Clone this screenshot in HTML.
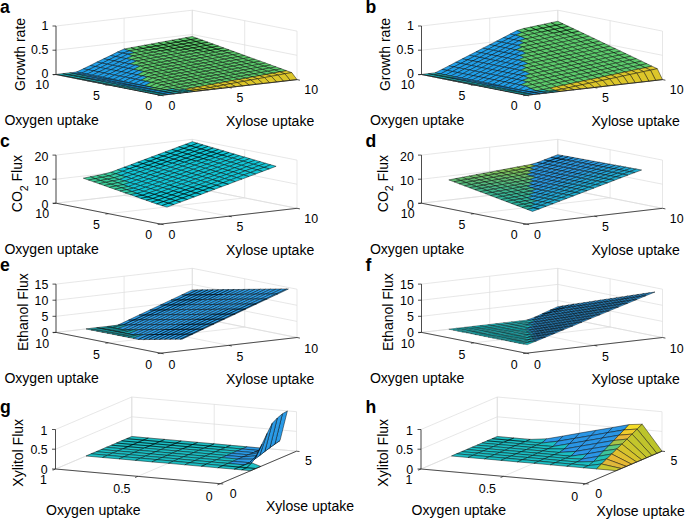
<!DOCTYPE html>
<html><head><meta charset="utf-8"><style>html,body{margin:0;padding:0;background:#fff;width:685px;height:520px;overflow:hidden}svg{display:block}text{font-family:"Liberation Sans",sans-serif}</style></head>
<body><svg width="685" height="520" viewBox="0 0 685 520" font-family='"Liberation Sans", sans-serif' fill="#000"><line x1="160.7" y1="95.3" x2="56" y2="74.5" stroke="#dcdcdc" stroke-width="0.7"/>
<line x1="56" y1="74.5" x2="56" y2="26" stroke="#dcdcdc" stroke-width="0.7"/>
<line x1="228.8" y1="87.5" x2="124.1" y2="66.6" stroke="#dcdcdc" stroke-width="0.7"/>
<line x1="124.1" y1="66.6" x2="124.1" y2="18.1" stroke="#dcdcdc" stroke-width="0.7"/>
<line x1="297" y1="79.6" x2="192.3" y2="58.7" stroke="#dcdcdc" stroke-width="0.7"/>
<line x1="192.3" y1="58.7" x2="192.3" y2="10.2" stroke="#dcdcdc" stroke-width="0.7"/>
<line x1="160.7" y1="95.3" x2="297" y2="79.6" stroke="#dcdcdc" stroke-width="0.7"/>
<line x1="297" y1="79.6" x2="297" y2="31.1" stroke="#dcdcdc" stroke-width="0.7"/>
<line x1="108.3" y1="84.9" x2="244.7" y2="69.2" stroke="#dcdcdc" stroke-width="0.7"/>
<line x1="244.7" y1="69.2" x2="244.7" y2="20.7" stroke="#dcdcdc" stroke-width="0.7"/>
<line x1="56" y1="74.5" x2="192.3" y2="58.7" stroke="#dcdcdc" stroke-width="0.7"/>
<line x1="192.3" y1="58.7" x2="192.3" y2="10.2" stroke="#dcdcdc" stroke-width="0.7"/>
<line x1="56" y1="74.5" x2="192.3" y2="58.7" stroke="#dcdcdc" stroke-width="0.7"/>
<line x1="192.3" y1="58.7" x2="297" y2="79.6" stroke="#dcdcdc" stroke-width="0.7"/>
<line x1="56" y1="50.2" x2="192.3" y2="34.5" stroke="#dcdcdc" stroke-width="0.7"/>
<line x1="192.3" y1="34.5" x2="297" y2="55.3" stroke="#dcdcdc" stroke-width="0.7"/>
<line x1="56" y1="26" x2="192.3" y2="10.2" stroke="#dcdcdc" stroke-width="0.7"/>
<line x1="192.3" y1="10.2" x2="297" y2="31.1" stroke="#dcdcdc" stroke-width="0.7"/>
<g stroke="#000" stroke-width="0.45" stroke-linejoin="round">
<path fill="#5ccc6c" d="M190.7 39.6 197.5 38.4 192.3 36.5 185.5 37.7ZM183.9 40.9 190.7 39.6 185.5 37.7 178.7 39ZM196 41.5 202.8 40.3 197.5 38.4 190.7 39.6ZM177.1 42.1 183.9 40.9 178.7 39 171.9 40.2ZM189.1 42.8 196 41.5 190.7 39.6 183.9 40.9ZM201.2 43.4 208 42.2 202.8 40.3 196 41.5ZM170.3 43.4 177.1 42.1 171.9 40.2 165 41.5ZM182.3 44 189.1 42.8 183.9 40.9 177.1 42.1ZM194.4 44.7 201.2 43.4 196 41.5 189.1 42.8ZM206.4 45.3 213.2 44.1 208 42.2 201.2 43.4ZM163.5 44.6 170.3 43.4 165 41.5 158.2 42.7ZM175.5 45.3 182.3 44 177.1 42.1 170.3 43.4ZM187.6 45.9 194.4 44.7 189.1 42.8 182.3 44ZM199.6 46.6 206.4 45.3 201.2 43.4 194.4 44.7ZM156.6 45.9 163.5 44.6 158.2 42.7 151.4 44ZM211.7 47.2 218.5 46 213.2 44.1 206.4 45.3ZM168.7 46.5 175.5 45.3 170.3 43.4 163.5 44.6ZM180.7 47.2 187.6 45.9 182.3 44 175.5 45.3ZM192.8 47.8 199.6 46.6 194.4 44.7 187.6 45.9ZM149.8 47.1 156.6 45.9 151.4 44 144.6 45.2ZM204.8 48.5 211.7 47.2 206.4 45.3 199.6 46.6ZM161.9 47.8 168.7 46.5 163.5 44.6 156.6 45.9ZM216.9 49.1 223.7 47.9 218.5 46 211.7 47.2ZM173.9 48.4 180.7 47.2 175.5 45.3 168.7 46.5ZM186 49.1 192.8 47.8 187.6 45.9 180.7 47.2ZM143 48.4 149.8 47.1 144.6 45.2 137.8 46.5ZM198 49.7 204.8 48.5 199.6 46.6 192.8 47.8ZM155.1 49 161.9 47.8 156.6 45.9 149.8 47.1ZM210.1 50.4 216.9 49.1 211.7 47.2 204.8 48.5ZM167.1 49.7 173.9 48.4 168.7 46.5 161.9 47.8ZM222.1 51 228.9 49.8 223.7 47.9 216.9 49.1ZM179.2 50.3 186 49.1 180.7 47.2 173.9 48.4ZM136.2 49.6 143 48.4 137.8 46.5 131 47.7ZM191.2 51 198 49.7 192.8 47.8 186 49.1ZM148.2 50.3 155.1 49 149.8 47.1 143 48.4ZM203.3 51.6 210.1 50.4 204.8 48.5 198 49.7ZM160.3 50.9 167.1 49.7 161.9 47.8 155.1 49ZM215.3 52.3 222.1 51 216.9 49.1 210.1 50.4ZM172.4 51.6 179.2 50.3 173.9 48.4 167.1 49.7ZM129.4 50.9 136.2 49.6 131 47.7 124.1 49ZM227.4 52.9 234.2 51.7 228.9 49.8 222.1 51ZM184.4 52.2 191.2 51 186 49.1 179.2 50.3ZM141.4 51.5 148.2 50.3 143 48.4 136.2 49.6ZM196.4 52.9 203.3 51.6 198 49.7 191.2 51ZM153.5 52.2 160.3 50.9 155.1 49 148.2 50.3ZM208.5 53.5 215.3 52.3 210.1 50.4 203.3 51.6ZM165.5 52.8 172.4 51.6 167.1 49.7 160.3 50.9Z"/>
<path fill="#20a0ea" d="M122.6 53.2 129.4 50.9 124.1 49 117.3 52.1Z"/>
<path fill="#5ccc6c" d="M220.6 54.2 227.4 52.9 222.1 51 215.3 52.3ZM177.6 53.5 184.4 52.2 179.2 50.3 172.4 51.6ZM134.6 52.8 141.4 51.5 136.2 49.6 129.4 50.9ZM232.6 54.8 239.4 53.6 234.2 51.7 227.4 52.9ZM189.6 54.1 196.4 52.9 191.2 51 184.4 52.2ZM146.7 53.4 153.5 52.2 148.2 50.3 141.4 51.5ZM201.7 54.8 208.5 53.5 203.3 51.6 196.4 52.9ZM158.7 54.1 165.5 52.8 160.3 50.9 153.5 52.2Z"/>
<path fill="#20a0ea" d="M115.8 56.5 122.6 53.2 117.3 52.1 110.5 55.5Z"/>
<path fill="#5ccc6c" d="M213.7 55.4 220.6 54.2 215.3 52.3 208.5 53.5ZM170.8 54.7 177.6 53.5 172.4 51.6 165.5 52.8Z"/>
<path fill="#20a0ea" d="M127.8 54.2 134.6 52.8 129.4 50.9 122.6 53.2Z"/>
<path fill="#5ccc6c" d="M225.8 56.1 232.6 54.8 227.4 52.9 220.6 54.2ZM182.8 55.4 189.6 54.1 184.4 52.2 177.6 53.5ZM139.9 54.7 146.7 53.4 141.4 51.5 134.6 52.8ZM237.8 56.7 244.7 55.5 239.4 53.6 232.6 54.8ZM194.9 56 201.7 54.8 196.4 52.9 189.6 54.1ZM151.9 55.3 158.7 54.1 153.5 52.2 146.7 53.4Z"/>
<path fill="#20a0ea" d="M108.9 59.8 115.8 56.5 110.5 55.5 103.7 58.8Z"/>
<path fill="#5ccc6c" d="M206.9 56.7 213.7 55.4 208.5 53.5 201.7 54.8ZM164 56 170.8 54.7 165.5 52.8 158.7 54.1Z"/>
<path fill="#20a0ea" d="M121 57.6 127.8 54.2 122.6 53.2 115.8 56.5Z"/>
<path fill="#5ccc6c" d="M219 57.3 225.8 56.1 220.6 54.2 213.7 55.4ZM176 56.6 182.8 55.4 177.6 53.5 170.8 54.7ZM133 55.9 139.9 54.7 134.6 52.8 127.8 54.2ZM231 58 237.8 56.7 232.6 54.8 225.8 56.1ZM188.1 57.3 194.9 56 189.6 54.1 182.8 55.4ZM145.1 56.6 151.9 55.3 146.7 53.4 139.9 54.7Z"/>
<path fill="#20a0ea" d="M102.1 63.2 108.9 59.8 103.7 58.8 96.9 62.1Z"/>
<path fill="#5ccc6c" d="M243.1 58.6 249.9 57.4 244.7 55.5 237.8 56.7ZM200.1 57.9 206.9 56.7 201.7 54.8 194.9 56ZM157.1 57.2 164 56 158.7 54.1 151.9 55.3Z"/>
<path fill="#20a0ea" d="M114.2 60.9 121 57.6 115.8 56.5 108.9 59.8Z"/>
<path fill="#5ccc6c" d="M212.2 58.6 219 57.3 213.7 55.4 206.9 56.7ZM169.2 57.9 176 56.6 170.8 54.7 164 56Z"/>
<path fill="#20a0ea" d="M126.2 58.6 133 55.9 127.8 54.2 121 57.6Z"/>
<path fill="#5ccc6c" d="M224.2 59.2 231 58 225.8 56.1 219 57.3ZM181.2 58.5 188.1 57.3 182.8 55.4 176 56.6ZM138.3 57.8 145.1 56.6 139.9 54.7 133 55.9Z"/>
<path fill="#20a0ea" d="M95.3 66.5 102.1 63.2 96.9 62.1 90.1 65.5Z"/>
<path fill="#5ccc6c" d="M236.3 59.9 243.1 58.6 237.8 56.7 231 58ZM193.3 59.2 200.1 57.9 194.9 56 188.1 57.3ZM150.3 58.5 157.1 57.2 151.9 55.3 145.1 56.6Z"/>
<path fill="#20a0ea" d="M107.4 64.2 114.2 60.9 108.9 59.8 102.1 63.2Z"/>
<path fill="#5ccc6c" d="M248.3 60.5 255.1 59.3 249.9 57.4 243.1 58.6ZM205.3 59.8 212.2 58.6 206.9 56.7 200.1 57.9ZM162.4 59.1 169.2 57.9 164 56 157.1 57.2Z"/>
<path fill="#20a0ea" d="M119.4 61.9 126.2 58.6 121 57.6 114.2 60.9Z"/>
<path fill="#5ccc6c" d="M217.4 60.5 224.2 59.2 219 57.3 212.2 58.6ZM174.4 59.8 181.2 58.5 176 56.6 169.2 57.9ZM131.5 59.6 138.3 57.8 133 55.9 126.2 58.6Z"/>
<path fill="#20a0ea" d="M88.5 69.8 95.3 66.5 90.1 65.5 83.3 68.8Z"/>
<path fill="#5ccc6c" d="M229.4 61.1 236.3 59.9 231 58 224.2 59.2ZM186.5 60.4 193.3 59.2 188.1 57.3 181.2 58.5ZM143.5 59.7 150.3 58.5 145.1 56.6 138.3 57.8Z"/>
<path fill="#20a0ea" d="M100.5 67.6 107.4 64.2 102.1 63.2 95.3 66.5Z"/>
<path fill="#5ccc6c" d="M241.5 61.8 248.3 60.5 243.1 58.6 236.3 59.9ZM198.5 61.1 205.3 59.8 200.1 57.9 193.3 59.2ZM155.6 60.4 162.4 59.1 157.1 57.2 150.3 58.5Z"/>
<path fill="#20a0ea" d="M112.6 65.3 119.4 61.9 114.2 60.9 107.4 64.2Z"/>
<path fill="#5ccc6c" d="M253.5 62.4 260.4 61.2 255.1 59.3 248.3 60.5ZM210.6 61.7 217.4 60.5 212.2 58.6 205.3 59.8ZM167.6 61 174.4 59.8 169.2 57.9 162.4 59.1Z"/>
<path fill="#20a0ea" d="M124.6 63 131.5 59.6 126.2 58.6 119.4 61.9ZM81.7 73.2 88.5 69.8 83.3 68.8 76.4 72.1Z"/>
<path fill="#5ccc6c" d="M222.6 62.4 229.4 61.1 224.2 59.2 217.4 60.5ZM179.7 61.7 186.5 60.4 181.2 58.5 174.4 59.8ZM136.7 61 143.5 59.7 138.3 57.8 131.5 59.6Z"/>
<path fill="#20a0ea" d="M93.7 70.9 100.5 67.6 95.3 66.5 88.5 69.8Z"/>
<path fill="#5ccc6c" d="M234.7 63 241.5 61.8 236.3 59.9 229.4 61.1ZM191.7 62.3 198.5 61.1 193.3 59.2 186.5 60.4ZM148.7 61.6 155.6 60.4 150.3 58.5 143.5 59.7Z"/>
<path fill="#20a0ea" d="M105.8 68.6 112.6 65.3 107.4 64.2 100.5 67.6Z"/>
<path fill="#5ccc6c" d="M246.7 63.7 253.5 62.4 248.3 60.5 241.5 61.8ZM203.8 63 210.6 61.7 205.3 59.8 198.5 61.1ZM160.8 62.3 167.6 61 162.4 59.1 155.6 60.4Z"/>
<path fill="#20a0ea" d="M117.8 66.3 124.6 63 119.4 61.9 112.6 65.3ZM74.9 74 81.7 73.2 76.4 72.1 69.6 72.9Z"/>
<path fill="#5ccc6c" d="M258.8 64.3 265.6 63.1 260.4 61.2 253.5 62.4ZM215.8 63.6 222.6 62.4 217.4 60.5 210.6 61.7ZM172.8 62.9 179.7 61.7 174.4 59.8 167.6 61Z"/>
<path fill="#20a0ea" d="M129.9 64 136.7 61 131.5 59.6 124.6 63ZM86.9 74.2 93.7 70.9 88.5 69.8 81.7 73.2Z"/>
<path fill="#5ccc6c" d="M227.9 64.3 234.7 63 229.4 61.1 222.6 62.4ZM184.9 63.6 191.7 62.3 186.5 60.4 179.7 61.7ZM141.9 62.9 148.7 61.6 143.5 59.7 136.7 61Z"/>
<path fill="#20a0ea" d="M99 71.9 105.8 68.6 100.5 67.6 93.7 70.9Z"/>
<path fill="#5ccc6c" d="M239.9 64.9 246.7 63.7 241.5 61.8 234.7 63ZM196.9 64.2 203.8 63 198.5 61.1 191.7 62.3ZM154 63.5 160.8 62.3 155.6 60.4 148.7 61.6Z"/>
<path fill="#20a0ea" d="M111 69.6 117.8 66.3 112.6 65.3 105.8 68.6Z"/>
<path fill="#1bbfc4" d="M68 74.8 74.9 74 69.6 72.9 62.8 73.7Z"/>
<path fill="#5ccc6c" d="M252 65.6 258.8 64.3 253.5 62.4 246.7 63.7ZM209 64.9 215.8 63.6 210.6 61.7 203.8 63ZM166 64.2 172.8 62.9 167.6 61 160.8 62.3Z"/>
<path fill="#20a0ea" d="M123.1 67.3 129.9 64 124.6 63 117.8 66.3ZM80.1 75 86.9 74.2 81.7 73.2 74.9 74Z"/>
<path fill="#5ccc6c" d="M264 66.2 270.8 65 265.6 63.1 258.8 64.3ZM221 65.5 227.9 64.3 222.6 62.4 215.8 63.6ZM178.1 64.8 184.9 63.6 179.7 61.7 172.8 62.9ZM135.1 65.1 141.9 62.9 136.7 61 129.9 64Z"/>
<path fill="#20a0ea" d="M92.1 75.3 99 71.9 93.7 70.9 86.9 74.2Z"/>
<path fill="#5ccc6c" d="M233.1 66.2 239.9 64.9 234.7 63 227.9 64.3ZM190.1 65.5 196.9 64.2 191.7 62.3 184.9 63.6ZM147.2 64.8 154 63.5 148.7 61.6 141.9 62.9Z"/>
<path fill="#20a0ea" d="M104.2 73 111 69.6 105.8 68.6 99 71.9Z"/>
<path fill="#1bbfc4" d="M61.2 75.5 68 74.8 62.8 73.7 56 74.5Z"/>
<path fill="#5ccc6c" d="M245.1 66.8 252 65.6 246.7 63.7 239.9 64.9ZM202.2 66.1 209 64.9 203.8 63 196.9 64.2ZM159.2 65.4 166 64.2 160.8 62.3 154 63.5Z"/>
<path fill="#20a0ea" d="M116.2 70.7 123.1 67.3 117.8 66.3 111 69.6Z"/>
<path fill="#1bbfc4" d="M73.3 75.8 80.1 75 74.9 74 68 74.8Z"/>
<path fill="#5ccc6c" d="M257.2 67.5 264 66.2 258.8 64.3 252 65.6ZM214.2 66.8 221 65.5 215.8 63.6 209 64.9ZM171.3 66.1 178.1 64.8 172.8 62.9 166 64.2Z"/>
<path fill="#20a0ea" d="M128.3 68.4 135.1 65.1 129.9 64 123.1 67.3ZM85.3 76.1 92.1 75.3 86.9 74.2 80.1 75Z"/>
<path fill="#5ccc6c" d="M269.2 68.1 276.1 66.9 270.8 65 264 66.2ZM226.3 67.4 233.1 66.2 227.9 64.3 221 65.5ZM183.3 66.7 190.1 65.5 184.9 63.6 178.1 64.8ZM140.3 66.1 147.2 64.8 141.9 62.9 135.1 65.1Z"/>
<path fill="#20a0ea" d="M97.4 76.3 104.2 73 99 71.9 92.1 75.3Z"/>
<path fill="#5ccc6c" d="M238.3 68.1 245.1 66.8 239.9 64.9 233.1 66.2ZM195.4 67.4 202.2 66.1 196.9 64.2 190.1 65.5ZM152.4 66.7 159.2 65.4 154 63.5 147.2 64.8Z"/>
<path fill="#20a0ea" d="M109.4 74 116.2 70.7 111 69.6 104.2 73Z"/>
<path fill="#1bbfc4" d="M66.5 76.6 73.3 75.8 68 74.8 61.2 75.5Z"/>
<path fill="#5ccc6c" d="M250.4 68.7 257.2 67.5 252 65.6 245.1 66.8ZM207.4 68 214.2 66.8 209 64.9 202.2 66.1ZM164.4 67.3 171.3 66.1 166 64.2 159.2 65.4Z"/>
<path fill="#20a0ea" d="M121.5 71.7 128.3 68.4 123.1 67.3 116.2 70.7Z"/>
<path fill="#1bbfc4" d="M78.5 76.8 85.3 76.1 80.1 75 73.3 75.8Z"/>
<path fill="#5ccc6c" d="M262.4 69.4 269.2 68.1 264 66.2 257.2 67.5ZM219.5 68.7 226.3 67.4 221 65.5 214.2 66.8ZM176.5 68 183.3 66.7 178.1 64.8 171.3 66.1Z"/>
<path fill="#20a0ea" d="M133.5 69.4 140.3 66.1 135.1 65.1 128.3 68.4ZM90.6 77.1 97.4 76.3 92.1 75.3 85.3 76.1Z"/>
<path fill="#5ccc6c" d="M274.5 70 281.3 68.8 276.1 66.9 269.2 68.1ZM231.5 69.3 238.3 68.1 233.1 66.2 226.3 67.4ZM188.5 68.6 195.4 67.4 190.1 65.5 183.3 66.7ZM145.6 67.9 152.4 66.7 147.2 64.8 140.3 66.1Z"/>
<path fill="#20a0ea" d="M102.6 77.3 109.4 74 104.2 73 97.4 76.3Z"/>
<path fill="#5ccc6c" d="M243.6 70 250.4 68.7 245.1 66.8 238.3 68.1ZM200.6 69.3 207.4 68 202.2 66.1 195.4 67.4ZM157.6 68.6 164.4 67.3 159.2 65.4 152.4 66.7Z"/>
<path fill="#20a0ea" d="M114.7 75.1 121.5 71.7 116.2 70.7 109.4 74Z"/>
<path fill="#1bbfc4" d="M71.7 77.6 78.5 76.8 73.3 75.8 66.5 76.6Z"/>
<path fill="#5ccc6c" d="M255.6 70.6 262.4 69.4 257.2 67.5 250.4 68.7ZM212.6 69.9 219.5 68.7 214.2 66.8 207.4 68ZM169.7 69.2 176.5 68 171.3 66.1 164.4 67.3Z"/>
<path fill="#20a0ea" d="M126.7 72.8 133.5 69.4 128.3 68.4 121.5 71.7Z"/>
<path fill="#1bbfc4" d="M83.8 77.9 90.6 77.1 85.3 76.1 78.5 76.8Z"/>
<path fill="#5ccc6c" d="M267.7 71.3 274.5 70 269.2 68.1 262.4 69.4ZM224.7 70.6 231.5 69.3 226.3 67.4 219.5 68.7ZM181.7 69.9 188.5 68.6 183.3 66.7 176.5 68ZM138.8 70.5 145.6 67.9 140.3 66.1 133.5 69.4Z"/>
<path fill="#20a0ea" d="M95.8 78.1 102.6 77.3 97.4 76.3 90.6 77.1Z"/>
<path fill="#5ccc6c" d="M279.7 71.9 286.5 70.7 281.3 68.8 274.5 70ZM236.8 71.2 243.6 70 238.3 68.1 231.5 69.3ZM193.8 70.5 200.6 69.3 195.4 67.4 188.5 68.6ZM150.8 69.8 157.6 68.6 152.4 66.7 145.6 67.9Z"/>
<path fill="#20a0ea" d="M107.9 78.4 114.7 75.1 109.4 74 102.6 77.3Z"/>
<path fill="#5ccc6c" d="M248.8 71.9 255.6 70.6 250.4 68.7 243.6 70ZM205.8 71.2 212.6 69.9 207.4 68 200.6 69.3ZM162.9 70.5 169.7 69.2 164.4 67.3 157.6 68.6Z"/>
<path fill="#20a0ea" d="M119.9 76.1 126.7 72.8 121.5 71.7 114.7 75.1Z"/>
<path fill="#1bbfc4" d="M76.9 78.7 83.8 77.9 78.5 76.8 71.7 77.6Z"/>
<path fill="#5ccc6c" d="M260.9 72.5 267.7 71.3 262.4 69.4 255.6 70.6ZM217.9 71.8 224.7 70.6 219.5 68.7 212.6 69.9ZM174.9 71.1 181.7 69.9 176.5 68 169.7 69.2Z"/>
<path fill="#20a0ea" d="M132 73.8 138.8 70.5 133.5 69.4 126.7 72.8ZM89 78.9 95.8 78.1 90.6 77.1 83.8 77.9Z"/>
<path fill="#5ccc6c" d="M272.9 73.2 279.7 71.9 274.5 70 267.7 71.3ZM229.9 72.5 236.8 71.2 231.5 69.3 224.7 70.6ZM187 71.8 193.8 70.5 188.5 68.6 181.7 69.9ZM144 71.5 150.8 69.8 145.6 67.9 138.8 70.5Z"/>
<path fill="#20a0ea" d="M101 79.2 107.9 78.4 102.6 77.3 95.8 78.1Z"/>
<path fill="#dcc62a" d="M284.9 73.8 291.8 72.6 286.5 70.7 279.7 71.9Z"/>
<path fill="#5ccc6c" d="M242 73.1 248.8 71.9 243.6 70 236.8 71.2ZM199 72.4 205.8 71.2 200.6 69.3 193.8 70.5ZM156.1 71.7 162.9 70.5 157.6 68.6 150.8 69.8Z"/>
<path fill="#20a0ea" d="M113.1 79.4 119.9 76.1 114.7 75.1 107.9 78.4Z"/>
<path fill="#5ccc6c" d="M254 73.8 260.9 72.5 255.6 70.6 248.8 71.9ZM211.1 73.1 217.9 71.8 212.6 69.9 205.8 71.2ZM168.1 72.4 174.9 71.1 169.7 69.2 162.9 70.5Z"/>
<path fill="#20a0ea" d="M125.1 77.1 132 73.8 126.7 72.8 119.9 76.1Z"/>
<path fill="#1bbfc4" d="M82.2 79.7 89 78.9 83.8 77.9 76.9 78.7Z"/>
<path fill="#5ccc6c" d="M266.1 74.4 272.9 73.2 267.7 71.3 260.9 72.5ZM223.1 73.7 229.9 72.5 224.7 70.6 217.9 71.8ZM180.2 73 187 71.8 181.7 69.9 174.9 71.1Z"/>
<path fill="#20a0ea" d="M137.2 74.9 144 71.5 138.8 70.5 132 73.8ZM94.2 80 101 79.2 95.8 78.1 89 78.9Z"/>
<path fill="#dcc62a" d="M278.1 75.1 284.9 73.8 279.7 71.9 272.9 73.2Z"/>
<path fill="#5ccc6c" d="M235.2 74.4 242 73.1 236.8 71.2 229.9 72.5ZM192.2 73.7 199 72.4 193.8 70.5 187 71.8ZM149.2 72.9 156.1 71.7 150.8 69.8 144 71.5Z"/>
<path fill="#20a0ea" d="M106.3 80.2 113.1 79.4 107.9 78.4 101 79.2Z"/>
<path fill="#dcc62a" d="M290.2 80.4 297 79.6 291.8 72.6 284.9 73.8Z"/>
<path fill="#5ccc6c" d="M247.2 75 254 73.8 248.8 71.9 242 73.1ZM204.3 74.3 211.1 73.1 205.8 71.2 199 72.4ZM161.3 73.6 168.1 72.4 162.9 70.5 156.1 71.7Z"/>
<path fill="#20a0ea" d="M118.3 80.5 125.1 77.1 119.9 76.1 113.1 79.4Z"/>
<path fill="#5ccc6c" d="M259.3 75.7 266.1 74.4 260.9 72.5 254 73.8ZM216.3 75 223.1 73.7 217.9 71.8 211.1 73.1ZM173.3 74.2 180.2 73 174.9 71.1 168.1 72.4Z"/>
<path fill="#20a0ea" d="M130.4 78.2 137.2 74.9 132 73.8 125.1 77.1Z"/>
<path fill="#1bbfc4" d="M87.4 80.8 94.2 80 89 78.9 82.2 79.7Z"/>
<path fill="#dcc62a" d="M271.3 76.3 278.1 75.1 272.9 73.2 266.1 74.4Z"/>
<path fill="#5ccc6c" d="M228.4 75.6 235.2 74.4 229.9 72.5 223.1 73.7ZM185.4 74.9 192.2 73.7 187 71.8 180.2 73ZM142.4 75.9 149.2 72.9 144 71.5 137.2 74.9Z"/>
<path fill="#20a0ea" d="M99.5 81 106.3 80.2 101 79.2 94.2 80Z"/>
<path fill="#dcc62a" d="M283.4 81.2 290.2 80.4 284.9 73.8 278.1 75.1Z"/>
<path fill="#5ccc6c" d="M240.4 76.3 247.2 75 242 73.1 235.2 74.4ZM197.4 75.6 204.3 74.3 199 72.4 192.2 73.7ZM154.5 74.8 161.3 73.6 156.1 71.7 149.2 72.9Z"/>
<path fill="#20a0ea" d="M111.5 81.3 118.3 80.5 113.1 79.4 106.3 80.2Z"/>
<path fill="#5ccc6c" d="M252.5 76.9 259.3 75.7 254 73.8 247.2 75ZM209.5 76.2 216.3 75 211.1 73.1 204.3 74.3ZM166.5 75.5 173.3 74.2 168.1 72.4 161.3 73.6Z"/>
<path fill="#20a0ea" d="M123.6 81.5 130.4 78.2 125.1 77.1 118.3 80.5Z"/>
<path fill="#dcc62a" d="M264.5 77.6 271.3 76.3 266.1 74.4 259.3 75.7Z"/>
<path fill="#5ccc6c" d="M221.5 76.9 228.4 75.6 223.1 73.7 216.3 75ZM178.6 76.1 185.4 74.9 180.2 73 173.3 74.2Z"/>
<path fill="#20a0ea" d="M135.6 79.2 142.4 75.9 137.2 74.9 130.4 78.2Z"/>
<path fill="#1bbfc4" d="M92.6 81.8 99.5 81 94.2 80 87.4 80.8Z"/>
<path fill="#dcc62a" d="M276.6 82 283.4 81.2 278.1 75.1 271.3 76.3Z"/>
<path fill="#5ccc6c" d="M233.6 77.5 240.4 76.3 235.2 74.4 228.4 75.6ZM190.6 76.8 197.4 75.6 192.2 73.7 185.4 74.9ZM147.7 76.9 154.5 74.8 149.2 72.9 142.4 75.9Z"/>
<path fill="#20a0ea" d="M104.7 82.1 111.5 81.3 106.3 80.2 99.5 81Z"/>
<path fill="#5ccc6c" d="M245.6 78.2 252.5 76.9 247.2 75 240.4 76.3ZM202.7 77.4 209.5 76.2 204.3 74.3 197.4 75.6ZM159.7 76.7 166.5 75.5 161.3 73.6 154.5 74.8Z"/>
<path fill="#20a0ea" d="M116.7 82.3 123.6 81.5 118.3 80.5 111.5 81.3Z"/>
<path fill="#dcc62a" d="M257.7 78.8 264.5 77.6 259.3 75.7 252.5 76.9Z"/>
<path fill="#5ccc6c" d="M214.7 78.1 221.5 76.9 216.3 75 209.5 76.2ZM171.8 77.4 178.6 76.1 173.3 74.2 166.5 75.5Z"/>
<path fill="#20a0ea" d="M128.8 82.6 135.6 79.2 130.4 78.2 123.6 81.5Z"/>
<path fill="#dcc62a" d="M269.7 82.8 276.6 82 271.3 76.3 264.5 77.6Z"/>
<path fill="#5ccc6c" d="M226.8 78.7 233.6 77.5 228.4 75.6 221.5 76.9ZM183.8 78 190.6 76.8 185.4 74.9 178.6 76.1Z"/>
<path fill="#20a0ea" d="M140.8 80.3 147.7 76.9 142.4 75.9 135.6 79.2Z"/>
<path fill="#1bbfc4" d="M97.9 82.8 104.7 82.1 99.5 81 92.6 81.8Z"/>
<path fill="#5ccc6c" d="M238.8 79.4 245.6 78.2 240.4 76.3 233.6 77.5ZM195.9 78.7 202.7 77.4 197.4 75.6 190.6 76.8ZM152.9 78 159.7 76.7 154.5 74.8 147.7 76.9Z"/>
<path fill="#20a0ea" d="M109.9 83.1 116.7 82.3 111.5 81.3 104.7 82.1Z"/>
<path fill="#dcc62a" d="M250.9 80 257.7 78.8 252.5 76.9 245.6 78.2Z"/>
<path fill="#5ccc6c" d="M207.9 79.3 214.7 78.1 209.5 76.2 202.7 77.4ZM164.9 78.6 171.8 77.4 166.5 75.5 159.7 76.7Z"/>
<path fill="#20a0ea" d="M122 83.3 128.8 82.6 123.6 81.5 116.7 82.3Z"/>
<path fill="#dcc62a" d="M262.9 83.5 269.7 82.8 264.5 77.6 257.7 78.8Z"/>
<path fill="#5ccc6c" d="M220 80 226.8 78.7 221.5 76.9 214.7 78.1ZM177 79.3 183.8 78 178.6 76.1 171.8 77.4Z"/>
<path fill="#20a0ea" d="M134 83.6 140.8 80.3 135.6 79.2 128.8 82.6Z"/>
<path fill="#5ccc6c" d="M232 80.6 238.8 79.4 233.6 77.5 226.8 78.7ZM189 79.9 195.9 78.7 190.6 76.8 183.8 78ZM146.1 81.3 152.9 78 147.7 76.9 140.8 80.3Z"/>
<path fill="#1bbfc4" d="M103.1 83.9 109.9 83.1 104.7 82.1 97.9 82.8Z"/>
<path fill="#dcc62a" d="M244.1 81.3 250.9 80 245.6 78.2 238.8 79.4Z"/>
<path fill="#5ccc6c" d="M201.1 80.6 207.9 79.3 202.7 77.4 195.9 78.7ZM158.1 79.9 164.9 78.6 159.7 76.7 152.9 78Z"/>
<path fill="#20a0ea" d="M115.2 84.1 122 83.3 116.7 82.3 109.9 83.1Z"/>
<path fill="#dcc62a" d="M256.1 84.3 262.9 83.5 257.7 78.8 250.9 80Z"/>
<path fill="#5ccc6c" d="M213.1 81.2 220 80 214.7 78.1 207.9 79.3ZM170.2 80.5 177 79.3 171.8 77.4 164.9 78.6Z"/>
<path fill="#20a0ea" d="M127.2 84.4 134 83.6 128.8 82.6 122 83.3Z"/>
<path fill="#5ccc6c" d="M225.2 81.9 232 80.6 226.8 78.7 220 80ZM182.2 81.2 189 79.9 183.8 78 177 79.3Z"/>
<path fill="#20a0ea" d="M139.3 84.6 146.1 81.3 140.8 80.3 134 83.6Z"/>
<path fill="#dcc62a" d="M237.2 82.5 244.1 81.3 238.8 79.4 232 80.6Z"/>
<path fill="#5ccc6c" d="M194.3 81.8 201.1 80.6 195.9 78.7 189 79.9ZM151.3 82.4 158.1 79.9 152.9 78 146.1 81.3Z"/>
<path fill="#1bbfc4" d="M108.3 84.9 115.2 84.1 109.9 83.1 103.1 83.9Z"/>
<path fill="#dcc62a" d="M249.3 85.1 256.1 84.3 250.9 80 244.1 81.3Z"/>
<path fill="#5ccc6c" d="M206.3 82.5 213.1 81.2 207.9 79.3 201.1 80.6ZM163.4 81.8 170.2 80.5 164.9 78.6 158.1 79.9Z"/>
<path fill="#20a0ea" d="M120.4 85.2 127.2 84.4 122 83.3 115.2 84.1Z"/>
<path fill="#5ccc6c" d="M218.4 83.1 225.2 81.9 220 80 213.1 81.2ZM175.4 82.4 182.2 81.2 177 79.3 170.2 80.5Z"/>
<path fill="#20a0ea" d="M132.4 85.4 139.3 84.6 134 83.6 127.2 84.4Z"/>
<path fill="#dcc62a" d="M230.4 83.8 237.2 82.5 232 80.6 225.2 81.9Z"/>
<path fill="#5ccc6c" d="M187.5 83.1 194.3 81.8 189 79.9 182.2 81.2Z"/>
<path fill="#20a0ea" d="M144.5 85.7 151.3 82.4 146.1 81.3 139.3 84.6Z"/>
<path fill="#dcc62a" d="M242.5 85.9 249.3 85.1 244.1 81.3 237.2 82.5Z"/>
<path fill="#5ccc6c" d="M199.5 83.7 206.3 82.5 201.1 80.6 194.3 81.8ZM156.5 83.4 163.4 81.8 158.1 79.9 151.3 82.4Z"/>
<path fill="#1bbfc4" d="M113.6 86 120.4 85.2 115.2 84.1 108.3 84.9Z"/>
<path fill="#5ccc6c" d="M211.6 84.4 218.4 83.1 213.1 81.2 206.3 82.5ZM168.6 83.7 175.4 82.4 170.2 80.5 163.4 81.8Z"/>
<path fill="#20a0ea" d="M125.6 86.2 132.4 85.4 127.2 84.4 120.4 85.2Z"/>
<path fill="#dcc62a" d="M223.6 85 230.4 83.8 225.2 81.9 218.4 83.1Z"/>
<path fill="#5ccc6c" d="M180.6 84.3 187.5 83.1 182.2 81.2 175.4 82.4Z"/>
<path fill="#20a0ea" d="M137.7 86.5 144.5 85.7 139.3 84.6 132.4 85.4Z"/>
<path fill="#dcc62a" d="M235.7 86.7 242.5 85.9 237.2 82.5 230.4 83.8Z"/>
<path fill="#5ccc6c" d="M192.7 85 199.5 83.7 194.3 81.8 187.5 83.1ZM149.7 86.7 156.5 83.4 151.3 82.4 144.5 85.7ZM204.8 85.6 211.6 84.4 206.3 82.5 199.5 83.7ZM161.8 84.9 168.6 83.7 163.4 81.8 156.5 83.4Z"/>
<path fill="#1bbfc4" d="M118.8 87 125.6 86.2 120.4 85.2 113.6 86Z"/>
<path fill="#dcc62a" d="M216.8 86.3 223.6 85 218.4 83.1 211.6 84.4Z"/>
<path fill="#5ccc6c" d="M173.8 85.6 180.6 84.3 175.4 82.4 168.6 83.7Z"/>
<path fill="#20a0ea" d="M130.9 87.3 137.7 86.5 132.4 85.4 125.6 86.2Z"/>
<path fill="#dcc62a" d="M228.8 87.5 235.7 86.7 230.4 83.8 223.6 85Z"/>
<path fill="#5ccc6c" d="M185.9 86.2 192.7 85 187.5 83.1 180.6 84.3Z"/>
<path fill="#20a0ea" d="M142.9 87.5 149.7 86.7 144.5 85.7 137.7 86.5Z"/>
<path fill="#5ccc6c" d="M197.9 86.9 204.8 85.6 199.5 83.7 192.7 85ZM155 87.8 161.8 84.9 156.5 83.4 149.7 86.7Z"/>
<path fill="#dcc62a" d="M210 87.5 216.8 86.3 211.6 84.4 204.8 85.6Z"/>
<path fill="#5ccc6c" d="M167 86.8 173.8 85.6 168.6 83.7 161.8 84.9Z"/>
<path fill="#1bbfc4" d="M124.1 88.1 130.9 87.3 125.6 86.2 118.8 87Z"/>
<path fill="#dcc62a" d="M222 88.3 228.8 87.5 223.6 85 216.8 86.3Z"/>
<path fill="#5ccc6c" d="M179.1 87.5 185.9 86.2 180.6 84.3 173.8 85.6Z"/>
<path fill="#20a0ea" d="M136.1 88.3 142.9 87.5 137.7 86.5 130.9 87.3Z"/>
<path fill="#5ccc6c" d="M191.1 88.1 197.9 86.9 192.7 85 185.9 86.2Z"/>
<path fill="#20a0ea" d="M148.2 88.6 155 87.8 149.7 86.7 142.9 87.5Z"/>
<path fill="#dcc62a" d="M203.2 88.8 210 87.5 204.8 85.6 197.9 86.9Z"/>
<path fill="#5ccc6c" d="M160.2 88.8 167 86.8 161.8 84.9 155 87.8Z"/>
<path fill="#dcc62a" d="M215.2 89 222 88.3 216.8 86.3 210 87.5Z"/>
<path fill="#5ccc6c" d="M172.3 88.7 179.1 87.5 173.8 85.6 167 86.8Z"/>
<path fill="#1bbfc4" d="M129.3 89.1 136.1 88.3 130.9 87.3 124.1 88.1Z"/>
<path fill="#5ccc6c" d="M184.3 89.3 191.1 88.1 185.9 86.2 179.1 87.5Z"/>
<path fill="#20a0ea" d="M141.3 89.3 148.2 88.6 142.9 87.5 136.1 88.3Z"/>
<path fill="#dcc62a" d="M196.4 89.6 203.2 88.8 197.9 86.9 191.1 88.1Z"/>
<path fill="#5ccc6c" d="M153.4 89.6 160.2 88.8 155 87.8 148.2 88.6Z"/>
<path fill="#dcc62a" d="M208.4 89.8 215.2 89 210 87.5 203.2 88.8Z"/>
<path fill="#5ccc6c" d="M165.4 89.9 172.3 88.7 167 86.8 160.2 88.8ZM177.5 90.1 184.3 89.3 179.1 87.5 172.3 88.7Z"/>
<path fill="#1bbfc4" d="M134.5 90.1 141.3 89.3 136.1 88.3 129.3 89.1Z"/>
<path fill="#dcc62a" d="M189.5 90.4 196.4 89.6 191.1 88.1 184.3 89.3Z"/>
<path fill="#20a0ea" d="M146.6 90.4 153.4 89.6 148.2 88.6 141.3 89.3Z"/>
<path fill="#dcc62a" d="M201.6 90.6 208.4 89.8 203.2 88.8 196.4 89.6Z"/>
<path fill="#5ccc6c" d="M158.6 90.6 165.4 89.9 160.2 88.8 153.4 89.6Z"/>
<path fill="#1bbfc4" d="M170.7 90.9 177.5 90.1 172.3 88.7 165.4 89.9ZM182.7 91.2 189.5 90.4 184.3 89.3 177.5 90.1ZM139.8 91.2 146.6 90.4 141.3 89.3 134.5 90.1Z"/>
<path fill="#dcc62a" d="M194.8 91.4 201.6 90.6 196.4 89.6 189.5 90.4Z"/>
<path fill="#20a0ea" d="M151.8 91.4 158.6 90.6 153.4 89.6 146.6 90.4Z"/>
<path fill="#1bbfc4" d="M163.9 91.7 170.7 90.9 165.4 89.9 158.6 90.6ZM175.9 91.9 182.7 91.2 177.5 90.1 170.7 90.9ZM188 92.2 194.8 91.4 189.5 90.4 182.7 91.2ZM145 92.2 151.8 91.4 146.6 90.4 139.8 91.2Z"/>
<path fill="#20a0ea" d="M157 92.5 163.9 91.7 158.6 90.6 151.8 91.4Z"/>
<path fill="#1bbfc4" d="M169.1 92.7 175.9 91.9 170.7 90.9 163.9 91.7ZM181.1 93 188 92.2 182.7 91.2 175.9 91.9ZM150.2 93.3 157 92.5 151.8 91.4 145 92.2Z"/>
<path fill="#20a0ea" d="M162.3 93.5 169.1 92.7 163.9 91.7 157 92.5Z"/>
<path fill="#1bbfc4" d="M174.3 93.8 181.1 93 175.9 91.9 169.1 92.7ZM155.5 94.3 162.3 93.5 157 92.5 150.2 93.3Z"/>
<path fill="#20a0ea" d="M167.5 94.6 174.3 93.8 169.1 92.7 162.3 93.5Z"/>
<path fill="#1bbfc4" d="M160.7 95.3 167.5 94.6 162.3 93.5 155.5 94.3Z"/>
</g>
<line x1="56" y1="74.5" x2="56" y2="26" stroke="#262626" stroke-width="0.8"/>
<line x1="56" y1="74.5" x2="52.5" y2="74.5" stroke="#262626" stroke-width="0.8"/>
<line x1="56" y1="50.2" x2="52.5" y2="50.2" stroke="#262626" stroke-width="0.8"/>
<line x1="56" y1="26" x2="52.5" y2="26" stroke="#262626" stroke-width="0.8"/>
<line x1="56" y1="74.5" x2="160.7" y2="95.3" stroke="#262626" stroke-width="0.8"/>
<line x1="160.7" y1="95.3" x2="297" y2="79.6" stroke="#262626" stroke-width="0.8"/>
<line x1="160.7" y1="95.3" x2="163.6" y2="95.9" stroke="#262626" stroke-width="0.8"/>
<line x1="228.8" y1="87.5" x2="231.8" y2="88.1" stroke="#262626" stroke-width="0.8"/>
<line x1="297" y1="79.6" x2="299.9" y2="80.2" stroke="#262626" stroke-width="0.8"/>
<line x1="160.7" y1="95.3" x2="157.7" y2="95.7" stroke="#262626" stroke-width="0.8"/>
<line x1="108.3" y1="84.9" x2="105.4" y2="85.3" stroke="#262626" stroke-width="0.8"/>
<line x1="56" y1="74.5" x2="53" y2="74.8" stroke="#262626" stroke-width="0.8"/>
<line x1="526.2" y1="95.3" x2="421.5" y2="74.5" stroke="#dcdcdc" stroke-width="0.7"/>
<line x1="421.5" y1="74.5" x2="421.5" y2="26" stroke="#dcdcdc" stroke-width="0.7"/>
<line x1="594.4" y1="87.5" x2="489.7" y2="66.6" stroke="#dcdcdc" stroke-width="0.7"/>
<line x1="489.7" y1="66.6" x2="489.7" y2="18.1" stroke="#dcdcdc" stroke-width="0.7"/>
<line x1="662.5" y1="79.6" x2="557.8" y2="58.7" stroke="#dcdcdc" stroke-width="0.7"/>
<line x1="557.8" y1="58.7" x2="557.8" y2="10.2" stroke="#dcdcdc" stroke-width="0.7"/>
<line x1="526.2" y1="95.3" x2="662.5" y2="79.6" stroke="#dcdcdc" stroke-width="0.7"/>
<line x1="662.5" y1="79.6" x2="662.5" y2="31.1" stroke="#dcdcdc" stroke-width="0.7"/>
<line x1="473.9" y1="84.9" x2="610.1" y2="69.2" stroke="#dcdcdc" stroke-width="0.7"/>
<line x1="610.1" y1="69.2" x2="610.1" y2="20.7" stroke="#dcdcdc" stroke-width="0.7"/>
<line x1="421.5" y1="74.5" x2="557.8" y2="58.7" stroke="#dcdcdc" stroke-width="0.7"/>
<line x1="557.8" y1="58.7" x2="557.8" y2="10.2" stroke="#dcdcdc" stroke-width="0.7"/>
<line x1="421.5" y1="74.5" x2="557.8" y2="58.7" stroke="#dcdcdc" stroke-width="0.7"/>
<line x1="557.8" y1="58.7" x2="662.5" y2="79.6" stroke="#dcdcdc" stroke-width="0.7"/>
<line x1="421.5" y1="50.2" x2="557.8" y2="34.5" stroke="#dcdcdc" stroke-width="0.7"/>
<line x1="557.8" y1="34.5" x2="662.5" y2="55.3" stroke="#dcdcdc" stroke-width="0.7"/>
<line x1="421.5" y1="26" x2="557.8" y2="10.2" stroke="#dcdcdc" stroke-width="0.7"/>
<line x1="557.8" y1="10.2" x2="662.5" y2="31.1" stroke="#dcdcdc" stroke-width="0.7"/>
<g stroke="#000" stroke-width="0.45" stroke-linejoin="round">
<path fill="#5ccc6c" d="M556.2 25.2 563 23.8 557.8 21.3 551 22.7ZM549.4 26.7 556.2 25.2 551 22.7 544.2 24.2ZM561.5 27.7 568.3 26.3 563 23.8 556.2 25.2ZM542.6 28.1 549.4 26.7 544.2 24.2 537.4 25.6ZM554.6 29.2 561.5 27.7 556.2 25.2 549.4 26.7ZM566.7 30.2 573.5 28.8 568.3 26.3 561.5 27.7ZM535.8 29.6 542.6 28.1 537.4 25.6 530.5 27.1ZM547.8 30.6 554.6 29.2 549.4 26.7 542.6 28.1ZM559.9 31.7 566.7 30.2 561.5 27.7 554.6 29.2ZM571.9 32.7 578.7 31.2 573.5 28.8 566.7 30.2ZM529 31 535.8 29.6 530.5 27.1 523.7 28.5ZM541 32.1 547.8 30.6 542.6 28.1 535.8 29.6ZM553.1 33.1 559.9 31.7 554.6 29.2 547.8 30.6ZM565.1 34.2 571.9 32.7 566.7 30.2 559.9 31.7ZM522.1 32.5 529 31 523.7 28.5 516.9 30.6ZM577.2 35.2 584 33.7 578.7 31.2 571.9 32.7ZM534.2 33.5 541 32.1 535.8 29.6 529 31ZM546.2 34.6 553.1 33.1 547.8 30.6 541 32.1ZM558.3 35.6 565.1 34.2 559.9 31.7 553.1 33.1Z"/>
<path fill="#20a0ea" d="M515.3 35.2 522.1 32.5 516.9 30.6 510.1 34.1Z"/>
<path fill="#5ccc6c" d="M570.3 36.7 577.2 35.2 571.9 32.7 565.1 34.2ZM527.4 35 534.2 33.5 529 31 522.1 32.5ZM582.4 37.7 589.2 36.2 584 33.7 577.2 35.2ZM539.4 36 546.2 34.6 541 32.1 534.2 33.5ZM551.5 37.1 558.3 35.6 553.1 33.1 546.2 34.6Z"/>
<path fill="#20a0ea" d="M508.5 38.7 515.3 35.2 510.1 34.1 503.3 37.6Z"/>
<path fill="#5ccc6c" d="M563.5 38.1 570.3 36.7 565.1 34.2 558.3 35.6ZM520.6 36.5 527.4 35 522.1 32.5 515.3 35.2ZM575.6 39.2 582.4 37.7 577.2 35.2 570.3 36.7ZM532.6 37.5 539.4 36 534.2 33.5 527.4 35ZM587.6 40.2 594.4 38.7 589.2 36.2 582.4 37.7ZM544.7 38.5 551.5 37.1 546.2 34.6 539.4 36Z"/>
<path fill="#20a0ea" d="M501.7 42.2 508.5 38.7 503.3 37.6 496.5 41.2Z"/>
<path fill="#5ccc6c" d="M556.7 39.6 563.5 38.1 558.3 35.6 551.5 37.1Z"/>
<path fill="#20a0ea" d="M513.8 39.7 520.6 36.5 515.3 35.2 508.5 38.7Z"/>
<path fill="#5ccc6c" d="M568.8 40.6 575.6 39.2 570.3 36.7 563.5 38.1ZM525.8 38.9 532.6 37.5 527.4 35 520.6 36.5ZM580.8 41.7 587.6 40.2 582.4 37.7 575.6 39.2ZM537.9 40 544.7 38.5 539.4 36 532.6 37.5Z"/>
<path fill="#20a0ea" d="M494.9 45.7 501.7 42.2 496.5 41.2 489.7 44.7Z"/>
<path fill="#5ccc6c" d="M592.9 42.7 599.7 41.2 594.4 38.7 587.6 40.2ZM549.9 41 556.7 39.6 551.5 37.1 544.7 38.5Z"/>
<path fill="#20a0ea" d="M506.9 43.3 513.8 39.7 508.5 38.7 501.7 42.2Z"/>
<path fill="#5ccc6c" d="M562 42.1 568.8 40.6 563.5 38.1 556.7 39.6Z"/>
<path fill="#20a0ea" d="M519 40.8 525.8 38.9 520.6 36.5 513.8 39.7Z"/>
<path fill="#5ccc6c" d="M574 43.1 580.8 41.7 575.6 39.2 568.8 40.6ZM531 41.4 537.9 40 532.6 37.5 525.8 38.9Z"/>
<path fill="#20a0ea" d="M488.1 49.3 494.9 45.7 489.7 44.7 482.8 48.2Z"/>
<path fill="#5ccc6c" d="M586 44.2 592.9 42.7 587.6 40.2 580.8 41.7ZM543.1 42.5 549.9 41 544.7 38.5 537.9 40Z"/>
<path fill="#20a0ea" d="M500.1 46.8 506.9 43.3 501.7 42.2 494.9 45.7Z"/>
<path fill="#5ccc6c" d="M598.1 45.2 604.9 43.7 599.7 41.2 592.9 42.7ZM555.1 43.5 562 42.1 556.7 39.6 549.9 41Z"/>
<path fill="#20a0ea" d="M512.2 44.3 519 40.8 513.8 39.7 506.9 43.3Z"/>
<path fill="#5ccc6c" d="M567.2 44.6 574 43.1 568.8 40.6 562 42.1ZM524.2 42.9 531 41.4 525.8 38.9 519 40.8Z"/>
<path fill="#20a0ea" d="M481.3 52.8 488.1 49.3 482.8 48.2 476 51.8Z"/>
<path fill="#5ccc6c" d="M579.2 45.6 586 44.2 580.8 41.7 574 43.1ZM536.3 43.9 543.1 42.5 537.9 40 531 41.4Z"/>
<path fill="#20a0ea" d="M493.3 50.3 500.1 46.8 494.9 45.7 488.1 49.3Z"/>
<path fill="#5ccc6c" d="M591.3 46.7 598.1 45.2 592.9 42.7 586 44.2ZM548.3 45 555.1 43.5 549.9 41 543.1 42.5Z"/>
<path fill="#20a0ea" d="M505.4 47.8 512.2 44.3 506.9 43.3 500.1 46.8Z"/>
<path fill="#5ccc6c" d="M603.3 47.7 610.1 46.2 604.9 43.7 598.1 45.2ZM560.4 46 567.2 44.6 562 42.1 555.1 43.5Z"/>
<path fill="#20a0ea" d="M517.4 45.3 524.2 42.9 519 40.8 512.2 44.3ZM474.4 56.3 481.3 52.8 476 51.8 469.2 55.3Z"/>
<path fill="#5ccc6c" d="M572.4 47.1 579.2 45.6 574 43.1 567.2 44.6ZM529.5 45.4 536.3 43.9 531 41.4 524.2 42.9Z"/>
<path fill="#20a0ea" d="M486.5 53.8 493.3 50.3 488.1 49.3 481.3 52.8Z"/>
<path fill="#5ccc6c" d="M584.5 48.1 591.3 46.7 586 44.2 579.2 45.6ZM541.5 46.4 548.3 45 543.1 42.5 536.3 43.9Z"/>
<path fill="#20a0ea" d="M498.5 51.4 505.4 47.8 500.1 46.8 493.3 50.3Z"/>
<path fill="#5ccc6c" d="M596.5 49.1 603.3 47.7 598.1 45.2 591.3 46.7ZM553.6 47.5 560.4 46 555.1 43.5 548.3 45Z"/>
<path fill="#20a0ea" d="M510.6 48.9 517.4 45.3 512.2 44.3 505.4 47.8ZM467.6 59.9 474.4 56.3 469.2 55.3 462.4 58.8Z"/>
<path fill="#5ccc6c" d="M608.6 50.2 615.4 48.7 610.1 46.2 603.3 47.7ZM565.6 48.5 572.4 47.1 567.2 44.6 560.4 46ZM522.6 46.9 529.5 45.4 524.2 42.9 517.4 45.3Z"/>
<path fill="#20a0ea" d="M479.7 57.4 486.5 53.8 481.3 52.8 474.4 56.3Z"/>
<path fill="#5ccc6c" d="M577.7 49.6 584.5 48.1 579.2 45.6 572.4 47.1ZM534.7 47.9 541.5 46.4 536.3 43.9 529.5 45.4Z"/>
<path fill="#20a0ea" d="M491.7 54.9 498.5 51.4 493.3 50.3 486.5 53.8Z"/>
<path fill="#5ccc6c" d="M589.7 50.6 596.5 49.1 591.3 46.7 584.5 48.1ZM546.7 48.9 553.6 47.5 548.3 45 541.5 46.4Z"/>
<path fill="#20a0ea" d="M503.8 52.4 510.6 48.9 505.4 47.8 498.5 51.4ZM460.8 63.4 467.6 59.9 462.4 58.8 455.6 62.3Z"/>
<path fill="#5ccc6c" d="M601.8 51.6 608.6 50.2 603.3 47.7 596.5 49.1ZM558.8 50 565.6 48.5 560.4 46 553.6 47.5Z"/>
<path fill="#20a0ea" d="M515.8 49.9 522.6 46.9 517.4 45.3 510.6 48.9ZM472.9 60.9 479.7 57.4 474.4 56.3 467.6 59.9Z"/>
<path fill="#5ccc6c" d="M613.8 52.7 620.6 51.2 615.4 48.7 608.6 50.2ZM570.8 51 577.7 49.6 572.4 47.1 565.6 48.5ZM527.9 49.4 534.7 47.9 529.5 45.4 522.6 46.9Z"/>
<path fill="#20a0ea" d="M484.9 58.4 491.7 54.9 486.5 53.8 479.7 57.4Z"/>
<path fill="#5ccc6c" d="M582.9 52.1 589.7 50.6 584.5 48.1 577.7 49.6ZM539.9 50.4 546.7 48.9 541.5 46.4 534.7 47.9Z"/>
<path fill="#20a0ea" d="M497 55.9 503.8 52.4 498.5 51.4 491.7 54.9ZM454 66.9 460.8 63.4 455.6 62.3 448.8 65.9Z"/>
<path fill="#5ccc6c" d="M594.9 53.1 601.8 51.6 596.5 49.1 589.7 50.6ZM552 51.4 558.8 50 553.6 47.5 546.7 48.9Z"/>
<path fill="#20a0ea" d="M509 53.4 515.8 49.9 510.6 48.9 503.8 52.4ZM466 64.4 472.9 60.9 467.6 59.9 460.8 63.4Z"/>
<path fill="#5ccc6c" d="M607 54.1 613.8 52.7 608.6 50.2 601.8 51.6ZM564 52.5 570.8 51 565.6 48.5 558.8 50ZM521.1 51 527.9 49.4 522.6 46.9 515.8 49.9Z"/>
<path fill="#20a0ea" d="M478.1 61.9 484.9 58.4 479.7 57.4 472.9 60.9Z"/>
<path fill="#5ccc6c" d="M619 55.2 625.9 53.7 620.6 51.2 613.8 52.7ZM576.1 53.5 582.9 52.1 577.7 49.6 570.8 51ZM533.1 51.9 539.9 50.4 534.7 47.9 527.9 49.4Z"/>
<path fill="#20a0ea" d="M490.1 59.5 497 55.9 491.7 54.9 484.9 58.4ZM447.2 70.4 454 66.9 448.8 65.9 441.9 69.4Z"/>
<path fill="#5ccc6c" d="M588.1 54.6 594.9 53.1 589.7 50.6 582.9 52.1ZM545.2 52.9 552 51.4 546.7 48.9 539.9 50.4Z"/>
<path fill="#20a0ea" d="M502.2 57 509 53.4 503.8 52.4 497 55.9ZM459.2 68 466 64.4 460.8 63.4 454 66.9Z"/>
<path fill="#5ccc6c" d="M600.2 55.6 607 54.1 601.8 51.6 594.9 53.1ZM557.2 53.9 564 52.5 558.8 50 552 51.4Z"/>
<path fill="#20a0ea" d="M514.2 54.5 521.1 51 515.8 49.9 509 53.4ZM471.3 65.5 478.1 61.9 472.9 60.9 466 64.4Z"/>
<path fill="#5ccc6c" d="M612.2 56.6 619 55.2 613.8 52.7 607 54.1ZM569.3 55 576.1 53.5 570.8 51 564 52.5ZM526.3 53.3 533.1 51.9 527.9 49.4 521.1 51Z"/>
<path fill="#20a0ea" d="M483.3 63 490.1 59.5 484.9 58.4 478.1 61.9ZM440.4 74 447.2 70.4 441.9 69.4 435.1 72.9Z"/>
<path fill="#5ccc6c" d="M624.3 57.7 631.1 56.2 625.9 53.7 619 55.2ZM581.3 56 588.1 54.6 582.9 52.1 576.1 53.5ZM538.3 54.4 545.2 52.9 539.9 50.4 533.1 51.9Z"/>
<path fill="#20a0ea" d="M495.4 60.5 502.2 57 497 55.9 490.1 59.5ZM452.4 71.5 459.2 68 454 66.9 447.2 70.4Z"/>
<path fill="#5ccc6c" d="M593.4 57.1 600.2 55.6 594.9 53.1 588.1 54.6ZM550.4 55.4 557.2 53.9 552 51.4 545.2 52.9Z"/>
<path fill="#20a0ea" d="M507.4 58 514.2 54.5 509 53.4 502.2 57ZM464.5 69 471.3 65.5 466 64.4 459.2 68Z"/>
<path fill="#5ccc6c" d="M605.4 58.1 612.2 56.6 607 54.1 600.2 55.6ZM562.4 56.4 569.3 55 564 52.5 557.2 53.9Z"/>
<path fill="#20a0ea" d="M519.5 55.5 526.3 53.3 521.1 51 514.2 54.5ZM476.5 66.5 483.3 63 478.1 61.9 471.3 65.5Z"/>
<path fill="#1bbfc4" d="M433.6 74.8 440.4 74 435.1 72.9 428.3 73.7Z"/>
<path fill="#5ccc6c" d="M617.5 59.1 624.3 57.7 619 55.2 612.2 56.6ZM574.5 57.5 581.3 56 576.1 53.5 569.3 55ZM531.5 55.8 538.3 54.4 533.1 51.9 526.3 53.3Z"/>
<path fill="#20a0ea" d="M488.6 64 495.4 60.5 490.1 59.5 483.3 63ZM445.6 75 452.4 71.5 447.2 70.4 440.4 74Z"/>
<path fill="#5ccc6c" d="M629.5 60.2 636.3 58.7 631.1 56.2 624.3 57.7ZM586.5 58.5 593.4 57.1 588.1 54.6 581.3 56ZM543.6 56.8 550.4 55.4 545.2 52.9 538.3 54.4Z"/>
<path fill="#20a0ea" d="M500.6 61.5 507.4 58 502.2 57 495.4 60.5ZM457.7 72.5 464.5 69 459.2 68 452.4 71.5Z"/>
<path fill="#5ccc6c" d="M598.6 59.6 605.4 58.1 600.2 55.6 593.4 57.1ZM555.6 57.9 562.4 56.4 557.2 53.9 550.4 55.4Z"/>
<path fill="#20a0ea" d="M512.7 59.1 519.5 55.5 514.2 54.5 507.4 58ZM469.7 70 476.5 66.5 471.3 65.5 464.5 69Z"/>
<path fill="#1bbfc4" d="M426.7 75.5 433.6 74.8 428.3 73.7 421.5 74.5Z"/>
<path fill="#5ccc6c" d="M610.6 60.6 617.5 59.1 612.2 56.6 605.4 58.1ZM567.7 58.9 574.5 57.5 569.3 55 562.4 56.4ZM524.7 57.3 531.5 55.8 526.3 53.3 519.5 55.5Z"/>
<path fill="#20a0ea" d="M481.8 67.6 488.6 64 483.3 63 476.5 66.5Z"/>
<path fill="#1bbfc4" d="M438.8 75.8 445.6 75 440.4 74 433.6 74.8Z"/>
<path fill="#5ccc6c" d="M622.7 61.6 629.5 60.2 624.3 57.7 617.5 59.1ZM579.7 60 586.5 58.5 581.3 56 574.5 57.5ZM536.8 58.3 543.6 56.8 538.3 54.4 531.5 55.8Z"/>
<path fill="#20a0ea" d="M493.8 65.1 500.6 61.5 495.4 60.5 488.6 64ZM450.8 76.1 457.7 72.5 452.4 71.5 445.6 75Z"/>
<path fill="#5ccc6c" d="M634.7 62.7 641.6 61.2 636.3 58.7 629.5 60.2ZM591.8 61 598.6 59.6 593.4 57.1 586.5 58.5ZM548.8 59.3 555.6 57.9 550.4 55.4 543.6 56.8Z"/>
<path fill="#20a0ea" d="M505.9 62.6 512.7 59.1 507.4 58 500.6 61.5ZM462.9 73.6 469.7 70 464.5 69 457.7 72.5Z"/>
<path fill="#5ccc6c" d="M603.8 62.1 610.6 60.6 605.4 58.1 598.6 59.6ZM560.9 60.4 567.7 58.9 562.4 56.4 555.6 57.9Z"/>
<path fill="#20a0ea" d="M517.9 60.1 524.7 57.3 519.5 55.5 512.7 59.1ZM474.9 71.1 481.8 67.6 476.5 66.5 469.7 70Z"/>
<path fill="#1bbfc4" d="M432 76.6 438.8 75.8 433.6 74.8 426.7 75.5Z"/>
<path fill="#5ccc6c" d="M615.9 63.1 622.7 61.6 617.5 59.1 610.6 60.6ZM572.9 61.4 579.7 60 574.5 57.5 567.7 58.9ZM530 59.8 536.8 58.3 531.5 55.8 524.7 57.3Z"/>
<path fill="#20a0ea" d="M487 68.6 493.8 65.1 488.6 64 481.8 67.6Z"/>
<path fill="#1bbfc4" d="M444 76.8 450.8 76.1 445.6 75 438.8 75.8Z"/>
<path fill="#5ccc6c" d="M627.9 64.1 634.7 62.7 629.5 60.2 622.7 61.6ZM585 62.5 591.8 61 586.5 58.5 579.7 60ZM542 60.8 548.8 59.3 543.6 56.8 536.8 58.3Z"/>
<path fill="#20a0ea" d="M499 66.1 505.9 62.6 500.6 61.5 493.8 65.1ZM456.1 77.1 462.9 73.6 457.7 72.5 450.8 76.1Z"/>
<path fill="#5ccc6c" d="M640 65.2 646.8 63.7 641.6 61.2 634.7 62.7ZM597 63.5 603.8 62.1 598.6 59.6 591.8 61ZM554.1 61.8 560.9 60.4 555.6 57.9 548.8 59.3Z"/>
<path fill="#20a0ea" d="M511.1 63.6 517.9 60.1 512.7 59.1 505.9 62.6ZM468.1 74.6 474.9 71.1 469.7 70 462.9 73.6Z"/>
<path fill="#5ccc6c" d="M609.1 64.5 615.9 63.1 610.6 60.6 603.8 62.1ZM566.1 62.9 572.9 61.4 567.7 58.9 560.9 60.4ZM523.1 61.2 530 59.8 524.7 57.3 517.9 60.1Z"/>
<path fill="#20a0ea" d="M480.2 72.1 487 68.6 481.8 67.6 474.9 71.1Z"/>
<path fill="#1bbfc4" d="M437.2 77.6 444 76.8 438.8 75.8 432 76.6Z"/>
<path fill="#5ccc6c" d="M621.1 65.6 627.9 64.1 622.7 61.6 615.9 63.1ZM578.2 63.9 585 62.5 579.7 60 572.9 61.4ZM535.2 62.3 542 60.8 536.8 58.3 530 59.8Z"/>
<path fill="#20a0ea" d="M492.2 69.6 499 66.1 493.8 65.1 487 68.6Z"/>
<path fill="#1bbfc4" d="M449.3 77.9 456.1 77.1 450.8 76.1 444 76.8Z"/>
<path fill="#5ccc6c" d="M633.2 66.6 640 65.2 634.7 62.7 627.9 64.1ZM590.2 65 597 63.5 591.8 61 585 62.5ZM547.2 63.3 554.1 61.8 548.8 59.3 542 60.8Z"/>
<path fill="#20a0ea" d="M504.3 67.2 511.1 63.6 505.9 62.6 499 66.1ZM461.3 78.1 468.1 74.6 462.9 73.6 456.1 77.1Z"/>
<path fill="#5ccc6c" d="M645.2 67.7 652 66.2 646.8 63.7 640 65.2ZM602.3 66 609.1 64.5 603.8 62.1 597 63.5ZM559.3 64.3 566.1 62.9 560.9 60.4 554.1 61.8Z"/>
<path fill="#20a0ea" d="M516.3 64.7 523.1 61.2 517.9 60.1 511.1 63.6ZM473.4 75.7 480.2 72.1 474.9 71.1 468.1 74.6Z"/>
<path fill="#5ccc6c" d="M614.3 67 621.1 65.6 615.9 63.1 609.1 64.5ZM571.3 65.4 578.2 63.9 572.9 61.4 566.1 62.9ZM528.4 63.7 535.2 62.3 530 59.8 523.1 61.2Z"/>
<path fill="#20a0ea" d="M485.4 73.2 492.2 69.6 487 68.6 480.2 72.1Z"/>
<path fill="#1bbfc4" d="M442.4 78.7 449.3 77.9 444 76.8 437.2 77.6Z"/>
<path fill="#5ccc6c" d="M626.4 68.1 633.2 66.6 627.9 64.1 621.1 65.6ZM583.4 66.4 590.2 65 585 62.5 578.2 63.9ZM540.4 64.8 547.2 63.3 542 60.8 535.2 62.3Z"/>
<path fill="#20a0ea" d="M497.5 70.7 504.3 67.2 499 66.1 492.2 69.6ZM454.5 78.9 461.3 78.1 456.1 77.1 449.3 77.9Z"/>
<path fill="#5ccc6c" d="M638.4 69.1 645.2 67.7 640 65.2 633.2 66.6ZM595.4 67.5 602.3 66 597 63.5 590.2 65ZM552.5 65.8 559.3 64.3 554.1 61.8 547.2 63.3Z"/>
<path fill="#20a0ea" d="M509.5 68.2 516.3 64.7 511.1 63.6 504.3 67.2ZM466.5 79.2 473.4 75.7 468.1 74.6 461.3 78.1Z"/>
<path fill="#dcc62a" d="M650.5 70.2 657.3 68.7 652 66.2 645.2 67.7Z"/>
<path fill="#5ccc6c" d="M607.5 68.5 614.3 67 609.1 64.5 602.3 66ZM564.5 66.8 571.3 65.4 566.1 62.9 559.3 64.3Z"/>
<path fill="#20a0ea" d="M521.6 65.7 528.4 63.7 523.1 61.2 516.3 64.7ZM478.6 76.7 485.4 73.2 480.2 72.1 473.4 75.7Z"/>
<path fill="#5ccc6c" d="M619.5 69.5 626.4 68.1 621.1 65.6 614.3 67ZM576.6 67.9 583.4 66.4 578.2 63.9 571.3 65.4ZM533.6 66.2 540.4 64.8 535.2 62.3 528.4 63.7Z"/>
<path fill="#20a0ea" d="M490.6 74.2 497.5 70.7 492.2 69.6 485.4 73.2Z"/>
<path fill="#1bbfc4" d="M447.7 79.7 454.5 78.9 449.3 77.9 442.4 78.7Z"/>
<path fill="#5ccc6c" d="M631.6 70.6 638.4 69.1 633.2 66.6 626.4 68.1ZM588.6 68.9 595.4 67.5 590.2 65 583.4 66.4ZM545.7 67.3 552.5 65.8 547.2 63.3 540.4 64.8Z"/>
<path fill="#20a0ea" d="M502.7 71.7 509.5 68.2 504.3 67.2 497.5 70.7ZM459.7 80 466.5 79.2 461.3 78.1 454.5 78.9Z"/>
<path fill="#dcc62a" d="M643.6 71.6 650.5 70.2 645.2 67.7 638.4 69.1Z"/>
<path fill="#5ccc6c" d="M600.7 70 607.5 68.5 602.3 66 595.4 67.5ZM557.7 68.3 564.5 66.8 559.3 64.3 552.5 65.8Z"/>
<path fill="#20a0ea" d="M514.7 69.2 521.6 65.7 516.3 64.7 509.5 68.2ZM471.8 80.2 478.6 76.7 473.4 75.7 466.5 79.2Z"/>
<path fill="#dcc62a" d="M655.7 80.4 662.5 79.6 657.3 68.7 650.5 70.2Z"/>
<path fill="#5ccc6c" d="M612.7 71 619.5 69.5 614.3 67 607.5 68.5ZM569.8 69.3 576.6 67.9 571.3 65.4 564.5 66.8ZM526.8 67.7 533.6 66.2 528.4 63.7 521.6 65.7Z"/>
<path fill="#20a0ea" d="M483.8 77.7 490.6 74.2 485.4 73.2 478.6 76.7Z"/>
<path fill="#5ccc6c" d="M624.8 72 631.6 70.6 626.4 68.1 619.5 69.5ZM581.8 70.4 588.6 68.9 583.4 66.4 576.6 67.9ZM538.8 68.7 545.7 67.3 540.4 64.8 533.6 66.2Z"/>
<path fill="#20a0ea" d="M495.9 75.3 502.7 71.7 497.5 70.7 490.6 74.2Z"/>
<path fill="#1bbfc4" d="M452.9 80.8 459.7 80 454.5 78.9 447.7 79.7Z"/>
<path fill="#dcc62a" d="M636.8 73.1 643.6 71.6 638.4 69.1 631.6 70.6Z"/>
<path fill="#5ccc6c" d="M593.9 71.4 600.7 70 595.4 67.5 588.6 68.9ZM550.9 69.8 557.7 68.3 552.5 65.8 545.7 67.3Z"/>
<path fill="#20a0ea" d="M507.9 72.8 514.7 69.2 509.5 68.2 502.7 71.7ZM465 81 471.8 80.2 466.5 79.2 459.7 80Z"/>
<path fill="#dcc62a" d="M648.9 81.2 655.7 80.4 650.5 70.2 643.6 71.6Z"/>
<path fill="#5ccc6c" d="M605.9 72.5 612.7 71 607.5 68.5 600.7 70ZM562.9 70.8 569.8 69.3 564.5 66.8 557.7 68.3Z"/>
<path fill="#20a0ea" d="M520 70.3 526.8 67.7 521.6 65.7 514.7 69.2ZM477 81.3 483.8 77.7 478.6 76.7 471.8 80.2Z"/>
<path fill="#5ccc6c" d="M618 73.5 624.8 72 619.5 69.5 612.7 71ZM575 71.8 581.8 70.4 576.6 67.9 569.8 69.3ZM532 70.2 538.8 68.7 533.6 66.2 526.8 67.7Z"/>
<path fill="#20a0ea" d="M489.1 78.8 495.9 75.3 490.6 74.2 483.8 77.7Z"/>
<path fill="#dcc62a" d="M630 74.5 636.8 73.1 631.6 70.6 624.8 72Z"/>
<path fill="#5ccc6c" d="M587 72.9 593.9 71.4 588.6 68.9 581.8 70.4ZM544.1 71.2 550.9 69.8 545.7 67.3 538.8 68.7Z"/>
<path fill="#20a0ea" d="M501.1 76.3 507.9 72.8 502.7 71.7 495.9 75.3Z"/>
<path fill="#1bbfc4" d="M458.1 81.8 465 81 459.7 80 452.9 80.8Z"/>
<path fill="#dcc62a" d="M642.1 82 648.9 81.2 643.6 71.6 636.8 73.1Z"/>
<path fill="#5ccc6c" d="M599.1 73.9 605.9 72.5 600.7 70 593.9 71.4ZM556.1 72.2 562.9 70.8 557.7 68.3 550.9 69.8Z"/>
<path fill="#20a0ea" d="M513.2 73.8 520 70.3 514.7 69.2 507.9 72.8ZM470.2 82.1 477 81.3 471.8 80.2 465 81Z"/>
<path fill="#5ccc6c" d="M611.1 75 618 73.5 612.7 71 605.9 72.5ZM568.2 73.3 575 71.8 569.8 69.3 562.9 70.8ZM525.2 71.6 532 70.2 526.8 67.7 520 70.3Z"/>
<path fill="#20a0ea" d="M482.2 82.3 489.1 78.8 483.8 77.7 477 81.3Z"/>
<path fill="#dcc62a" d="M623.2 76 630 74.5 624.8 72 618 73.5Z"/>
<path fill="#5ccc6c" d="M580.2 74.3 587 72.9 581.8 70.4 575 71.8ZM537.3 72.7 544.1 71.2 538.8 68.7 532 70.2Z"/>
<path fill="#20a0ea" d="M494.3 79.8 501.1 76.3 495.9 75.3 489.1 78.8Z"/>
<path fill="#dcc62a" d="M635.2 82.8 642.1 82 636.8 73.1 630 74.5Z"/>
<path fill="#5ccc6c" d="M592.3 75.4 599.1 73.9 593.9 71.4 587 72.9ZM549.3 73.7 556.1 72.2 550.9 69.8 544.1 71.2Z"/>
<path fill="#20a0ea" d="M506.3 77.3 513.2 73.8 507.9 72.8 501.1 76.3Z"/>
<path fill="#1bbfc4" d="M463.4 82.8 470.2 82.1 465 81 458.1 81.8Z"/>
<path fill="#5ccc6c" d="M604.3 76.4 611.1 75 605.9 72.5 599.1 73.9ZM561.4 74.7 568.2 73.3 562.9 70.8 556.1 72.2Z"/>
<path fill="#20a0ea" d="M518.4 74.9 525.2 71.6 520 70.3 513.2 73.8ZM475.4 83.1 482.2 82.3 477 81.3 470.2 82.1Z"/>
<path fill="#dcc62a" d="M616.4 77.5 623.2 76 618 73.5 611.1 75Z"/>
<path fill="#5ccc6c" d="M573.4 75.8 580.2 74.3 575 71.8 568.2 73.3ZM530.4 74.1 537.3 72.7 532 70.2 525.2 71.6Z"/>
<path fill="#20a0ea" d="M487.5 83.3 494.3 79.8 489.1 78.8 482.2 82.3Z"/>
<path fill="#dcc62a" d="M628.4 83.5 635.2 82.8 630 74.5 623.2 76Z"/>
<path fill="#5ccc6c" d="M585.5 76.8 592.3 75.4 587 72.9 580.2 74.3ZM542.5 75.2 549.3 73.7 544.1 71.2 537.3 72.7Z"/>
<path fill="#20a0ea" d="M499.5 80.9 506.3 77.3 501.1 76.3 494.3 79.8Z"/>
<path fill="#5ccc6c" d="M597.5 77.9 604.3 76.4 599.1 73.9 592.3 75.4ZM554.5 76.2 561.4 74.7 556.1 72.2 549.3 73.7Z"/>
<path fill="#20a0ea" d="M511.6 78.4 518.4 74.9 513.2 73.8 506.3 77.3Z"/>
<path fill="#1bbfc4" d="M468.6 83.9 475.4 83.1 470.2 82.1 463.4 82.8Z"/>
<path fill="#dcc62a" d="M609.6 78.9 616.4 77.5 611.1 75 604.3 76.4Z"/>
<path fill="#5ccc6c" d="M566.6 77.2 573.4 75.8 568.2 73.3 561.4 74.7Z"/>
<path fill="#20a0ea" d="M523.6 75.9 530.4 74.1 525.2 71.6 518.4 74.9ZM480.7 84.1 487.5 83.3 482.2 82.3 475.4 83.1Z"/>
<path fill="#dcc62a" d="M621.6 84.3 628.4 83.5 623.2 76 616.4 77.5Z"/>
<path fill="#5ccc6c" d="M578.6 78.3 585.5 76.8 580.2 74.3 573.4 75.8ZM535.7 76.6 542.5 75.2 537.3 72.7 530.4 74.1Z"/>
<path fill="#20a0ea" d="M492.7 84.4 499.5 80.9 494.3 79.8 487.5 83.3Z"/>
<path fill="#5ccc6c" d="M590.7 79.3 597.5 77.9 592.3 75.4 585.5 76.8ZM547.7 77.7 554.5 76.2 549.3 73.7 542.5 75.2Z"/>
<path fill="#20a0ea" d="M504.8 81.9 511.6 78.4 506.3 77.3 499.5 80.9Z"/>
<path fill="#dcc62a" d="M602.7 80.4 609.6 78.9 604.3 76.4 597.5 77.9Z"/>
<path fill="#5ccc6c" d="M559.8 78.7 566.6 77.2 561.4 74.7 554.5 76.2Z"/>
<path fill="#20a0ea" d="M516.8 79.4 523.6 75.9 518.4 74.9 511.6 78.4Z"/>
<path fill="#1bbfc4" d="M473.9 84.9 480.7 84.1 475.4 83.1 468.6 83.9Z"/>
<path fill="#dcc62a" d="M614.8 85.1 621.6 84.3 616.4 77.5 609.6 78.9Z"/>
<path fill="#5ccc6c" d="M571.8 79.7 578.6 78.3 573.4 75.8 566.6 77.2ZM528.9 78.1 535.7 76.6 530.4 74.1 523.6 75.9Z"/>
<path fill="#20a0ea" d="M485.9 85.2 492.7 84.4 487.5 83.3 480.7 84.1Z"/>
<path fill="#5ccc6c" d="M583.9 80.8 590.7 79.3 585.5 76.8 578.6 78.3ZM540.9 79.1 547.7 77.7 542.5 75.2 535.7 76.6Z"/>
<path fill="#20a0ea" d="M498 85.4 504.8 81.9 499.5 80.9 492.7 84.4Z"/>
<path fill="#dcc62a" d="M595.9 81.8 602.7 80.4 597.5 77.9 590.7 79.3Z"/>
<path fill="#5ccc6c" d="M553 80.2 559.8 78.7 554.5 76.2 547.7 77.7Z"/>
<path fill="#20a0ea" d="M510 82.9 516.8 79.4 511.6 78.4 504.8 81.9Z"/>
<path fill="#dcc62a" d="M608 85.9 614.8 85.1 609.6 78.9 602.7 80.4Z"/>
<path fill="#5ccc6c" d="M565 81.2 571.8 79.7 566.6 77.2 559.8 78.7Z"/>
<path fill="#20a0ea" d="M522.1 80.5 528.9 78.1 523.6 75.9 516.8 79.4Z"/>
<path fill="#1bbfc4" d="M479.1 86 485.9 85.2 480.7 84.1 473.9 84.9Z"/>
<path fill="#5ccc6c" d="M577.1 82.2 583.9 80.8 578.6 78.3 571.8 79.7ZM534.1 80.6 540.9 79.1 535.7 76.6 528.9 78.1Z"/>
<path fill="#20a0ea" d="M491.1 86.2 498 85.4 492.7 84.4 485.9 85.2Z"/>
<path fill="#dcc62a" d="M589.1 83.3 595.9 81.8 590.7 79.3 583.9 80.8Z"/>
<path fill="#5ccc6c" d="M546.1 81.6 553 80.2 547.7 77.7 540.9 79.1Z"/>
<path fill="#20a0ea" d="M503.2 86.5 510 82.9 504.8 81.9 498 85.4Z"/>
<path fill="#dcc62a" d="M601.2 86.7 608 85.9 602.7 80.4 595.9 81.8Z"/>
<path fill="#5ccc6c" d="M558.2 82.7 565 81.2 559.8 78.7 553 80.2Z"/>
<path fill="#20a0ea" d="M515.2 84 522.1 80.5 516.8 79.4 510 82.9Z"/>
<path fill="#5ccc6c" d="M570.2 83.7 577.1 82.2 571.8 79.7 565 81.2ZM527.3 82 534.1 80.6 528.9 78.1 522.1 80.5Z"/>
<path fill="#1bbfc4" d="M484.3 87 491.1 86.2 485.9 85.2 479.1 86Z"/>
<path fill="#dcc62a" d="M582.3 84.7 589.1 83.3 583.9 80.8 577.1 82.2Z"/>
<path fill="#5ccc6c" d="M539.3 83.1 546.1 81.6 540.9 79.1 534.1 80.6Z"/>
<path fill="#20a0ea" d="M496.4 87.3 503.2 86.5 498 85.4 491.1 86.2Z"/>
<path fill="#dcc62a" d="M594.4 87.5 601.2 86.7 595.9 81.8 589.1 83.3Z"/>
<path fill="#5ccc6c" d="M551.4 84.1 558.2 82.7 553 80.2 546.1 81.6Z"/>
<path fill="#20a0ea" d="M508.4 87.5 515.2 84 510 82.9 503.2 86.5Z"/>
<path fill="#5ccc6c" d="M563.4 85.2 570.2 83.7 565 81.2 558.2 82.7Z"/>
<path fill="#20a0ea" d="M520.5 85 527.3 82 522.1 80.5 515.2 84Z"/>
<path fill="#dcc62a" d="M575.5 86.2 582.3 84.7 577.1 82.2 570.2 83.7Z"/>
<path fill="#5ccc6c" d="M532.5 84.5 539.3 83.1 534.1 80.6 527.3 82Z"/>
<path fill="#1bbfc4" d="M489.6 88.1 496.4 87.3 491.1 86.2 484.3 87Z"/>
<path fill="#dcc62a" d="M587.5 88.3 594.4 87.5 589.1 83.3 582.3 84.7Z"/>
<path fill="#5ccc6c" d="M544.6 85.6 551.4 84.1 546.1 81.6 539.3 83.1Z"/>
<path fill="#20a0ea" d="M501.6 88.3 508.4 87.5 503.2 86.5 496.4 87.3Z"/>
<path fill="#5ccc6c" d="M556.6 86.6 563.4 85.2 558.2 82.7 551.4 84.1Z"/>
<path fill="#20a0ea" d="M513.7 88.6 520.5 85 515.2 84 508.4 87.5Z"/>
<path fill="#dcc62a" d="M568.7 87.7 575.5 86.2 570.2 83.7 563.4 85.2Z"/>
<path fill="#5ccc6c" d="M525.7 86.1 532.5 84.5 527.3 82 520.5 85Z"/>
<path fill="#dcc62a" d="M580.7 89 587.5 88.3 582.3 84.7 575.5 86.2Z"/>
<path fill="#5ccc6c" d="M537.8 87 544.6 85.6 539.3 83.1 532.5 84.5Z"/>
<path fill="#1bbfc4" d="M494.8 89.1 501.6 88.3 496.4 87.3 489.6 88.1Z"/>
<path fill="#5ccc6c" d="M549.8 88.1 556.6 86.6 551.4 84.1 544.6 85.6Z"/>
<path fill="#20a0ea" d="M506.8 89.3 513.7 88.6 508.4 87.5 501.6 88.3Z"/>
<path fill="#dcc62a" d="M561.9 89.1 568.7 87.7 563.4 85.2 556.6 86.6Z"/>
<path fill="#20a0ea" d="M518.9 89.6 525.7 86.1 520.5 85 513.7 88.6Z"/>
<path fill="#dcc62a" d="M573.9 89.8 580.7 89 575.5 86.2 568.7 87.7Z"/>
<path fill="#5ccc6c" d="M530.9 88.5 537.8 87 532.5 84.5 525.7 86.1ZM543 89.5 549.8 88.1 544.6 85.6 537.8 87Z"/>
<path fill="#1bbfc4" d="M500 90.1 506.8 89.3 501.6 88.3 494.8 89.1Z"/>
<path fill="#dcc62a" d="M555 90.4 561.9 89.1 556.6 86.6 549.8 88.1Z"/>
<path fill="#20a0ea" d="M512.1 90.4 518.9 89.6 513.7 88.6 506.8 89.3Z"/>
<path fill="#dcc62a" d="M567.1 90.6 573.9 89.8 568.7 87.7 561.9 89.1Z"/>
<path fill="#20a0ea" d="M524.1 90.6 530.9 88.5 525.7 86.1 518.9 89.6Z"/>
<path fill="#5ccc6c" d="M536.2 90.9 543 89.5 537.8 87 530.9 88.5ZM548.2 91.2 555 90.4 549.8 88.1 543 89.5Z"/>
<path fill="#1bbfc4" d="M505.3 91.2 512.1 90.4 506.8 89.3 500 90.1Z"/>
<path fill="#dcc62a" d="M560.3 91.4 567.1 90.6 561.9 89.1 555 90.4Z"/>
<path fill="#20a0ea" d="M517.3 91.4 524.1 90.6 518.9 89.6 512.1 90.4ZM529.4 91.7 536.2 90.9 530.9 88.5 524.1 90.6Z"/>
<path fill="#1bbfc4" d="M541.4 91.9 548.2 91.2 543 89.5 536.2 90.9ZM553.5 92.2 560.3 91.4 555 90.4 548.2 91.2ZM510.5 92.2 517.3 91.4 512.1 90.4 505.3 91.2Z"/>
<path fill="#20a0ea" d="M522.5 92.5 529.4 91.7 524.1 90.6 517.3 91.4ZM534.6 92.7 541.4 91.9 536.2 90.9 529.4 91.7Z"/>
<path fill="#1bbfc4" d="M546.6 93 553.5 92.2 548.2 91.2 541.4 91.9ZM515.7 93.3 522.5 92.5 517.3 91.4 510.5 92.2Z"/>
<path fill="#20a0ea" d="M527.8 93.5 534.6 92.7 529.4 91.7 522.5 92.5ZM539.8 93.8 546.6 93 541.4 91.9 534.6 92.7Z"/>
<path fill="#1bbfc4" d="M521 94.3 527.8 93.5 522.5 92.5 515.7 93.3Z"/>
<path fill="#20a0ea" d="M533 94.6 539.8 93.8 534.6 92.7 527.8 93.5Z"/>
<path fill="#1bbfc4" d="M526.2 95.3 533 94.6 527.8 93.5 521 94.3Z"/>
</g>
<line x1="421.5" y1="74.5" x2="421.5" y2="26" stroke="#262626" stroke-width="0.8"/>
<line x1="421.5" y1="74.5" x2="418" y2="74.5" stroke="#262626" stroke-width="0.8"/>
<line x1="421.5" y1="50.2" x2="418" y2="50.2" stroke="#262626" stroke-width="0.8"/>
<line x1="421.5" y1="26" x2="418" y2="26" stroke="#262626" stroke-width="0.8"/>
<line x1="421.5" y1="74.5" x2="526.2" y2="95.3" stroke="#262626" stroke-width="0.8"/>
<line x1="526.2" y1="95.3" x2="662.5" y2="79.6" stroke="#262626" stroke-width="0.8"/>
<line x1="526.2" y1="95.3" x2="529.1" y2="95.9" stroke="#262626" stroke-width="0.8"/>
<line x1="594.4" y1="87.5" x2="597.3" y2="88.1" stroke="#262626" stroke-width="0.8"/>
<line x1="662.5" y1="79.6" x2="665.4" y2="80.2" stroke="#262626" stroke-width="0.8"/>
<line x1="526.2" y1="95.3" x2="523.2" y2="95.7" stroke="#262626" stroke-width="0.8"/>
<line x1="473.9" y1="84.9" x2="470.9" y2="85.3" stroke="#262626" stroke-width="0.8"/>
<line x1="421.5" y1="74.5" x2="418.5" y2="74.8" stroke="#262626" stroke-width="0.8"/>
<line x1="160.7" y1="224.1" x2="56" y2="203.2" stroke="#dcdcdc" stroke-width="0.7"/>
<line x1="56" y1="203.2" x2="56" y2="155.1" stroke="#dcdcdc" stroke-width="0.7"/>
<line x1="228.8" y1="216.2" x2="124.1" y2="195.4" stroke="#dcdcdc" stroke-width="0.7"/>
<line x1="124.1" y1="195.4" x2="124.1" y2="147.2" stroke="#dcdcdc" stroke-width="0.7"/>
<line x1="297" y1="208.3" x2="192.3" y2="187.5" stroke="#dcdcdc" stroke-width="0.7"/>
<line x1="192.3" y1="187.5" x2="192.3" y2="139.3" stroke="#dcdcdc" stroke-width="0.7"/>
<line x1="160.7" y1="224.1" x2="297" y2="208.3" stroke="#dcdcdc" stroke-width="0.7"/>
<line x1="297" y1="208.3" x2="297" y2="160.1" stroke="#dcdcdc" stroke-width="0.7"/>
<line x1="108.3" y1="213.7" x2="244.7" y2="197.9" stroke="#dcdcdc" stroke-width="0.7"/>
<line x1="244.7" y1="197.9" x2="244.7" y2="149.7" stroke="#dcdcdc" stroke-width="0.7"/>
<line x1="56" y1="203.2" x2="192.3" y2="187.5" stroke="#dcdcdc" stroke-width="0.7"/>
<line x1="192.3" y1="187.5" x2="192.3" y2="139.3" stroke="#dcdcdc" stroke-width="0.7"/>
<line x1="56" y1="203.2" x2="192.3" y2="187.5" stroke="#dcdcdc" stroke-width="0.7"/>
<line x1="192.3" y1="187.5" x2="297" y2="208.3" stroke="#dcdcdc" stroke-width="0.7"/>
<line x1="56" y1="179.2" x2="192.3" y2="163.4" stroke="#dcdcdc" stroke-width="0.7"/>
<line x1="192.3" y1="163.4" x2="297" y2="184.2" stroke="#dcdcdc" stroke-width="0.7"/>
<line x1="56" y1="155.1" x2="192.3" y2="139.3" stroke="#dcdcdc" stroke-width="0.7"/>
<line x1="192.3" y1="139.3" x2="297" y2="160.1" stroke="#dcdcdc" stroke-width="0.7"/>
<g stroke="#000" stroke-width="0.45" stroke-linejoin="round">
<path fill="#12c6d6" d="M190.7 145.8 197.5 143.2 192.3 141.7 185.5 144.3ZM183.9 148.3 190.7 145.8 185.5 144.3 178.7 146.8ZM196 147.3 202.8 144.8 197.5 143.2 190.7 145.8ZM177.1 150.9 183.9 148.3 178.7 146.8 171.9 149.4ZM189.1 149.9 196 147.3 190.7 145.8 183.9 148.3ZM201.2 148.9 208 146.3 202.8 144.8 196 147.3ZM170.3 153.4 177.1 150.9 171.9 149.4 165 151.9ZM182.3 152.4 189.1 149.9 183.9 148.3 177.1 150.9ZM194.4 151.4 201.2 148.9 196 147.3 189.1 149.9ZM206.4 150.4 213.2 147.9 208 146.3 201.2 148.9ZM163.5 156 170.3 153.4 165 151.9 158.2 154.5ZM175.5 155 182.3 152.4 177.1 150.9 170.3 153.4ZM187.6 154 194.4 151.4 189.1 149.9 182.3 152.4ZM199.6 153 206.4 150.4 201.2 148.9 194.4 151.4ZM156.6 158.5 163.5 156 158.2 154.5 151.4 157ZM211.7 152 218.5 149.4 213.2 147.9 206.4 150.4ZM168.7 157.5 175.5 155 170.3 153.4 163.5 156ZM180.7 156.5 187.6 154 182.3 152.4 175.5 155ZM192.8 155.5 199.6 153 194.4 151.4 187.6 154ZM149.8 161.1 156.6 158.5 151.4 157 144.6 159.6ZM204.8 154.5 211.7 152 206.4 150.4 199.6 153ZM161.9 160.1 168.7 157.5 163.5 156 156.6 158.5ZM216.9 153.5 223.7 150.9 218.5 149.4 211.7 152ZM173.9 159.1 180.7 156.5 175.5 155 168.7 157.5ZM186 158.1 192.8 155.5 187.6 154 180.7 156.5ZM143 163.6 149.8 161.1 144.6 159.6 137.8 162.1ZM198 157.1 204.8 154.5 199.6 153 192.8 155.5ZM155.1 162.6 161.9 160.1 156.6 158.5 149.8 161.1ZM210.1 156 216.9 153.5 211.7 152 204.8 154.5ZM167.1 161.6 173.9 159.1 168.7 157.5 161.9 160.1ZM222.1 155 228.9 152.5 223.7 150.9 216.9 153.5ZM179.2 160.6 186 158.1 180.7 156.5 173.9 159.1ZM136.2 166.2 143 163.6 137.8 162.1 131 164.7ZM191.2 159.6 198 157.1 192.8 155.5 186 158.1ZM148.2 165.2 155.1 162.6 149.8 161.1 143 163.6ZM203.3 158.6 210.1 156 204.8 154.5 198 157.1ZM160.3 164.2 167.1 161.6 161.9 160.1 155.1 162.6ZM215.3 157.6 222.1 155 216.9 153.5 210.1 156ZM172.4 163.2 179.2 160.6 173.9 159.1 167.1 161.6ZM129.4 168.7 136.2 166.2 131 164.7 124.1 167.2ZM227.4 156.6 234.2 154 228.9 152.5 222.1 155ZM184.4 162.2 191.2 159.6 186 158.1 179.2 160.6ZM141.4 167.7 148.2 165.2 143 163.6 136.2 166.2ZM196.4 161.1 203.3 158.6 198 157.1 191.2 159.6ZM153.5 166.7 160.3 164.2 155.1 162.6 148.2 165.2ZM208.5 160.1 215.3 157.6 210.1 156 203.3 158.6ZM165.5 165.7 172.4 163.2 167.1 161.6 160.3 164.2ZM122.6 171.3 129.4 168.7 124.1 167.2 117.3 169.8ZM220.6 159.1 227.4 156.6 222.1 155 215.3 157.6ZM177.6 164.7 184.4 162.2 179.2 160.6 172.4 163.2ZM134.6 170.3 141.4 167.7 136.2 166.2 129.4 168.7ZM232.6 158.1 239.4 155.6 234.2 154 227.4 156.6ZM189.6 163.7 196.4 161.1 191.2 159.6 184.4 162.2ZM146.7 169.3 153.5 166.7 148.2 165.2 141.4 167.7ZM201.7 162.7 208.5 160.1 203.3 158.6 196.4 161.1ZM158.7 168.3 165.5 165.7 160.3 164.2 153.5 166.7Z"/>
<path fill="#2dccae" d="M115.8 173.8 122.6 171.3 117.3 169.8 110.5 172.3Z"/>
<path fill="#12c6d6" d="M213.7 161.7 220.6 159.1 215.3 157.6 208.5 160.1ZM170.8 167.3 177.6 164.7 172.4 163.2 165.5 165.7ZM127.8 172.8 134.6 170.3 129.4 168.7 122.6 171.3ZM225.8 160.7 232.6 158.1 227.4 156.6 220.6 159.1ZM182.8 166.2 189.6 163.7 184.4 162.2 177.6 164.7ZM139.9 171.8 146.7 169.3 141.4 167.7 134.6 170.3ZM237.8 159.7 244.7 157.1 239.4 155.6 232.6 158.1ZM194.9 165.2 201.7 162.7 196.4 161.1 189.6 163.7ZM151.9 170.8 158.7 168.3 153.5 166.7 146.7 169.3Z"/>
<path fill="#36cea0" d="M108.9 176 115.8 173.8 110.5 172.3 103.7 174.1Z"/>
<path fill="#12c6d6" d="M206.9 164.2 213.7 161.7 208.5 160.1 201.7 162.7ZM164 169.8 170.8 167.3 165.5 165.7 158.7 168.3ZM121 175.4 127.8 172.8 122.6 171.3 115.8 173.8ZM219 163.2 225.8 160.7 220.6 159.1 213.7 161.7ZM176 168.8 182.8 166.2 177.6 164.7 170.8 167.3ZM133 174.4 139.9 171.8 134.6 170.3 127.8 172.8ZM231 162.2 237.8 159.7 232.6 158.1 225.8 160.7ZM188.1 167.8 194.9 165.2 189.6 163.7 182.8 166.2ZM145.1 173.4 151.9 170.8 146.7 169.3 139.9 171.8Z"/>
<path fill="#3bcf98" d="M102.1 177.3 108.9 176 103.7 174.1 96.9 175.5Z"/>
<path fill="#12c6d6" d="M243.1 161.2 249.9 158.6 244.7 157.1 237.8 159.7ZM200.1 166.8 206.9 164.2 201.7 162.7 194.9 165.2ZM157.1 172.4 164 169.8 158.7 168.3 151.9 170.8Z"/>
<path fill="#31cda7" d="M114.2 177.8 121 175.4 115.8 173.8 108.9 176Z"/>
<path fill="#12c6d6" d="M212.2 165.8 219 163.2 213.7 161.7 206.9 164.2ZM169.2 171.3 176 168.8 170.8 167.3 164 169.8ZM126.2 176.9 133 174.4 127.8 172.8 121 175.4ZM224.2 164.8 231 162.2 225.8 160.7 219 163.2ZM181.2 170.3 188.1 167.8 182.8 166.2 176 168.8ZM138.3 175.9 145.1 173.4 139.9 171.8 133 174.4Z"/>
<path fill="#3bcf98" d="M95.3 178.7 102.1 177.3 96.9 175.5 90.1 176.8Z"/>
<path fill="#12c6d6" d="M236.3 163.7 243.1 161.2 237.8 159.7 231 162.2ZM193.3 169.3 200.1 166.8 194.9 165.2 188.1 167.8ZM150.3 174.9 157.1 172.4 151.9 170.8 145.1 173.4Z"/>
<path fill="#3acf99" d="M107.4 179.2 114.2 177.8 108.9 176 102.1 177.3Z"/>
<path fill="#12c6d6" d="M248.3 162.7 255.1 160.2 249.9 158.6 243.1 161.2ZM205.3 168.3 212.2 165.8 206.9 164.2 200.1 166.8ZM162.4 173.9 169.2 171.3 164 169.8 157.1 172.4Z"/>
<path fill="#2cccae" d="M119.4 179.5 126.2 176.9 121 175.4 114.2 177.8Z"/>
<path fill="#12c6d6" d="M217.4 167.3 224.2 164.8 219 163.2 212.2 165.8ZM174.4 172.9 181.2 170.3 176 168.8 169.2 171.3ZM131.5 178.5 138.3 175.9 133 174.4 126.2 176.9Z"/>
<path fill="#3bcf98" d="M88.5 180 95.3 178.7 90.1 176.8 83.3 178.2Z"/>
<path fill="#12c6d6" d="M229.4 166.3 236.3 163.7 231 162.2 224.2 164.8ZM186.5 171.9 193.3 169.3 188.1 167.8 181.2 170.3ZM143.5 177.5 150.3 174.9 145.1 173.4 138.3 175.9Z"/>
<path fill="#3bcf98" d="M100.5 180.5 107.4 179.2 102.1 177.3 95.3 178.7Z"/>
<path fill="#12c6d6" d="M241.5 165.3 248.3 162.7 243.1 161.2 236.3 163.7ZM198.5 170.9 205.3 168.3 200.1 166.8 193.3 169.3ZM155.6 176.4 162.4 173.9 157.1 172.4 150.3 174.9Z"/>
<path fill="#36cea0" d="M112.6 181 119.4 179.5 114.2 177.8 107.4 179.2Z"/>
<path fill="#12c6d6" d="M253.5 164.3 260.4 161.7 255.1 160.2 248.3 162.7ZM210.6 169.9 217.4 167.3 212.2 165.8 205.3 168.3ZM167.6 175.4 174.4 172.9 169.2 171.3 162.4 173.9ZM124.6 181 131.5 178.5 126.2 176.9 119.4 179.5ZM222.6 168.8 229.4 166.3 224.2 164.8 217.4 167.3ZM179.7 174.4 186.5 171.9 181.2 170.3 174.4 172.9ZM136.7 180 143.5 177.5 138.3 175.9 131.5 178.5Z"/>
<path fill="#3bcf98" d="M93.7 181.8 100.5 180.5 95.3 178.7 88.5 180Z"/>
<path fill="#12c6d6" d="M234.7 167.8 241.5 165.3 236.3 163.7 229.4 166.3ZM191.7 173.4 198.5 170.9 193.3 169.3 186.5 171.9ZM148.7 179 155.6 176.4 150.3 174.9 143.5 177.5Z"/>
<path fill="#3bcf98" d="M105.8 182.3 112.6 181 107.4 179.2 100.5 180.5Z"/>
<path fill="#12c6d6" d="M246.7 166.8 253.5 164.3 248.3 162.7 241.5 165.3ZM203.8 172.4 210.6 169.9 205.3 168.3 198.5 170.9ZM160.8 178 167.6 175.4 162.4 173.9 155.6 176.4Z"/>
<path fill="#31cda7" d="M117.8 182.8 124.6 181 119.4 179.5 112.6 181Z"/>
<path fill="#12c6d6" d="M258.8 165.8 265.6 163.3 260.4 161.7 253.5 164.3ZM215.8 171.4 222.6 168.8 217.4 167.3 210.6 169.9ZM172.8 177 179.7 174.4 174.4 172.9 167.6 175.4ZM129.9 182.6 136.7 180 131.5 178.5 124.6 181ZM227.9 170.4 234.7 167.8 229.4 166.3 222.6 168.8ZM184.9 176 191.7 173.4 186.5 171.9 179.7 174.4ZM141.9 181.5 148.7 179 143.5 177.5 136.7 180Z"/>
<path fill="#3bcf98" d="M99 183.7 105.8 182.3 100.5 180.5 93.7 181.8Z"/>
<path fill="#12c6d6" d="M239.9 169.4 246.7 166.8 241.5 165.3 234.7 167.8ZM196.9 175 203.8 172.4 198.5 170.9 191.7 173.4ZM154 180.5 160.8 178 155.6 176.4 148.7 179Z"/>
<path fill="#3acf99" d="M111 184.2 117.8 182.8 112.6 181 105.8 182.3Z"/>
<path fill="#12c6d6" d="M252 168.4 258.8 165.8 253.5 164.3 246.7 166.8ZM209 173.9 215.8 171.4 210.6 169.9 203.8 172.4ZM166 179.5 172.8 177 167.6 175.4 160.8 178Z"/>
<path fill="#2cccae" d="M123.1 184.7 129.9 182.6 124.6 181 117.8 182.8Z"/>
<path fill="#12c6d6" d="M264 167.4 270.8 164.8 265.6 163.3 258.8 165.8ZM221 172.9 227.9 170.4 222.6 168.8 215.8 171.4ZM178.1 178.5 184.9 176 179.7 174.4 172.8 177ZM135.1 184.1 141.9 181.5 136.7 180 129.9 182.6ZM233.1 171.9 239.9 169.4 234.7 167.8 227.9 170.4ZM190.1 177.5 196.9 175 191.7 173.4 184.9 176ZM147.2 183.1 154 180.5 148.7 179 141.9 181.5Z"/>
<path fill="#3bcf98" d="M104.2 185.5 111 184.2 105.8 182.3 99 183.7Z"/>
<path fill="#12c6d6" d="M245.1 170.9 252 168.4 246.7 166.8 239.9 169.4ZM202.2 176.5 209 173.9 203.8 172.4 196.9 175ZM159.2 182.1 166 179.5 160.8 178 154 180.5Z"/>
<path fill="#36cea0" d="M116.2 186 123.1 184.7 117.8 182.8 111 184.2Z"/>
<path fill="#12c6d6" d="M257.2 169.9 264 167.4 258.8 165.8 252 168.4ZM214.2 175.5 221 172.9 215.8 171.4 209 173.9ZM171.3 181.1 178.1 178.5 172.8 177 166 179.5ZM128.3 186.5 135.1 184.1 129.9 182.6 123.1 184.7ZM269.2 168.9 276.1 166.3 270.8 164.8 264 167.4ZM226.3 174.5 233.1 171.9 227.9 170.4 221 172.9ZM183.3 180.1 190.1 177.5 184.9 176 178.1 178.5ZM140.3 185.6 147.2 183.1 141.9 181.5 135.1 184.1ZM238.3 173.5 245.1 170.9 239.9 169.4 233.1 171.9ZM195.4 179 202.2 176.5 196.9 175 190.1 177.5ZM152.4 184.6 159.2 182.1 154 180.5 147.2 183.1Z"/>
<path fill="#3bcf98" d="M109.4 187.4 116.2 186 111 184.2 104.2 185.5Z"/>
<path fill="#12c6d6" d="M250.4 172.5 257.2 169.9 252 168.4 245.1 170.9ZM207.4 178 214.2 175.5 209 173.9 202.2 176.5ZM164.4 183.6 171.3 181.1 166 179.5 159.2 182.1Z"/>
<path fill="#31cda7" d="M121.5 187.9 128.3 186.5 123.1 184.7 116.2 186Z"/>
<path fill="#12c6d6" d="M262.4 171.4 269.2 168.9 264 167.4 257.2 169.9ZM219.5 177 226.3 174.5 221 172.9 214.2 175.5ZM176.5 182.6 183.3 180.1 178.1 178.5 171.3 181.1ZM133.5 188.2 140.3 185.6 135.1 184.1 128.3 186.5ZM231.5 176 238.3 173.5 233.1 171.9 226.3 174.5ZM188.5 181.6 195.4 179 190.1 177.5 183.3 180.1ZM145.6 187.2 152.4 184.6 147.2 183.1 140.3 185.6ZM243.6 175 250.4 172.5 245.1 170.9 238.3 173.5ZM200.6 180.6 207.4 178 202.2 176.5 195.4 179ZM157.6 186.2 164.4 183.6 159.2 182.1 152.4 184.6Z"/>
<path fill="#3acf99" d="M114.7 189.2 121.5 187.9 116.2 186 109.4 187.4Z"/>
<path fill="#12c6d6" d="M255.6 174 262.4 171.4 257.2 169.9 250.4 172.5ZM212.6 179.6 219.5 177 214.2 175.5 207.4 178ZM169.7 185.2 176.5 182.6 171.3 181.1 164.4 183.6Z"/>
<path fill="#2cccaf" d="M126.7 189.7 133.5 188.2 128.3 186.5 121.5 187.9Z"/>
<path fill="#12c6d6" d="M224.7 178.6 231.5 176 226.3 174.5 219.5 177ZM181.7 184.1 188.5 181.6 183.3 180.1 176.5 182.6ZM138.8 189.7 145.6 187.2 140.3 185.6 133.5 188.2ZM236.8 177.6 243.6 175 238.3 173.5 231.5 176ZM193.8 183.1 200.6 180.6 195.4 179 188.5 181.6ZM150.8 188.7 157.6 186.2 152.4 184.6 145.6 187.2ZM248.8 176.5 255.6 174 250.4 172.5 243.6 175ZM205.8 182.1 212.6 179.6 207.4 178 200.6 180.6ZM162.9 187.7 169.7 185.2 164.4 183.6 157.6 186.2Z"/>
<path fill="#35cea1" d="M119.9 191 126.7 189.7 121.5 187.9 114.7 189.2Z"/>
<path fill="#12c6d6" d="M217.9 181.1 224.7 178.6 219.5 177 212.6 179.6ZM174.9 186.7 181.7 184.1 176.5 182.6 169.7 185.2ZM132 191.5 138.8 189.7 133.5 188.2 126.7 189.7ZM229.9 180.1 236.8 177.6 231.5 176 224.7 178.6ZM187 185.7 193.8 183.1 188.5 181.6 181.7 184.1ZM144 191.3 150.8 188.7 145.6 187.2 138.8 189.7ZM242 179.1 248.8 176.5 243.6 175 236.8 177.6ZM199 184.7 205.8 182.1 200.6 180.6 193.8 183.1ZM156.1 190.3 162.9 187.7 157.6 186.2 150.8 188.7ZM211.1 183.7 217.9 181.1 212.6 179.6 205.8 182.1ZM168.1 189.2 174.9 186.7 169.7 185.2 162.9 187.7Z"/>
<path fill="#31cda8" d="M125.1 192.9 132 191.5 126.7 189.7 119.9 191Z"/>
<path fill="#12c6d6" d="M223.1 182.7 229.9 180.1 224.7 178.6 217.9 181.1ZM180.2 188.2 187 185.7 181.7 184.1 174.9 186.7ZM137.2 193.4 144 191.3 138.8 189.7 132 191.5ZM235.2 181.6 242 179.1 236.8 177.6 229.9 180.1ZM192.2 187.2 199 184.7 193.8 183.1 187 185.7ZM149.2 192.8 156.1 190.3 150.8 188.7 144 191.3ZM204.3 186.2 211.1 183.7 205.8 182.1 199 184.7ZM161.3 191.8 168.1 189.2 162.9 187.7 156.1 190.3ZM216.3 185.2 223.1 182.7 217.9 181.1 211.1 183.7ZM173.3 190.8 180.2 188.2 174.9 186.7 168.1 189.2Z"/>
<path fill="#2cccaf" d="M130.4 194.7 137.2 193.4 132 191.5 125.1 192.9Z"/>
<path fill="#12c6d6" d="M228.4 184.2 235.2 181.6 229.9 180.1 223.1 182.7ZM185.4 189.8 192.2 187.2 187 185.7 180.2 188.2ZM142.4 195.2 149.2 192.8 144 191.3 137.2 193.4ZM197.4 188.8 204.3 186.2 199 184.7 192.2 187.2ZM154.5 194.3 161.3 191.8 156.1 190.3 149.2 192.8ZM209.5 187.8 216.3 185.2 211.1 183.7 204.3 186.2ZM166.5 193.3 173.3 190.8 168.1 189.2 161.3 191.8ZM221.5 186.7 228.4 184.2 223.1 182.7 216.3 185.2ZM178.6 192.3 185.4 189.8 180.2 188.2 173.3 190.8ZM135.6 196.5 142.4 195.2 137.2 193.4 130.4 194.7ZM190.6 191.3 197.4 188.8 192.2 187.2 185.4 189.8ZM147.7 196.9 154.5 194.3 149.2 192.8 142.4 195.2ZM202.7 190.3 209.5 187.8 204.3 186.2 197.4 188.8ZM159.7 195.9 166.5 193.3 161.3 191.8 154.5 194.3ZM214.7 189.3 221.5 186.7 216.3 185.2 209.5 187.8ZM171.8 194.9 178.6 192.3 173.3 190.8 166.5 193.3ZM183.8 193.9 190.6 191.3 185.4 189.8 178.6 192.3ZM140.8 198.4 147.7 196.9 142.4 195.2 135.6 196.5ZM195.9 192.9 202.7 190.3 197.4 188.8 190.6 191.3ZM152.9 198.4 159.7 195.9 154.5 194.3 147.7 196.9ZM207.9 191.8 214.7 189.3 209.5 187.8 202.7 190.3ZM164.9 197.4 171.8 194.9 166.5 193.3 159.7 195.9ZM177 196.4 183.8 193.9 178.6 192.3 171.8 194.9ZM189 195.4 195.9 192.9 190.6 191.3 183.8 193.9ZM146.1 200.2 152.9 198.4 147.7 196.9 140.8 198.4ZM201.1 194.4 207.9 191.8 202.7 190.3 195.9 192.9ZM158.1 200 164.9 197.4 159.7 195.9 152.9 198.4ZM170.2 199 177 196.4 171.8 194.9 164.9 197.4ZM182.2 198 189 195.4 183.8 193.9 177 196.4ZM194.3 196.9 201.1 194.4 195.9 192.9 189 195.4ZM151.3 202.1 158.1 200 152.9 198.4 146.1 200.2ZM163.4 201.5 170.2 199 164.9 197.4 158.1 200ZM175.4 200.5 182.2 198 177 196.4 170.2 199ZM187.5 199.5 194.3 196.9 189 195.4 182.2 198ZM156.5 203.9 163.4 201.5 158.1 200 151.3 202.1ZM168.6 203.1 175.4 200.5 170.2 199 163.4 201.5ZM180.6 202 187.5 199.5 182.2 198 175.4 200.5ZM161.8 205.6 168.6 203.1 163.4 201.5 156.5 203.9ZM173.8 204.6 180.6 202 175.4 200.5 168.6 203.1ZM167 207.1 173.8 204.6 168.6 203.1 161.8 205.6Z"/>
</g>
<line x1="56" y1="203.2" x2="56" y2="155.1" stroke="#262626" stroke-width="0.8"/>
<line x1="56" y1="203.2" x2="52.5" y2="203.2" stroke="#262626" stroke-width="0.8"/>
<line x1="56" y1="179.2" x2="52.5" y2="179.2" stroke="#262626" stroke-width="0.8"/>
<line x1="56" y1="155.1" x2="52.5" y2="155.1" stroke="#262626" stroke-width="0.8"/>
<line x1="56" y1="203.2" x2="160.7" y2="224.1" stroke="#262626" stroke-width="0.8"/>
<line x1="160.7" y1="224.1" x2="297" y2="208.3" stroke="#262626" stroke-width="0.8"/>
<line x1="160.7" y1="224.1" x2="163.6" y2="224.7" stroke="#262626" stroke-width="0.8"/>
<line x1="228.8" y1="216.2" x2="231.8" y2="216.8" stroke="#262626" stroke-width="0.8"/>
<line x1="297" y1="208.3" x2="299.9" y2="208.9" stroke="#262626" stroke-width="0.8"/>
<line x1="160.7" y1="224.1" x2="157.7" y2="224.4" stroke="#262626" stroke-width="0.8"/>
<line x1="108.3" y1="213.7" x2="105.4" y2="214" stroke="#262626" stroke-width="0.8"/>
<line x1="56" y1="203.2" x2="53" y2="203.6" stroke="#262626" stroke-width="0.8"/>
<line x1="526.2" y1="224.1" x2="421.5" y2="203.2" stroke="#dcdcdc" stroke-width="0.7"/>
<line x1="421.5" y1="203.2" x2="421.5" y2="155.1" stroke="#dcdcdc" stroke-width="0.7"/>
<line x1="594.4" y1="216.2" x2="489.7" y2="195.4" stroke="#dcdcdc" stroke-width="0.7"/>
<line x1="489.7" y1="195.4" x2="489.7" y2="147.2" stroke="#dcdcdc" stroke-width="0.7"/>
<line x1="662.5" y1="208.3" x2="557.8" y2="187.5" stroke="#dcdcdc" stroke-width="0.7"/>
<line x1="557.8" y1="187.5" x2="557.8" y2="139.3" stroke="#dcdcdc" stroke-width="0.7"/>
<line x1="526.2" y1="224.1" x2="662.5" y2="208.3" stroke="#dcdcdc" stroke-width="0.7"/>
<line x1="662.5" y1="208.3" x2="662.5" y2="160.1" stroke="#dcdcdc" stroke-width="0.7"/>
<line x1="473.9" y1="213.7" x2="610.1" y2="197.9" stroke="#dcdcdc" stroke-width="0.7"/>
<line x1="610.1" y1="197.9" x2="610.1" y2="149.7" stroke="#dcdcdc" stroke-width="0.7"/>
<line x1="421.5" y1="203.2" x2="557.8" y2="187.5" stroke="#dcdcdc" stroke-width="0.7"/>
<line x1="557.8" y1="187.5" x2="557.8" y2="139.3" stroke="#dcdcdc" stroke-width="0.7"/>
<line x1="421.5" y1="203.2" x2="557.8" y2="187.5" stroke="#dcdcdc" stroke-width="0.7"/>
<line x1="557.8" y1="187.5" x2="662.5" y2="208.3" stroke="#dcdcdc" stroke-width="0.7"/>
<line x1="421.5" y1="179.2" x2="557.8" y2="163.4" stroke="#dcdcdc" stroke-width="0.7"/>
<line x1="557.8" y1="163.4" x2="662.5" y2="184.2" stroke="#dcdcdc" stroke-width="0.7"/>
<line x1="421.5" y1="155.1" x2="557.8" y2="139.3" stroke="#dcdcdc" stroke-width="0.7"/>
<line x1="557.8" y1="139.3" x2="662.5" y2="160.1" stroke="#dcdcdc" stroke-width="0.7"/>
<g stroke="#000" stroke-width="0.45" stroke-linejoin="round">
<path fill="#2a98e0" d="M556.2 158.3 563 155.7 557.8 154.7 551 157.3ZM549.4 160.9 556.2 158.3 551 157.3 544.2 159.9ZM561.5 159.2 568.3 156.6 563 155.7 556.2 158.3ZM542.6 163.5 549.4 160.9 544.2 159.9 537.4 162.5ZM554.6 161.8 561.5 159.2 556.2 158.3 549.4 160.9ZM566.7 160.2 573.5 157.6 568.3 156.6 561.5 159.2ZM535.8 166.1 542.6 163.5 537.4 162.5 530.5 164.5ZM547.8 164.4 554.6 161.8 549.4 160.9 542.6 163.5ZM559.9 162.8 566.7 160.2 561.5 159.2 554.6 161.8ZM571.9 161.1 578.7 158.5 573.5 157.6 566.7 160.2Z"/>
<path fill="#94c64a" d="M529 167.7 535.8 166.1 530.5 164.5 523.7 165.8Z"/>
<path fill="#2a98e0" d="M541 167 547.8 164.4 542.6 163.5 535.8 166.1ZM553.1 165.4 559.9 162.8 554.6 161.8 547.8 164.4ZM565.1 163.7 571.9 161.1 566.7 160.2 559.9 162.8Z"/>
<path fill="#8fc54e" d="M522.1 169 529 167.7 523.7 165.8 516.9 167Z"/>
<path fill="#2a98e0" d="M577.2 162.1 584 159.5 578.7 158.5 571.9 161.1ZM534.2 169.6 541 167 535.8 166.1 529 167.7ZM546.2 168 553.1 165.4 547.8 164.4 541 167ZM558.3 166.3 565.1 163.7 559.9 162.8 553.1 165.4Z"/>
<path fill="#8ac452" d="M515.3 170.3 522.1 169 516.9 167 510.1 168.3Z"/>
<path fill="#2a98e0" d="M570.3 164.7 577.2 162.1 571.9 161.1 565.1 163.7Z"/>
<path fill="#85c356" d="M527.4 171 534.2 169.6 529 167.7 522.1 169Z"/>
<path fill="#2a98e0" d="M582.4 163 589.2 160.4 584 159.5 577.2 162.1ZM539.4 170.6 546.2 168 541 167 534.2 169.6ZM551.5 168.9 558.3 166.3 553.1 165.4 546.2 168Z"/>
<path fill="#85c356" d="M508.5 171.6 515.3 170.3 510.1 168.3 503.3 169.6Z"/>
<path fill="#2a98e0" d="M563.5 167.3 570.3 164.7 565.1 163.7 558.3 166.3Z"/>
<path fill="#80c35a" d="M520.6 172.3 527.4 171 522.1 169 515.3 170.3Z"/>
<path fill="#2a98e0" d="M575.6 165.6 582.4 163 577.2 162.1 570.3 164.7ZM532.6 173 539.4 170.6 534.2 169.6 527.4 171ZM587.6 164 594.4 161.4 589.2 160.4 582.4 163ZM544.7 171.5 551.5 168.9 546.2 168 539.4 170.6Z"/>
<path fill="#80c35a" d="M501.7 172.9 508.5 171.6 503.3 169.6 496.5 170.9Z"/>
<path fill="#2a98e0" d="M556.7 169.9 563.5 167.3 558.3 166.3 551.5 168.9Z"/>
<path fill="#7cc25e" d="M513.8 173.5 520.6 172.3 515.3 170.3 508.5 171.6Z"/>
<path fill="#2a98e0" d="M568.8 168.2 575.6 165.6 570.3 164.7 563.5 167.3Z"/>
<path fill="#77c161" d="M525.8 174.2 532.6 173 527.4 171 520.6 172.3Z"/>
<path fill="#2a98e0" d="M580.8 166.6 587.6 164 582.4 163 575.6 165.6ZM537.9 174.1 544.7 171.5 539.4 170.6 532.6 173Z"/>
<path fill="#7bc25e" d="M494.9 174.1 501.7 172.9 496.5 170.9 489.7 172.2Z"/>
<path fill="#2a98e0" d="M592.9 164.9 599.7 162.3 594.4 161.4 587.6 164ZM549.9 172.5 556.7 169.9 551.5 168.9 544.7 171.5Z"/>
<path fill="#77c161" d="M506.9 174.8 513.8 173.5 508.5 171.6 501.7 172.9Z"/>
<path fill="#2a98e0" d="M562 170.8 568.8 168.2 563.5 167.3 556.7 169.9Z"/>
<path fill="#73c065" d="M519 175.5 525.8 174.2 520.6 172.3 513.8 173.5Z"/>
<path fill="#2a98e0" d="M574 169.2 580.8 166.6 575.6 165.6 568.8 168.2ZM531 176.2 537.9 174.1 532.6 173 525.8 174.2Z"/>
<path fill="#76c162" d="M488.1 175.4 494.9 174.1 489.7 172.2 482.8 173.4Z"/>
<path fill="#2a98e0" d="M586 167.5 592.9 164.9 587.6 164 580.8 166.6ZM543.1 175.1 549.9 172.5 544.7 171.5 537.9 174.1Z"/>
<path fill="#72c065" d="M500.1 176.1 506.9 174.8 501.7 172.9 494.9 174.1Z"/>
<path fill="#299adf" d="M598.1 165.9 604.9 163.3 599.7 162.3 592.9 164.9Z"/>
<path fill="#2a98e0" d="M555.1 173.4 562 170.8 556.7 169.9 549.9 172.5Z"/>
<path fill="#6ec068" d="M512.2 176.8 519 175.5 513.8 173.5 506.9 174.8Z"/>
<path fill="#2a98e0" d="M567.2 171.8 574 169.2 568.8 168.2 562 170.8Z"/>
<path fill="#6bbf6b" d="M524.2 177.5 531 176.2 525.8 174.2 519 175.5Z"/>
<path fill="#72c066" d="M481.3 176.7 488.1 175.4 482.8 173.4 476 174.7Z"/>
<path fill="#2a98e0" d="M579.2 170.1 586 167.5 580.8 166.6 574 169.2ZM536.3 177.6 543.1 175.1 537.9 174.1 531 176.2Z"/>
<path fill="#6ec069" d="M493.3 177.4 500.1 176.1 494.9 174.1 488.1 175.4Z"/>
<path fill="#299adf" d="M591.3 168.5 598.1 165.9 592.9 164.9 586 167.5Z"/>
<path fill="#2a98e0" d="M548.3 176 555.1 173.4 549.9 172.5 543.1 175.1Z"/>
<path fill="#6abf6c" d="M505.4 178.1 512.2 176.8 506.9 174.8 500.1 176.1Z"/>
<path fill="#289cdd" d="M603.3 166.8 610.1 164.2 604.9 163.3 598.1 165.9Z"/>
<path fill="#2a98e0" d="M560.4 174.4 567.2 171.8 562 170.8 555.1 173.4Z"/>
<path fill="#67be6f" d="M517.4 178.8 524.2 177.5 519 175.5 512.2 176.8Z"/>
<path fill="#6dbf69" d="M474.4 178 481.3 176.7 476 174.7 469.2 176Z"/>
<path fill="#2a98e0" d="M572.4 172.7 579.2 170.1 574 169.2 567.2 171.8Z"/>
<path fill="#63be72" d="M529.5 179.5 536.3 177.6 531 176.2 524.2 177.5Z"/>
<path fill="#6abf6c" d="M486.5 178.7 493.3 177.4 488.1 175.4 481.3 176.7Z"/>
<path fill="#299adf" d="M584.5 171.1 591.3 168.5 586 167.5 579.2 170.1Z"/>
<path fill="#2a98e0" d="M541.5 178.6 548.3 176 543.1 175.1 536.3 177.6Z"/>
<path fill="#66be6f" d="M498.5 179.4 505.4 178.1 500.1 176.1 493.3 177.4Z"/>
<path fill="#289cdd" d="M596.5 169.4 603.3 166.8 598.1 165.9 591.3 168.5Z"/>
<path fill="#2a98e0" d="M553.6 177 560.4 174.4 555.1 173.4 548.3 176Z"/>
<path fill="#63be72" d="M510.6 180 517.4 178.8 512.2 176.8 505.4 178.1Z"/>
<path fill="#69bf6d" d="M467.6 179.3 474.4 178 469.2 176 462.4 177.3Z"/>
<path fill="#26a0db" d="M608.6 167.8 615.4 165.2 610.1 164.2 603.3 166.8Z"/>
<path fill="#2a98e0" d="M565.6 175.3 572.4 172.7 567.2 171.8 560.4 174.4Z"/>
<path fill="#5fbd75" d="M522.6 180.7 529.5 179.5 524.2 177.5 517.4 178.8Z"/>
<path fill="#66be70" d="M479.7 180 486.5 178.7 481.3 176.7 474.4 178Z"/>
<path fill="#299adf" d="M577.7 173.7 584.5 171.1 579.2 170.1 572.4 172.7Z"/>
<path fill="#2a98e0" d="M534.7 181.2 541.5 178.6 536.3 177.6 529.5 179.5Z"/>
<path fill="#62be72" d="M491.7 180.6 498.5 179.4 493.3 177.4 486.5 178.7Z"/>
<path fill="#289cdd" d="M589.7 172 596.5 169.4 591.3 168.5 584.5 171.1Z"/>
<path fill="#2a98e0" d="M546.7 179.6 553.6 177 548.3 176 541.5 178.6Z"/>
<path fill="#5fbd75" d="M503.8 181.3 510.6 180 505.4 178.1 498.5 179.4Z"/>
<path fill="#65be70" d="M460.8 180.5 467.6 179.3 462.4 177.3 455.6 178.6Z"/>
<path fill="#26a0db" d="M601.8 170.4 608.6 167.8 603.3 166.8 596.5 169.4Z"/>
<path fill="#2a98e0" d="M558.8 177.9 565.6 175.3 560.4 174.4 553.6 177Z"/>
<path fill="#5bbc78" d="M515.8 182 522.6 180.7 517.4 178.8 510.6 180Z"/>
<path fill="#62bd73" d="M472.9 181.2 479.7 180 474.4 178 467.6 179.3Z"/>
<path fill="#25a2d9" d="M613.8 168.7 620.6 166.1 615.4 165.2 608.6 167.8Z"/>
<path fill="#299adf" d="M570.8 176.3 577.7 173.7 572.4 172.7 565.6 175.3Z"/>
<path fill="#58bc7a" d="M527.9 182.7 534.7 181.2 529.5 179.5 522.6 180.7Z"/>
<path fill="#5ebd76" d="M484.9 181.9 491.7 180.6 486.5 178.7 479.7 180Z"/>
<path fill="#289cdd" d="M582.9 174.6 589.7 172 584.5 171.1 577.7 173.7Z"/>
<path fill="#2a98e0" d="M539.9 182.1 546.7 179.6 541.5 178.6 534.7 181.2Z"/>
<path fill="#5bbc78" d="M497 182.6 503.8 181.3 498.5 179.4 491.7 180.6Z"/>
<path fill="#61bd73" d="M454 181.8 460.8 180.5 455.6 178.6 448.8 179.9Z"/>
<path fill="#26a0db" d="M594.9 173 601.8 170.4 596.5 169.4 589.7 172Z"/>
<path fill="#2a98e0" d="M552 180.5 558.8 177.9 553.6 177 546.7 179.6Z"/>
<path fill="#58bc7b" d="M509 183.3 515.8 182 510.6 180 503.8 181.3Z"/>
<path fill="#5ebd76" d="M466 182.5 472.9 181.2 467.6 179.3 460.8 180.5Z"/>
<path fill="#25a2d9" d="M607 171.3 613.8 168.7 608.6 167.8 601.8 170.4Z"/>
<path fill="#299adf" d="M564 178.9 570.8 176.3 565.6 175.3 558.8 177.9Z"/>
<path fill="#55bb7d" d="M521.1 184 527.9 182.7 522.6 180.7 515.8 182Z"/>
<path fill="#5bbc79" d="M478.1 183.2 484.9 181.9 479.7 180 472.9 181.2Z"/>
<path fill="#23a6d7" d="M619 169.7 625.9 167.1 620.6 166.1 613.8 168.7Z"/>
<path fill="#289cdd" d="M576.1 177.2 582.9 174.6 577.7 173.7 570.8 176.3Z"/>
<path fill="#2a98e0" d="M533.1 184.7 539.9 182.1 534.7 181.2 527.9 182.7Z"/>
<path fill="#57bc7b" d="M490.1 183.9 497 182.6 491.7 180.6 484.9 181.9Z"/>
<path fill="#26a0db" d="M588.1 175.6 594.9 173 589.7 172 582.9 174.6Z"/>
<path fill="#2a98e0" d="M545.2 183.1 552 180.5 546.7 179.6 539.9 182.1Z"/>
<path fill="#54bb7e" d="M502.2 184.6 509 183.3 503.8 181.3 497 182.6Z"/>
<path fill="#5abc79" d="M459.2 183.8 466 182.5 460.8 180.5 454 181.8Z"/>
<path fill="#25a2d9" d="M600.2 173.9 607 171.3 601.8 170.4 594.9 173Z"/>
<path fill="#299adf" d="M557.2 181.5 564 178.9 558.8 177.9 552 180.5Z"/>
<path fill="#51bb80" d="M514.2 185.3 521.1 184 515.8 182 509 183.3Z"/>
<path fill="#57bc7b" d="M471.3 184.5 478.1 183.2 472.9 181.2 466 182.5Z"/>
<path fill="#23a6d7" d="M612.2 172.3 619 169.7 613.8 168.7 607 171.3Z"/>
<path fill="#289cdd" d="M569.3 179.8 576.1 177.2 570.8 176.3 564 178.9Z"/>
<path fill="#4fba82" d="M526.3 186 533.1 184.7 527.9 182.7 521.1 184Z"/>
<path fill="#54bb7e" d="M483.3 185.2 490.1 183.9 484.9 181.9 478.1 183.2Z"/>
<path fill="#22a8d5" d="M624.3 170.6 631.1 168.1 625.9 167.1 619 169.7Z"/>
<path fill="#26a0db" d="M581.3 178.2 588.1 175.6 582.9 174.6 576.1 177.2Z"/>
<path fill="#2a98e0" d="M538.3 185.7 545.2 183.1 539.9 182.1 533.1 184.7Z"/>
<path fill="#51bb80" d="M495.4 185.9 502.2 184.6 497 182.6 490.1 183.9Z"/>
<path fill="#25a2d9" d="M593.4 176.5 600.2 173.9 594.9 173 588.1 175.6Z"/>
<path fill="#299adf" d="M550.4 184.1 557.2 181.5 552 180.5 545.2 183.1Z"/>
<path fill="#4eba83" d="M507.4 186.6 514.2 185.3 509 183.3 502.2 184.6Z"/>
<path fill="#53bb7e" d="M464.5 185.8 471.3 184.5 466 182.5 459.2 183.8Z"/>
<path fill="#23a6d7" d="M605.4 174.9 612.2 172.3 607 171.3 600.2 173.9Z"/>
<path fill="#289cdd" d="M562.4 182.4 569.3 179.8 564 178.9 557.2 181.5Z"/>
<path fill="#4bba85" d="M519.5 187.2 526.3 186 521.1 184 514.2 185.3Z"/>
<path fill="#51bb81" d="M476.5 186.5 483.3 185.2 478.1 183.2 471.3 184.5Z"/>
<path fill="#22a8d5" d="M617.5 173.2 624.3 170.6 619 169.7 612.2 172.3Z"/>
<path fill="#26a0db" d="M574.5 180.8 581.3 178.2 576.1 177.2 569.3 179.8Z"/>
<path fill="#2a98e0" d="M531.5 187.9 538.3 185.7 533.1 184.7 526.3 186Z"/>
<path fill="#4eba83" d="M488.6 187.1 495.4 185.9 490.1 183.9 483.3 185.2Z"/>
<path fill="#20acd3" d="M629.5 171.6 636.3 169 631.1 168.1 624.3 170.6Z"/>
<path fill="#25a2d9" d="M586.5 179.1 593.4 176.5 588.1 175.6 581.3 178.2Z"/>
<path fill="#299adf" d="M543.6 186.6 550.4 184.1 545.2 183.1 538.3 185.7Z"/>
<path fill="#4bba85" d="M500.6 187.8 507.4 186.6 502.2 184.6 495.4 185.9Z"/>
<path fill="#23a6d7" d="M598.6 177.5 605.4 174.9 600.2 173.9 593.4 176.5Z"/>
<path fill="#289cdd" d="M555.6 185 562.4 182.4 557.2 181.5 550.4 184.1Z"/>
<path fill="#48b987" d="M512.7 188.5 519.5 187.2 514.2 185.3 507.4 186.6Z"/>
<path fill="#4dba83" d="M469.7 187.7 476.5 186.5 471.3 184.5 464.5 185.8Z"/>
<path fill="#22a8d5" d="M610.6 175.8 617.5 173.2 612.2 172.3 605.4 174.9Z"/>
<path fill="#26a0db" d="M567.7 183.4 574.5 180.8 569.3 179.8 562.4 182.4Z"/>
<path fill="#46b989" d="M524.7 189.2 531.5 187.9 526.3 186 519.5 187.2Z"/>
<path fill="#4bba85" d="M481.8 188.4 488.6 187.1 483.3 185.2 476.5 186.5Z"/>
<path fill="#20acd3" d="M622.7 174.2 629.5 171.6 624.3 170.6 617.5 173.2Z"/>
<path fill="#25a2d9" d="M579.7 181.7 586.5 179.1 581.3 178.2 574.5 180.8Z"/>
<path fill="#299adf" d="M536.8 189.2 543.6 186.6 538.3 185.7 531.5 187.9Z"/>
<path fill="#48b987" d="M493.8 189.1 500.6 187.8 495.4 185.9 488.6 187.1Z"/>
<path fill="#1faed1" d="M634.7 172.6 641.6 170 636.3 169 629.5 171.6Z"/>
<path fill="#23a6d7" d="M591.8 180.1 598.6 177.5 593.4 176.5 586.5 179.1Z"/>
<path fill="#289cdd" d="M548.8 187.6 555.6 185 550.4 184.1 543.6 186.6Z"/>
<path fill="#46b98a" d="M505.9 189.8 512.7 188.5 507.4 186.6 500.6 187.8Z"/>
<path fill="#22a8d5" d="M603.8 178.4 610.6 175.8 605.4 174.9 598.6 177.5Z"/>
<path fill="#26a0db" d="M560.9 186 567.7 183.4 562.4 182.4 555.6 185Z"/>
<path fill="#43b88b" d="M517.9 190.5 524.7 189.2 519.5 187.2 512.7 188.5Z"/>
<path fill="#48b988" d="M474.9 189.7 481.8 188.4 476.5 186.5 469.7 187.7Z"/>
<path fill="#20acd3" d="M615.9 176.8 622.7 174.2 617.5 173.2 610.6 175.8Z"/>
<path fill="#25a2d9" d="M572.9 184.3 579.7 181.7 574.5 180.8 567.7 183.4Z"/>
<path fill="#41b88d" d="M530 191.2 536.8 189.2 531.5 187.9 524.7 189.2Z"/>
<path fill="#45b98a" d="M487 190.4 493.8 189.1 488.6 187.1 481.8 188.4Z"/>
<path fill="#1faed1" d="M627.9 175.1 634.7 172.6 629.5 171.6 622.7 174.2Z"/>
<path fill="#23a6d7" d="M585 182.7 591.8 180.1 586.5 179.1 579.7 181.7Z"/>
<path fill="#289cdd" d="M542 190.2 548.8 187.6 543.6 186.6 536.8 189.2Z"/>
<path fill="#43b88c" d="M499 191.1 505.9 189.8 500.6 187.8 493.8 189.1Z"/>
<path fill="#22a8d5" d="M597 181 603.8 178.4 598.6 177.5 591.8 180.1Z"/>
<path fill="#26a0db" d="M554.1 188.6 560.9 186 555.6 185 548.8 187.6Z"/>
<path fill="#41b88e" d="M511.1 191.8 517.9 190.5 512.7 188.5 505.9 189.8Z"/>
<path fill="#20acd3" d="M609.1 179.4 615.9 176.8 610.6 175.8 603.8 178.4Z"/>
<path fill="#25a2d9" d="M566.1 186.9 572.9 184.3 567.7 183.4 560.9 186Z"/>
<path fill="#3fb78f" d="M523.1 192.5 530 191.2 524.7 189.2 517.9 190.5Z"/>
<path fill="#43b88c" d="M480.2 191.7 487 190.4 481.8 188.4 474.9 189.7Z"/>
<path fill="#1faed1" d="M621.1 177.7 627.9 175.1 622.7 174.2 615.9 176.8Z"/>
<path fill="#23a6d7" d="M578.2 185.3 585 182.7 579.7 181.7 572.9 184.3Z"/>
<path fill="#289cdd" d="M535.2 192.8 542 190.2 536.8 189.2 530 191.2Z"/>
<path fill="#40b88e" d="M492.2 192.4 499 191.1 493.8 189.1 487 190.4Z"/>
<path fill="#22a8d5" d="M590.2 183.6 597 181 591.8 180.1 585 182.7Z"/>
<path fill="#26a0db" d="M547.2 191.1 554.1 188.6 548.8 187.6 542 190.2Z"/>
<path fill="#3eb78f" d="M504.3 193.1 511.1 191.8 505.9 189.8 499 191.1Z"/>
<path fill="#20acd3" d="M602.3 182 609.1 179.4 603.8 178.4 597 181Z"/>
<path fill="#25a2d9" d="M559.3 189.5 566.1 186.9 560.9 186 554.1 188.6Z"/>
<path fill="#3cb791" d="M516.3 193.7 523.1 192.5 517.9 190.5 511.1 191.8Z"/>
<path fill="#1faed1" d="M614.3 180.3 621.1 177.7 615.9 176.8 609.1 179.4Z"/>
<path fill="#23a6d7" d="M571.3 187.9 578.2 185.3 572.9 184.3 566.1 186.9Z"/>
<path fill="#3ab793" d="M528.4 194.4 535.2 192.8 530 191.2 523.1 192.5Z"/>
<path fill="#3eb790" d="M485.4 193.6 492.2 192.4 487 190.4 480.2 191.7Z"/>
<path fill="#22a8d5" d="M583.4 186.2 590.2 183.6 585 182.7 578.2 185.3Z"/>
<path fill="#26a0db" d="M540.4 193.7 547.2 191.1 542 190.2 535.2 192.8Z"/>
<path fill="#3cb791" d="M497.5 194.3 504.3 193.1 499 191.1 492.2 192.4Z"/>
<path fill="#20acd3" d="M595.4 184.6 602.3 182 597 181 590.2 183.6Z"/>
<path fill="#25a2d9" d="M552.5 192.1 559.3 189.5 554.1 188.6 547.2 191.1Z"/>
<path fill="#3ab793" d="M509.5 195 516.3 193.7 511.1 191.8 504.3 193.1Z"/>
<path fill="#1faed1" d="M607.5 182.9 614.3 180.3 609.1 179.4 602.3 182Z"/>
<path fill="#23a6d7" d="M564.5 190.5 571.3 187.9 566.1 186.9 559.3 189.5Z"/>
<path fill="#38b694" d="M521.6 195.7 528.4 194.4 523.1 192.5 516.3 193.7Z"/>
<path fill="#22a8d5" d="M576.6 188.8 583.4 186.2 578.2 185.3 571.3 187.9Z"/>
<path fill="#26a0db" d="M533.6 196.3 540.4 193.7 535.2 192.8 528.4 194.4Z"/>
<path fill="#3ab793" d="M490.6 195.6 497.5 194.3 492.2 192.4 485.4 193.6Z"/>
<path fill="#20acd3" d="M588.6 187.2 595.4 184.6 590.2 183.6 583.4 186.2Z"/>
<path fill="#25a2d9" d="M545.7 194.7 552.5 192.1 547.2 191.1 540.4 193.7Z"/>
<path fill="#38b695" d="M502.7 196.3 509.5 195 504.3 193.1 497.5 194.3Z"/>
<path fill="#1faed1" d="M600.7 185.5 607.5 182.9 602.3 182 595.4 184.6Z"/>
<path fill="#23a6d7" d="M557.7 193.1 564.5 190.5 559.3 189.5 552.5 192.1Z"/>
<path fill="#36b696" d="M514.7 197 521.6 195.7 516.3 193.7 509.5 195Z"/>
<path fill="#22a8d5" d="M569.8 191.4 576.6 188.8 571.3 187.9 564.5 190.5Z"/>
<path fill="#35b697" d="M526.8 197.7 533.6 196.3 528.4 194.4 521.6 195.7Z"/>
<path fill="#20acd3" d="M581.8 189.8 588.6 187.2 583.4 186.2 576.6 188.8Z"/>
<path fill="#25a2d9" d="M538.8 197.3 545.7 194.7 540.4 193.7 533.6 196.3Z"/>
<path fill="#36b696" d="M495.9 197.6 502.7 196.3 497.5 194.3 490.6 195.6Z"/>
<path fill="#1faed1" d="M593.9 188.1 600.7 185.5 595.4 184.6 588.6 187.2Z"/>
<path fill="#23a6d7" d="M550.9 195.6 557.7 193.1 552.5 192.1 545.7 194.7Z"/>
<path fill="#35b697" d="M507.9 198.3 514.7 197 509.5 195 502.7 196.3Z"/>
<path fill="#22a8d5" d="M562.9 194 569.8 191.4 564.5 190.5 557.7 193.1Z"/>
<path fill="#33b699" d="M520 199 526.8 197.7 521.6 195.7 514.7 197Z"/>
<path fill="#20acd3" d="M575 192.4 581.8 189.8 576.6 188.8 569.8 191.4Z"/>
<path fill="#25a2d9" d="M532 199.7 538.8 197.3 533.6 196.3 526.8 197.7Z"/>
<path fill="#1faed1" d="M587 190.7 593.9 188.1 588.6 187.2 581.8 189.8Z"/>
<path fill="#23a6d7" d="M544.1 198.2 550.9 195.6 545.7 194.7 538.8 197.3Z"/>
<path fill="#33b699" d="M501.1 199.6 507.9 198.3 502.7 196.3 495.9 197.6Z"/>
<path fill="#22a8d5" d="M556.1 196.6 562.9 194 557.7 193.1 550.9 195.6Z"/>
<path fill="#32b59a" d="M513.2 200.2 520 199 514.7 197 507.9 198.3Z"/>
<path fill="#20acd3" d="M568.2 195 575 192.4 569.8 191.4 562.9 194Z"/>
<path fill="#30b59b" d="M525.2 200.9 532 199.7 526.8 197.7 520 199Z"/>
<path fill="#1faed1" d="M580.2 193.3 587 190.7 581.8 189.8 575 192.4Z"/>
<path fill="#23a6d7" d="M537.3 200.8 544.1 198.2 538.8 197.3 532 199.7Z"/>
<path fill="#22a8d5" d="M549.3 199.2 556.1 196.6 550.9 195.6 544.1 198.2Z"/>
<path fill="#30b59b" d="M506.3 201.5 513.2 200.2 507.9 198.3 501.1 199.6Z"/>
<path fill="#20acd3" d="M561.4 197.6 568.2 195 562.9 194 556.1 196.6Z"/>
<path fill="#2fb59c" d="M518.4 202.2 525.2 200.9 520 199 513.2 200.2Z"/>
<path fill="#1faed1" d="M573.4 195.9 580.2 193.3 575 192.4 568.2 195Z"/>
<path fill="#2eb59d" d="M530.4 202.9 537.3 200.8 532 199.7 525.2 200.9Z"/>
<path fill="#22a8d5" d="M542.5 201.8 549.3 199.2 544.1 198.2 537.3 200.8Z"/>
<path fill="#20acd3" d="M554.5 200.1 561.4 197.6 556.1 196.6 549.3 199.2Z"/>
<path fill="#2eb59d" d="M511.6 203.5 518.4 202.2 513.2 200.2 506.3 201.5Z"/>
<path fill="#1faed1" d="M566.6 198.5 573.4 195.9 568.2 195 561.4 197.6Z"/>
<path fill="#2db59d" d="M523.6 204.2 530.4 202.9 525.2 200.9 518.4 202.2Z"/>
<path fill="#22a8d5" d="M535.7 204.4 542.5 201.8 537.3 200.8 530.4 202.9Z"/>
<path fill="#20acd3" d="M547.7 202.7 554.5 200.1 549.3 199.2 542.5 201.8Z"/>
<path fill="#1faed1" d="M559.8 201.1 566.6 198.5 561.4 197.6 554.5 200.1Z"/>
<path fill="#2cb49e" d="M516.8 205.5 523.6 204.2 518.4 202.2 511.6 203.5Z"/>
<path fill="#2cb49f" d="M528.9 206.2 535.7 204.4 530.4 202.9 523.6 204.2Z"/>
<path fill="#20acd3" d="M540.9 205.3 547.7 202.7 542.5 201.8 535.7 204.4Z"/>
<path fill="#1faed1" d="M553 203.7 559.8 201.1 554.5 200.1 547.7 202.7Z"/>
<path fill="#2bb49f" d="M522.1 207.4 528.9 206.2 523.6 204.2 516.8 205.5Z"/>
<path fill="#20acd3" d="M534.1 207.9 540.9 205.3 535.7 204.4 528.9 206.2Z"/>
<path fill="#1faed1" d="M546.1 206.3 553 203.7 547.7 202.7 540.9 205.3Z"/>
<path fill="#2ab4a0" d="M527.3 209.4 534.1 207.9 528.9 206.2 522.1 207.4Z"/>
<path fill="#1faed1" d="M539.3 208.9 546.1 206.3 540.9 205.3 534.1 207.9ZM532.5 211.4 539.3 208.9 534.1 207.9 527.3 209.4Z"/>
</g>
<line x1="421.5" y1="203.2" x2="421.5" y2="155.1" stroke="#262626" stroke-width="0.8"/>
<line x1="421.5" y1="203.2" x2="418" y2="203.2" stroke="#262626" stroke-width="0.8"/>
<line x1="421.5" y1="179.2" x2="418" y2="179.2" stroke="#262626" stroke-width="0.8"/>
<line x1="421.5" y1="155.1" x2="418" y2="155.1" stroke="#262626" stroke-width="0.8"/>
<line x1="421.5" y1="203.2" x2="526.2" y2="224.1" stroke="#262626" stroke-width="0.8"/>
<line x1="526.2" y1="224.1" x2="662.5" y2="208.3" stroke="#262626" stroke-width="0.8"/>
<line x1="526.2" y1="224.1" x2="529.1" y2="224.7" stroke="#262626" stroke-width="0.8"/>
<line x1="594.4" y1="216.2" x2="597.3" y2="216.8" stroke="#262626" stroke-width="0.8"/>
<line x1="662.5" y1="208.3" x2="665.4" y2="208.9" stroke="#262626" stroke-width="0.8"/>
<line x1="526.2" y1="224.1" x2="523.2" y2="224.4" stroke="#262626" stroke-width="0.8"/>
<line x1="473.9" y1="213.7" x2="470.9" y2="214" stroke="#262626" stroke-width="0.8"/>
<line x1="421.5" y1="203.2" x2="418.5" y2="203.6" stroke="#262626" stroke-width="0.8"/>
<line x1="160.7" y1="353.2" x2="56" y2="332.4" stroke="#dcdcdc" stroke-width="0.7"/>
<line x1="56" y1="332.4" x2="56" y2="284.1" stroke="#dcdcdc" stroke-width="0.7"/>
<line x1="228.8" y1="345.4" x2="124.1" y2="324.5" stroke="#dcdcdc" stroke-width="0.7"/>
<line x1="124.1" y1="324.5" x2="124.1" y2="276.2" stroke="#dcdcdc" stroke-width="0.7"/>
<line x1="297" y1="337.5" x2="192.3" y2="316.6" stroke="#dcdcdc" stroke-width="0.7"/>
<line x1="192.3" y1="316.6" x2="192.3" y2="268.3" stroke="#dcdcdc" stroke-width="0.7"/>
<line x1="160.7" y1="353.2" x2="297" y2="337.5" stroke="#dcdcdc" stroke-width="0.7"/>
<line x1="297" y1="337.5" x2="297" y2="289.2" stroke="#dcdcdc" stroke-width="0.7"/>
<line x1="108.3" y1="342.8" x2="244.7" y2="327.1" stroke="#dcdcdc" stroke-width="0.7"/>
<line x1="244.7" y1="327.1" x2="244.7" y2="278.8" stroke="#dcdcdc" stroke-width="0.7"/>
<line x1="56" y1="332.4" x2="192.3" y2="316.6" stroke="#dcdcdc" stroke-width="0.7"/>
<line x1="192.3" y1="316.6" x2="192.3" y2="268.3" stroke="#dcdcdc" stroke-width="0.7"/>
<line x1="56" y1="332.4" x2="192.3" y2="316.6" stroke="#dcdcdc" stroke-width="0.7"/>
<line x1="192.3" y1="316.6" x2="297" y2="337.5" stroke="#dcdcdc" stroke-width="0.7"/>
<line x1="56" y1="316.3" x2="192.3" y2="300.5" stroke="#dcdcdc" stroke-width="0.7"/>
<line x1="192.3" y1="300.5" x2="297" y2="321.4" stroke="#dcdcdc" stroke-width="0.7"/>
<line x1="56" y1="300.2" x2="192.3" y2="284.4" stroke="#dcdcdc" stroke-width="0.7"/>
<line x1="192.3" y1="284.4" x2="297" y2="305.3" stroke="#dcdcdc" stroke-width="0.7"/>
<line x1="56" y1="284.1" x2="192.3" y2="268.3" stroke="#dcdcdc" stroke-width="0.7"/>
<line x1="192.3" y1="268.3" x2="297" y2="289.2" stroke="#dcdcdc" stroke-width="0.7"/>
<g stroke="#000" stroke-width="0.45" stroke-linejoin="round">
<path fill="#2c9ce6" d="M186.9 294.9 197.5 289.9 192.3 289.9 181.7 294.9ZM192.1 294.8 202.8 289.8 197.5 289.9 186.9 294.9ZM176.3 299.9 186.9 294.9 181.7 294.9 171 300ZM197.4 294.8 208 289.8 202.8 289.8 192.1 294.8ZM181.5 299.9 192.1 294.8 186.9 294.9 176.3 299.9ZM165.6 304.9 176.3 299.9 171 300 160.4 305ZM202.6 294.7 213.2 289.7 208 289.8 197.4 294.8ZM186.7 299.8 197.4 294.8 192.1 294.8 181.5 299.9ZM170.9 304.9 181.5 299.9 176.3 299.9 165.6 304.9ZM155 310 165.6 304.9 160.4 305 149.8 310ZM207.8 294.7 218.5 289.7 213.2 289.7 202.6 294.7ZM192 299.8 202.6 294.7 197.4 294.8 186.7 299.8ZM176.1 304.8 186.7 299.8 181.5 299.9 170.9 304.9ZM160.2 309.9 170.9 304.9 165.6 304.9 155 310ZM144.4 315 155 310 149.8 310 139.1 315ZM213.1 294.6 223.7 289.6 218.5 289.7 207.8 294.7ZM197.2 299.7 207.8 294.7 202.6 294.7 192 299.8ZM181.3 304.8 192 299.8 186.7 299.8 176.1 304.8ZM165.5 309.9 176.1 304.8 170.9 304.9 160.2 309.9ZM149.6 314.9 160.2 309.9 155 310 144.4 315ZM133.7 320 144.4 315 139.1 315 128.5 320.1ZM218.3 294.6 228.9 289.6 223.7 289.6 213.1 294.6ZM202.4 299.7 213.1 294.6 207.8 294.7 197.2 299.7ZM186.6 304.7 197.2 299.7 192 299.8 181.3 304.8ZM170.7 309.8 181.3 304.8 176.1 304.8 165.5 309.9ZM154.8 314.9 165.5 309.9 160.2 309.9 149.6 314.9ZM139 319.9 149.6 314.9 144.4 315 133.7 320ZM223.5 294.5 234.2 289.5 228.9 289.6 218.3 294.6ZM123.1 325 133.7 320 128.5 320.1 117.9 325.1ZM207.7 299.6 218.3 294.6 213.1 294.6 202.4 299.7ZM191.8 304.7 202.4 299.7 197.2 299.7 186.6 304.7ZM175.9 309.7 186.6 304.7 181.3 304.8 170.7 309.8ZM160.1 314.8 170.7 309.8 165.5 309.9 154.8 314.9ZM144.2 319.9 154.8 314.9 149.6 314.9 139 319.9ZM228.8 294.5 239.4 289.5 234.2 289.5 223.5 294.5ZM128.4 325 139 319.9 133.7 320 123.1 325ZM212.9 299.5 223.5 294.5 218.3 294.6 207.7 299.6Z"/>
<path fill="#1aa7ad" d="M112.5 327.5 123.1 325 117.9 325.1 107.2 326.5Z"/>
<path fill="#2c9ce6" d="M197.1 304.6 207.7 299.6 202.4 299.7 191.8 304.7ZM181.2 309.7 191.8 304.7 186.6 304.7 175.9 309.7ZM165.3 314.8 175.9 309.7 170.7 309.8 160.1 314.8ZM149.5 319.8 160.1 314.8 154.8 314.9 144.2 319.9ZM234 294.4 244.7 289.4 239.4 289.5 228.8 294.5ZM133.6 324.9 144.2 319.9 139 319.9 128.4 325ZM218.2 299.5 228.8 294.5 223.5 294.5 212.9 299.5Z"/>
<path fill="#1aa7ad" d="M117.7 328.6 128.4 325 123.1 325 112.5 327.5Z"/>
<path fill="#2c9ce6" d="M202.3 304.6 212.9 299.5 207.7 299.6 197.1 304.6Z"/>
<path fill="#1aa7ad" d="M101.9 328.7 112.5 327.5 107.2 326.5 96.6 327.7Z"/>
<path fill="#2c9ce6" d="M186.4 309.6 197.1 304.6 191.8 304.7 181.2 309.7ZM170.6 314.7 181.2 309.7 175.9 309.7 165.3 314.8ZM154.7 319.8 165.3 314.8 160.1 314.8 149.5 319.8ZM239.3 294.4 249.9 289.3 244.7 289.4 234 294.4ZM138.8 324.9 149.5 319.8 144.2 319.9 133.6 324.9ZM223.4 299.4 234 294.4 228.8 294.5 218.2 299.5ZM123 329.6 133.6 324.9 128.4 325 117.7 328.6ZM207.5 304.5 218.2 299.5 212.9 299.5 202.3 304.6Z"/>
<path fill="#1aa7ad" d="M107.1 329.8 117.7 328.6 112.5 327.5 101.9 328.7Z"/>
<path fill="#2c9ce6" d="M191.7 309.6 202.3 304.6 197.1 304.6 186.4 309.6Z"/>
<path fill="#1aa7ad" d="M91.2 330 101.9 328.7 96.6 327.7 86 328.9Z"/>
<path fill="#2c9ce6" d="M175.8 314.7 186.4 309.6 181.2 309.7 170.6 314.7ZM159.9 319.7 170.6 314.7 165.3 314.8 154.7 319.8ZM244.5 294.3 255.1 289.3 249.9 289.3 239.3 294.4ZM144.1 324.8 154.7 319.8 149.5 319.8 138.8 324.9ZM228.6 299.4 239.3 294.4 234 294.4 223.4 299.4ZM128.2 329.9 138.8 324.9 133.6 324.9 123 329.6ZM212.8 304.5 223.4 299.4 218.2 299.5 207.5 304.5Z"/>
<path fill="#1aa7ad" d="M112.3 330.8 123 329.6 117.7 328.6 107.1 329.8Z"/>
<path fill="#2c9ce6" d="M196.9 309.5 207.5 304.5 202.3 304.6 191.7 309.6Z"/>
<path fill="#1aa7ad" d="M96.5 331 107.1 329.8 101.9 328.7 91.2 330Z"/>
<path fill="#2c9ce6" d="M181 314.6 191.7 309.6 186.4 309.6 175.8 314.7ZM165.2 319.7 175.8 314.7 170.6 314.7 159.9 319.7ZM249.7 294.3 260.4 289.2 255.1 289.3 244.5 294.3ZM149.3 324.8 159.9 319.7 154.7 319.8 144.1 324.8ZM233.9 299.3 244.5 294.3 239.3 294.4 228.6 299.4ZM133.4 329.8 144.1 324.8 138.8 324.9 128.2 329.9ZM218 304.4 228.6 299.4 223.4 299.4 212.8 304.5Z"/>
<path fill="#1aa7ad" d="M117.6 331.9 128.2 329.9 123 329.6 112.3 330.8Z"/>
<path fill="#2c9ce6" d="M202.1 309.5 212.8 304.5 207.5 304.5 196.9 309.5Z"/>
<path fill="#1aa7ad" d="M101.7 332.1 112.3 330.8 107.1 329.8 96.5 331Z"/>
<path fill="#2c9ce6" d="M186.3 314.6 196.9 309.5 191.7 309.6 181 314.6ZM170.4 319.6 181 314.6 175.8 314.7 165.2 319.7ZM255 294.2 265.6 289.2 260.4 289.2 249.7 294.3ZM154.5 324.7 165.2 319.7 159.9 319.7 149.3 324.8ZM239.1 299.3 249.7 294.3 244.5 294.3 233.9 299.3ZM138.7 329.8 149.3 324.8 144.1 324.8 133.4 329.8ZM223.2 304.4 233.9 299.3 228.6 299.4 218 304.4Z"/>
<path fill="#1aa7ad" d="M122.8 332.9 133.4 329.8 128.2 329.9 117.6 331.9Z"/>
<path fill="#2c9ce6" d="M207.4 309.4 218 304.4 212.8 304.5 202.1 309.5Z"/>
<path fill="#1aa7ad" d="M106.9 333.1 117.6 331.9 112.3 330.8 101.7 332.1Z"/>
<path fill="#2c9ce6" d="M191.5 314.5 202.1 309.5 196.9 309.5 186.3 314.6ZM175.6 319.6 186.3 314.6 181 314.6 170.4 319.6ZM260.2 294.2 270.8 289.1 265.6 289.2 255 294.2ZM159.8 324.7 170.4 319.6 165.2 319.7 154.5 324.7ZM244.3 299.2 255 294.2 249.7 294.3 239.1 299.3ZM143.9 329.7 154.5 324.7 149.3 324.8 138.7 329.8ZM228.5 304.3 239.1 299.3 233.9 299.3 223.2 304.4Z"/>
<path fill="#1aa7ad" d="M128 334 138.7 329.8 133.4 329.8 122.8 332.9Z"/>
<path fill="#2c9ce6" d="M212.6 309.4 223.2 304.4 218 304.4 207.4 309.4Z"/>
<path fill="#1aa7ad" d="M112.2 334.1 122.8 332.9 117.6 331.9 106.9 333.1Z"/>
<path fill="#2c9ce6" d="M196.7 314.5 207.4 309.4 202.1 309.5 191.5 314.5ZM180.9 319.5 191.5 314.5 186.3 314.6 175.6 319.6ZM265.4 294.1 276.1 289.1 270.8 289.1 260.2 294.2ZM165 324.6 175.6 319.6 170.4 319.6 159.8 324.7ZM249.6 299.2 260.2 294.2 255 294.2 244.3 299.2ZM149.1 329.7 159.8 324.7 154.5 324.7 143.9 329.7ZM233.7 304.3 244.3 299.2 239.1 299.3 228.5 304.3ZM133.3 334.7 143.9 329.7 138.7 329.8 128 334ZM217.8 309.3 228.5 304.3 223.2 304.4 212.6 309.4Z"/>
<path fill="#1aa7ad" d="M117.4 335.2 128 334 122.8 332.9 112.2 334.1Z"/>
<path fill="#2c9ce6" d="M202 314.4 212.6 309.4 207.4 309.4 196.7 314.5ZM186.1 319.5 196.7 314.5 191.5 314.5 180.9 319.5ZM270.7 294.1 281.3 289 276.1 289.1 265.4 294.1ZM170.2 324.5 180.9 319.5 175.6 319.6 165 324.6ZM254.8 299.1 265.4 294.1 260.2 294.2 249.6 299.2ZM154.4 329.6 165 324.6 159.8 324.7 149.1 329.7ZM238.9 304.2 249.6 299.2 244.3 299.2 233.7 304.3ZM138.5 334.7 149.1 329.7 143.9 329.7 133.3 334.7ZM223.1 309.3 233.7 304.3 228.5 304.3 217.8 309.3Z"/>
<path fill="#1aa7ad" d="M122.6 336.2 133.3 334.7 128 334 117.4 335.2Z"/>
<path fill="#2c9ce6" d="M207.2 314.3 217.8 309.3 212.6 309.4 202 314.4ZM191.3 319.4 202 314.4 196.7 314.5 186.1 319.5ZM275.9 294 286.5 289 281.3 289 270.7 294.1ZM175.5 324.5 186.1 319.5 180.9 319.5 170.2 324.5ZM260 299.1 270.7 294.1 265.4 294.1 254.8 299.1ZM159.6 329.6 170.2 324.5 165 324.6 154.4 329.6ZM244.2 304.2 254.8 299.1 249.6 299.2 238.9 304.2ZM143.7 334.6 154.4 329.6 149.1 329.7 138.5 334.7ZM228.3 309.2 238.9 304.2 233.7 304.3 223.1 309.3Z"/>
<path fill="#1aa7ad" d="M127.9 337.3 138.5 334.7 133.3 334.7 122.6 336.2Z"/>
<path fill="#2c9ce6" d="M277.8 294 288.4 289 286.5 289 275.9 294ZM212.4 314.3 223.1 309.3 217.8 309.3 207.2 314.3ZM196.6 319.4 207.2 314.3 202 314.4 191.3 319.4ZM180.7 324.4 191.3 319.4 186.1 319.5 175.5 324.5ZM265.3 299 275.9 294 270.7 294.1 260 299.1ZM164.8 329.5 175.5 324.5 170.2 324.5 159.6 329.6ZM249.4 304.1 260 299.1 254.8 299.1 244.2 304.2ZM149 334.6 159.6 329.6 154.4 329.6 143.7 334.6ZM233.5 309.2 244.2 304.2 238.9 304.2 228.3 309.2Z"/>
<path fill="#1aa7ad" d="M133.1 338.3 143.7 334.6 138.5 334.7 127.9 337.3Z"/>
<path fill="#2c9ce6" d="M217.7 314.2 228.3 309.2 223.1 309.3 212.4 314.3ZM267.2 299 277.8 294 275.9 294 265.3 299ZM201.8 319.3 212.4 314.3 207.2 314.3 196.6 319.4ZM185.9 324.4 196.6 319.4 191.3 319.4 180.7 324.4ZM170.1 329.5 180.7 324.4 175.5 324.5 164.8 329.5ZM254.6 304 265.3 299 260 299.1 249.4 304.1ZM154.2 334.5 164.8 329.5 159.6 329.6 149 334.6ZM238.8 309.1 249.4 304.1 244.2 304.2 233.5 309.2ZM138.3 339.4 149 334.6 143.7 334.6 133.1 338.3ZM222.9 314.2 233.5 309.2 228.3 309.2 217.7 314.2ZM207 319.3 217.7 314.2 212.4 314.3 201.8 319.3ZM256.5 304 267.2 299 265.3 299 254.6 304ZM191.2 324.3 201.8 319.3 196.6 319.4 185.9 324.4ZM175.3 329.4 185.9 324.4 180.7 324.4 170.1 329.5ZM159.4 334.5 170.1 329.5 164.8 329.5 154.2 334.5ZM244 309.1 254.6 304 249.4 304.1 238.8 309.1ZM143.6 339.6 154.2 334.5 149 334.6 138.3 339.4ZM228.1 314.1 238.8 309.1 233.5 309.2 222.9 314.2ZM212.3 319.2 222.9 314.2 217.7 314.2 207 319.3ZM196.4 324.3 207 319.3 201.8 319.3 191.2 324.3ZM245.9 309 256.5 304 254.6 304 244 309.1ZM180.5 329.4 191.2 324.3 185.9 324.4 175.3 329.4ZM164.7 334.4 175.3 329.4 170.1 329.5 159.4 334.5ZM148.8 339.5 159.4 334.5 154.2 334.5 143.6 339.6ZM233.4 314.1 244 309.1 238.8 309.1 228.1 314.1ZM217.5 319.2 228.1 314.1 222.9 314.2 212.3 319.2ZM201.6 324.2 212.3 319.2 207 319.3 196.4 324.3ZM185.8 329.3 196.4 324.3 191.2 324.3 180.5 329.4ZM235.3 314.1 245.9 309 244 309.1 233.4 314.1ZM169.9 334.4 180.5 329.4 175.3 329.4 164.7 334.4ZM154 339.5 164.7 334.4 159.4 334.5 148.8 339.5ZM222.7 319.1 233.4 314.1 228.1 314.1 217.5 319.2ZM206.9 324.2 217.5 319.2 212.3 319.2 201.6 324.2ZM191 329.3 201.6 324.2 196.4 324.3 185.8 329.3ZM175.1 334.3 185.8 329.3 180.5 329.4 169.9 334.4ZM224.6 319.1 235.3 314.1 233.4 314.1 222.7 319.1ZM159.3 339.4 169.9 334.4 164.7 334.4 154 339.5ZM212.1 324.1 222.7 319.1 217.5 319.2 206.9 324.2ZM196.2 329.2 206.9 324.2 201.6 324.2 191 329.3ZM180.4 334.3 191 329.3 185.8 329.3 175.1 334.3ZM164.5 339.3 175.1 334.3 169.9 334.4 159.3 339.4ZM214 324.1 224.6 319.1 222.7 319.1 212.1 324.1ZM201.5 329.2 212.1 324.1 206.9 324.2 196.2 329.2ZM185.6 334.2 196.2 329.2 191 329.3 180.4 334.3ZM169.7 339.3 180.4 334.3 175.1 334.3 164.5 339.3ZM203.4 329.1 214 324.1 212.1 324.1 201.5 329.2ZM190.8 334.2 201.5 329.2 196.2 329.2 185.6 334.2ZM175 339.2 185.6 334.2 180.4 334.3 169.7 339.3ZM192.7 334.2 203.4 329.1 201.5 329.2 190.8 334.2ZM180.2 339.2 190.8 334.2 185.6 334.2 175 339.2ZM182.1 339.2 192.7 334.2 190.8 334.2 180.2 339.2Z"/>
</g>
<line x1="56" y1="332.4" x2="56" y2="284.1" stroke="#262626" stroke-width="0.8"/>
<line x1="56" y1="332.4" x2="52.5" y2="332.4" stroke="#262626" stroke-width="0.8"/>
<line x1="56" y1="316.3" x2="52.5" y2="316.3" stroke="#262626" stroke-width="0.8"/>
<line x1="56" y1="300.2" x2="52.5" y2="300.2" stroke="#262626" stroke-width="0.8"/>
<line x1="56" y1="284.1" x2="52.5" y2="284.1" stroke="#262626" stroke-width="0.8"/>
<line x1="56" y1="332.4" x2="160.7" y2="353.2" stroke="#262626" stroke-width="0.8"/>
<line x1="160.7" y1="353.2" x2="297" y2="337.5" stroke="#262626" stroke-width="0.8"/>
<line x1="160.7" y1="353.2" x2="163.6" y2="353.8" stroke="#262626" stroke-width="0.8"/>
<line x1="228.8" y1="345.4" x2="231.8" y2="346" stroke="#262626" stroke-width="0.8"/>
<line x1="297" y1="337.5" x2="299.9" y2="338.1" stroke="#262626" stroke-width="0.8"/>
<line x1="160.7" y1="353.2" x2="157.7" y2="353.6" stroke="#262626" stroke-width="0.8"/>
<line x1="108.3" y1="342.8" x2="105.4" y2="343.2" stroke="#262626" stroke-width="0.8"/>
<line x1="56" y1="332.4" x2="53" y2="332.7" stroke="#262626" stroke-width="0.8"/>
<line x1="526.2" y1="353.2" x2="421.5" y2="332.4" stroke="#dcdcdc" stroke-width="0.7"/>
<line x1="421.5" y1="332.4" x2="421.5" y2="284.1" stroke="#dcdcdc" stroke-width="0.7"/>
<line x1="594.4" y1="345.4" x2="489.7" y2="324.5" stroke="#dcdcdc" stroke-width="0.7"/>
<line x1="489.7" y1="324.5" x2="489.7" y2="276.2" stroke="#dcdcdc" stroke-width="0.7"/>
<line x1="662.5" y1="337.5" x2="557.8" y2="316.6" stroke="#dcdcdc" stroke-width="0.7"/>
<line x1="557.8" y1="316.6" x2="557.8" y2="268.3" stroke="#dcdcdc" stroke-width="0.7"/>
<line x1="526.2" y1="353.2" x2="662.5" y2="337.5" stroke="#dcdcdc" stroke-width="0.7"/>
<line x1="662.5" y1="337.5" x2="662.5" y2="289.2" stroke="#dcdcdc" stroke-width="0.7"/>
<line x1="473.9" y1="342.8" x2="610.1" y2="327.1" stroke="#dcdcdc" stroke-width="0.7"/>
<line x1="610.1" y1="327.1" x2="610.1" y2="278.8" stroke="#dcdcdc" stroke-width="0.7"/>
<line x1="421.5" y1="332.4" x2="557.8" y2="316.6" stroke="#dcdcdc" stroke-width="0.7"/>
<line x1="557.8" y1="316.6" x2="557.8" y2="268.3" stroke="#dcdcdc" stroke-width="0.7"/>
<line x1="421.5" y1="332.4" x2="557.8" y2="316.6" stroke="#dcdcdc" stroke-width="0.7"/>
<line x1="557.8" y1="316.6" x2="662.5" y2="337.5" stroke="#dcdcdc" stroke-width="0.7"/>
<line x1="421.5" y1="316.3" x2="557.8" y2="300.5" stroke="#dcdcdc" stroke-width="0.7"/>
<line x1="557.8" y1="300.5" x2="662.5" y2="321.4" stroke="#dcdcdc" stroke-width="0.7"/>
<line x1="421.5" y1="300.2" x2="557.8" y2="284.4" stroke="#dcdcdc" stroke-width="0.7"/>
<line x1="557.8" y1="284.4" x2="662.5" y2="305.3" stroke="#dcdcdc" stroke-width="0.7"/>
<line x1="421.5" y1="284.1" x2="557.8" y2="268.3" stroke="#dcdcdc" stroke-width="0.7"/>
<line x1="557.8" y1="268.3" x2="662.5" y2="289.2" stroke="#dcdcdc" stroke-width="0.7"/>
<g stroke="#000" stroke-width="0.45" stroke-linejoin="round">
<path fill="#2aa0ee" stroke-width="0.45" d="M555.3 309.4 563.2 305.9 557.8 306.7 550 310.2ZM547.5 313 555.3 309.4 550 310.2 542.2 313.8ZM560.7 308.6 568.6 305 563.2 305.9 555.3 309.4ZM539.6 316.6 547.5 313 542.2 313.8 534.4 317.4ZM552.7 312.2 560.7 308.6 555.3 309.4 547.5 313ZM566 307.8 574 304.2 568.6 305 560.7 308.6ZM531.7 320.2 539.6 316.6 534.4 317.4 526.6 320.2ZM544.8 315.8 552.7 312.2 547.5 313 539.6 316.6ZM558 311.4 566 307.8 560.7 308.6 552.7 312.2ZM571.3 307 579.4 303.4 574 304.2 566 307.8Z"/>
<path fill="#1cc0c4" stroke-width="0.32" d="M523.9 322.2 531.7 320.2 526.6 320.2 518.9 321.1Z"/>
<path fill="#2aa0ee" stroke-width="0.45" d="M536.8 319.4 544.8 315.8 539.6 316.6 531.7 320.2ZM550 315 558 311.4 552.7 312.2 544.8 315.8ZM563.2 310.6 571.3 307 566 307.8 558 311.4ZM576.6 306.2 584.8 302.6 579.4 303.4 571.3 307Z"/>
<path fill="#1cc0c4" stroke-width="0.32" d="M516 323 523.9 322.2 518.9 321.1 511.1 322ZM528.9 323 536.8 319.4 531.7 320.2 523.9 322.2Z"/>
<path fill="#2aa0ee" stroke-width="0.45" d="M542 318.6 550 315 544.8 315.8 536.8 319.4ZM555.1 314.2 563.2 310.6 558 311.4 550 315ZM568.5 309.8 576.6 306.2 571.3 307 563.2 310.6ZM582 305.4 590.2 301.8 584.8 302.6 576.6 306.2Z"/>
<path fill="#1cc0c4" stroke-width="0.32" d="M508.2 323.9 516 323 511.1 322 503.3 322.9ZM521 324 528.9 323 523.9 322.2 516 323Z"/>
<path fill="#2aa0ee" stroke-width="0.45" d="M533.9 322.2 542 318.6 536.8 319.4 528.9 323ZM547.1 317.8 555.1 314.2 550 315 542 318.6ZM560.3 313.5 568.5 309.8 563.2 310.6 555.1 314.2ZM573.7 309 582 305.4 576.6 306.2 568.5 309.8Z"/>
<path fill="#1cc0c4" stroke-width="0.32" d="M500.3 324.8 508.2 323.9 503.3 322.9 495.5 323.8ZM513 324.9 521 324 516 323 508.2 323.9Z"/>
<path fill="#2aa0ee" stroke-width="0.45" d="M587.3 304.6 595.6 300.9 590.2 301.8 582 305.4Z"/>
<path fill="#1cc0c4" stroke-width="0.32" d="M525.9 325 533.9 322.2 528.9 323 521 324Z"/>
<path fill="#2aa0ee" stroke-width="0.45" d="M539 321.5 547.1 317.8 542 318.6 533.9 322.2ZM552.2 317.1 560.3 313.5 555.1 314.2 547.1 317.8ZM565.5 312.7 573.7 309 568.5 309.8 560.3 313.5Z"/>
<path fill="#1cc0c4" stroke-width="0.32" d="M492.4 325.7 500.3 324.8 495.5 323.8 487.7 324.8Z"/>
<path fill="#2aa0ee" stroke-width="0.45" d="M579 308.2 587.3 304.6 582 305.4 573.7 309Z"/>
<path fill="#1cc0c4" stroke-width="0.32" d="M505.1 325.8 513 324.9 508.2 323.9 500.3 324.8ZM517.9 325.9 525.9 325 521 324 513 324.9Z"/>
<path fill="#2aa0ee" stroke-width="0.45" d="M530.9 325.1 539 321.5 533.9 322.2 525.9 325ZM592.6 303.8 601 300.1 595.6 300.9 587.3 304.6ZM544 320.7 552.2 317.1 547.1 317.8 539 321.5ZM557.3 316.3 565.5 312.7 560.3 313.5 552.2 317.1ZM570.7 311.9 579 308.2 573.7 309 565.5 312.7Z"/>
<path fill="#1cc0c4" stroke-width="0.32" d="M484.6 326.6 492.4 325.7 487.7 324.8 479.9 325.6ZM497.2 326.6 505.1 325.8 500.3 324.8 492.4 325.7ZM509.9 326.7 517.9 325.9 513 324.9 505.1 325.8Z"/>
<path fill="#2aa0ee" stroke-width="0.45" d="M584.2 307.4 592.6 303.8 587.3 304.6 579 308.2Z"/>
<path fill="#1cc0c4" stroke-width="0.32" d="M522.8 326.8 530.9 325.1 525.9 325 517.9 325.9Z"/>
<path fill="#2aa0ee" stroke-width="0.45" d="M535.8 324.3 544 320.7 539 321.5 530.9 325.1ZM597.9 303 606.4 299.3 601 300.1 592.6 303.8ZM549 319.9 557.3 316.3 552.2 317.1 544 320.7ZM562.4 315.5 570.7 311.9 565.5 312.7 557.3 316.3Z"/>
<path fill="#1cc0c4" stroke-width="0.32" d="M476.7 327.5 484.6 326.6 479.9 325.6 472.1 326.5ZM489.2 327.5 497.2 326.6 492.4 325.7 484.6 326.6ZM501.9 327.6 509.9 326.7 505.1 325.8 497.2 326.6Z"/>
<path fill="#2aa0ee" stroke-width="0.45" d="M575.8 311.1 584.2 307.4 579 308.2 570.7 311.9Z"/>
<path fill="#1cc0c4" stroke-width="0.32" d="M514.7 327.7 522.8 326.8 517.9 325.9 509.9 326.7ZM527.7 327.8 535.8 324.3 530.9 325.1 522.8 326.8Z"/>
<path fill="#2aa0ee" stroke-width="0.45" d="M589.5 306.6 597.9 303 592.6 303.8 584.2 307.4ZM540.8 323.6 549 319.9 544 320.7 535.8 324.3ZM603.3 302.2 611.8 298.5 606.4 299.3 597.9 303ZM554.1 319.2 562.4 315.5 557.3 316.3 549 319.9Z"/>
<path fill="#1cc0c4" stroke-width="0.32" d="M468.8 328.3 476.7 327.5 472.1 326.5 464.3 327.4Z"/>
<path fill="#2aa0ee" stroke-width="0.45" d="M567.5 314.8 575.8 311.1 570.7 311.9 562.4 315.5Z"/>
<path fill="#1cc0c4" stroke-width="0.32" d="M481.3 328.4 489.2 327.5 484.6 326.6 476.7 327.5ZM493.9 328.4 501.9 327.6 497.2 326.6 489.2 327.5ZM506.6 328.5 514.7 327.7 509.9 326.7 501.9 327.6Z"/>
<path fill="#2aa0ee" stroke-width="0.45" d="M581 310.3 589.5 306.6 584.2 307.4 575.8 311.1Z"/>
<path fill="#1cc0c4" stroke-width="0.32" d="M519.5 328.6 527.7 327.8 522.8 326.8 514.7 327.7Z"/>
<path fill="#2aa0ee" stroke-width="0.45" d="M532.6 327.2 540.8 323.6 535.8 324.3 527.7 327.8ZM594.7 305.9 603.3 302.2 597.9 303 589.5 306.6ZM545.7 322.8 554.1 319.2 549 319.9 540.8 323.6ZM559.1 318.4 567.5 314.8 562.4 315.5 554.1 319.2ZM608.6 301.4 617.2 297.7 611.8 298.5 603.3 302.2Z"/>
<path fill="#1cc0c4" stroke-width="0.32" d="M461 329.2 468.8 328.3 464.3 327.4 456.5 328.3ZM473.4 329.2 481.3 328.4 476.7 327.5 468.8 328.3ZM485.9 329.3 493.9 328.4 489.2 327.5 481.3 328.4ZM498.5 329.4 506.6 328.5 501.9 327.6 493.9 328.4Z"/>
<path fill="#2aa0ee" stroke-width="0.45" d="M572.6 314 581 310.3 575.8 311.1 567.5 314.8Z"/>
<path fill="#1cc0c4" stroke-width="0.32" d="M511.4 329.5 519.5 328.6 514.7 327.7 506.6 328.5ZM524.3 329.6 532.6 327.2 527.7 327.8 519.5 328.6Z"/>
<path fill="#2aa0ee" stroke-width="0.45" d="M586.2 309.5 594.7 305.9 589.5 306.6 581 310.3ZM537.4 326.5 545.7 322.8 540.8 323.6 532.6 327.2ZM550.7 322.1 559.1 318.4 554.1 319.2 545.7 322.8ZM600 305.1 608.6 301.4 603.3 302.2 594.7 305.9Z"/>
<path fill="#1cc0c4" stroke-width="0.32" d="M465.4 330.1 473.4 329.2 468.8 328.3 461 329.2ZM453.1 330.1 461 329.2 456.5 328.3 448.8 329.2ZM477.9 330.1 485.9 329.3 481.3 328.4 473.4 329.2Z"/>
<path fill="#2aa0ee" stroke-width="0.45" d="M564.1 317.7 572.6 314 567.5 314.8 559.1 318.4Z"/>
<path fill="#1cc0c4" stroke-width="0.32" d="M490.5 330.2 498.5 329.4 493.9 328.4 485.9 329.3Z"/>
<path fill="#2aa0ee" stroke-width="0.45" d="M613.9 300.6 622.6 296.9 617.2 297.7 608.6 301.4Z"/>
<path fill="#1cc0c4" stroke-width="0.32" d="M503.2 330.3 511.4 329.5 506.6 328.5 498.5 329.4Z"/>
<path fill="#2aa0ee" stroke-width="0.45" d="M577.7 313.2 586.2 309.5 581 310.3 572.6 314Z"/>
<path fill="#1cc0c4" stroke-width="0.32" d="M516.1 330.4 524.3 329.6 519.5 328.6 511.4 329.5Z"/>
<path fill="#2aa0ee" stroke-width="0.45" d="M529.1 330.1 537.4 326.5 532.6 327.2 524.3 329.6ZM591.4 308.7 600 305.1 594.7 305.9 586.2 309.5ZM542.3 325.7 550.7 322.1 545.7 322.8 537.4 326.5ZM555.7 321.3 564.1 317.7 559.1 318.4 550.7 322.1ZM605.2 304.3 613.9 300.6 608.6 301.4 600 305.1Z"/>
<path fill="#1cc0c4" stroke-width="0.32" d="M457.5 331 465.4 330.1 461 329.2 453.1 330.1ZM469.9 331 477.9 330.1 473.4 329.2 465.4 330.1ZM482.4 331 490.5 330.2 485.9 329.3 477.9 330.1ZM495 331.1 503.2 330.3 498.5 329.4 490.5 330.2Z"/>
<path fill="#2aa0ee" stroke-width="0.45" d="M569.1 316.9 577.7 313.2 572.6 314 564.1 317.7Z"/>
<path fill="#1cc0c4" stroke-width="0.32" d="M507.9 331.2 516.1 330.4 511.4 329.5 503.2 330.3Z"/>
<path fill="#2aa0ee" stroke-width="0.45" d="M619.2 299.8 628 296 622.6 296.9 613.9 300.6Z"/>
<path fill="#1cc0c4" stroke-width="0.32" d="M520.8 331.3 529.1 330.1 524.3 329.6 516.1 330.4Z"/>
<path fill="#2aa0ee" stroke-width="0.45" d="M582.8 312.4 591.4 308.7 586.2 309.5 577.7 313.2ZM533.9 329.4 542.3 325.7 537.4 326.5 529.1 330.1ZM547.2 325 555.7 321.3 550.7 322.1 542.3 325.7ZM596.5 308 605.2 304.3 600 305.1 591.4 308.7Z"/>
<path fill="#1cc0c4" stroke-width="0.32" d="M461.8 331.9 469.9 331 465.4 330.1 457.5 331ZM474.3 331.9 482.4 331 477.9 330.1 469.9 331Z"/>
<path fill="#2aa0ee" stroke-width="0.45" d="M560.6 320.6 569.1 316.9 564.1 317.7 555.7 321.3Z"/>
<path fill="#1cc0c4" stroke-width="0.32" d="M486.9 331.9 495 331.1 490.5 330.2 482.4 331Z"/>
<path fill="#2aa0ee" stroke-width="0.45" d="M610.5 303.5 619.2 299.8 613.9 300.6 605.2 304.3Z"/>
<path fill="#1cc0c4" stroke-width="0.32" d="M499.6 332 507.9 331.2 503.2 330.3 495 331.1ZM512.5 332.1 520.8 331.3 516.1 330.4 507.9 331.2Z"/>
<path fill="#2aa0ee" stroke-width="0.45" d="M574.2 316.1 582.8 312.4 577.7 313.2 569.1 316.9Z"/>
<path fill="#1cc0c4" stroke-width="0.32" d="M525.6 332.3 533.9 329.4 529.1 330.1 520.8 331.3Z"/>
<path fill="#2aa0ee" stroke-width="0.45" d="M624.5 298.9 633.4 295.2 628 296 619.2 299.8ZM587.9 311.7 596.5 308 591.4 308.7 582.8 312.4ZM538.7 328.7 547.2 325 542.3 325.7 533.9 329.4ZM552.1 324.3 560.6 320.6 555.7 321.3 547.2 325Z"/>
<path fill="#1cc0c4" stroke-width="0.32" d="M466.2 332.7 474.3 331.9 469.9 331 461.8 331.9Z"/>
<path fill="#2aa0ee" stroke-width="0.45" d="M601.7 307.2 610.5 303.5 605.2 304.3 596.5 308Z"/>
<path fill="#1cc0c4" stroke-width="0.32" d="M478.7 332.8 486.9 331.9 482.4 331 474.3 331.9ZM491.4 332.8 499.6 332 495 331.1 486.9 331.9Z"/>
<path fill="#2aa0ee" stroke-width="0.45" d="M565.6 319.8 574.2 316.1 569.1 316.9 560.6 320.6Z"/>
<path fill="#1cc0c4" stroke-width="0.32" d="M504.2 332.9 512.5 332.1 507.9 331.2 499.6 332ZM517.2 333.1 525.6 332.3 520.8 331.3 512.5 332.1Z"/>
<path fill="#2aa0ee" stroke-width="0.45" d="M615.7 302.7 624.5 298.9 619.2 299.8 610.5 303.5ZM579.2 315.4 587.9 311.7 582.8 312.4 574.2 316.1ZM530.3 332.3 538.7 328.7 533.9 329.4 525.6 332.3ZM543.6 327.9 552.1 324.3 547.2 325 538.7 328.7ZM629.9 298.1 638.8 294.4 633.4 295.2 624.5 298.9ZM593 310.9 601.7 307.2 596.5 308 587.9 311.7Z"/>
<path fill="#1cc0c4" stroke-width="0.32" d="M470.6 333.6 478.7 332.8 474.3 331.9 466.2 332.7Z"/>
<path fill="#2aa0ee" stroke-width="0.45" d="M557 323.5 565.6 319.8 560.6 320.6 552.1 324.3Z"/>
<path fill="#1cc0c4" stroke-width="0.32" d="M483.2 333.7 491.4 332.8 486.9 331.9 478.7 332.8ZM495.9 333.7 504.2 332.9 499.6 332 491.4 332.8Z"/>
<path fill="#2aa0ee" stroke-width="0.45" d="M606.9 306.4 615.7 302.7 610.5 303.5 601.7 307.2Z"/>
<path fill="#1cc0c4" stroke-width="0.32" d="M508.8 333.9 517.2 333.1 512.5 332.1 504.2 332.9Z"/>
<path fill="#2aa0ee" stroke-width="0.45" d="M570.5 319.1 579.2 315.4 574.2 316.1 565.6 319.8Z"/>
<path fill="#1cc0c4" stroke-width="0.32" d="M521.8 334 530.3 332.3 525.6 332.3 517.2 333.1Z"/>
<path fill="#2aa0ee" stroke-width="0.45" d="M621 301.9 629.9 298.1 624.5 298.9 615.7 302.7ZM584.2 314.6 593 310.9 587.9 311.7 579.2 315.4ZM535 331.6 543.6 327.9 538.7 328.7 530.3 332.3ZM548.4 327.2 557 323.5 552.1 324.3 543.6 327.9ZM598.1 310.1 606.9 306.4 601.7 307.2 593 310.9Z"/>
<path fill="#1cc0c4" stroke-width="0.32" d="M474.9 334.5 483.2 333.7 478.7 332.8 470.6 333.6Z"/>
<path fill="#2aa0ee" stroke-width="0.45" d="M635.2 297.3 644.2 293.6 638.8 294.4 629.9 298.1Z"/>
<path fill="#1cc0c4" stroke-width="0.32" d="M487.6 334.5 495.9 333.7 491.4 332.8 483.2 333.7Z"/>
<path fill="#2aa0ee" stroke-width="0.45" d="M561.8 322.8 570.5 319.1 565.6 319.8 557 323.5Z"/>
<path fill="#1cc0c4" stroke-width="0.32" d="M500.4 334.6 508.8 333.9 504.2 332.9 495.9 333.7ZM513.4 334.8 521.8 334 517.2 333.1 508.8 333.9Z"/>
<path fill="#2aa0ee" stroke-width="0.45" d="M612.1 305.6 621 301.9 615.7 302.7 606.9 306.4ZM575.5 318.3 584.2 314.6 579.2 315.4 570.5 319.1Z"/>
<path fill="#1cc0c4" stroke-width="0.32" d="M526.5 334.9 535 331.6 530.3 332.3 521.8 334Z"/>
<path fill="#2aa0ee" stroke-width="0.45" d="M539.8 330.9 548.4 327.2 543.6 327.9 535 331.6ZM589.3 313.8 598.1 310.1 593 310.9 584.2 314.6ZM626.2 301.1 635.2 297.3 629.9 298.1 621 301.9ZM553.2 326.5 561.8 322.8 557 323.5 548.4 327.2Z"/>
<path fill="#1cc0c4" stroke-width="0.32" d="M479.3 335.3 487.6 334.5 483.2 333.7 474.9 334.5ZM492 335.4 500.4 334.6 495.9 333.7 487.6 334.5Z"/>
<path fill="#2aa0ee" stroke-width="0.45" d="M603.2 309.3 612.1 305.6 606.9 306.4 598.1 310.1Z"/>
<path fill="#1cc0c4" stroke-width="0.32" d="M504.9 335.5 513.4 334.8 508.8 333.9 500.4 334.6Z"/>
<path fill="#2aa0ee" stroke-width="0.45" d="M640.5 296.5 649.6 292.8 644.2 293.6 635.2 297.3ZM566.7 322 575.5 318.3 570.5 319.1 561.8 322.8Z"/>
<path fill="#1cc0c4" stroke-width="0.32" d="M518 335.7 526.5 334.9 521.8 334 513.4 334.8Z"/>
<path fill="#2aa0ee" stroke-width="0.45" d="M617.3 304.8 626.2 301.1 621 301.9 612.1 305.6ZM531.2 334.6 539.8 330.9 535 331.6 526.5 334.9ZM580.4 317.6 589.3 313.8 584.2 314.6 575.5 318.3ZM544.5 330.2 553.2 326.5 548.4 327.2 539.8 330.9ZM594.3 313.1 603.2 309.3 598.1 310.1 589.3 313.8Z"/>
<path fill="#1cc0c4" stroke-width="0.32" d="M483.7 336.2 492 335.4 487.6 334.5 479.3 335.3Z"/>
<path fill="#2aa0ee" stroke-width="0.45" d="M631.5 300.3 640.5 296.5 635.2 297.3 626.2 301.1ZM558 325.7 566.7 322 561.8 322.8 553.2 326.5Z"/>
<path fill="#1cc0c4" stroke-width="0.32" d="M496.5 336.3 504.9 335.5 500.4 334.6 492 335.4ZM509.4 336.4 518 335.7 513.4 334.8 504.9 335.5Z"/>
<path fill="#2aa0ee" stroke-width="0.45" d="M608.3 308.6 617.3 304.8 612.1 305.6 603.2 309.3ZM571.6 321.3 580.4 317.6 575.5 318.3 566.7 322Z"/>
<path fill="#1cc0c4" stroke-width="0.32" d="M522.6 336.6 531.2 334.6 526.5 334.9 518 335.7Z"/>
<path fill="#2aa0ee" stroke-width="0.45" d="M645.8 295.7 655 292 649.6 292.8 640.5 296.5ZM535.8 333.9 544.5 330.2 539.8 330.9 531.2 334.6ZM585.4 316.8 594.3 313.1 589.3 313.8 580.4 317.6ZM622.4 304 631.5 300.3 626.2 301.1 617.3 304.8ZM549.2 329.5 558 325.7 553.2 326.5 544.5 330.2Z"/>
<path fill="#1cc0c4" stroke-width="0.32" d="M488 337.1 496.5 336.3 492 335.4 483.7 336.2Z"/>
<path fill="#2aa0ee" stroke-width="0.45" d="M599.3 312.3 608.3 308.6 603.2 309.3 594.3 313.1Z"/>
<path fill="#1cc0c4" stroke-width="0.32" d="M500.9 337.2 509.4 336.4 504.9 335.5 496.5 336.3Z"/>
<path fill="#2aa0ee" stroke-width="0.45" d="M562.8 325 571.6 321.3 566.7 322 558 325.7ZM636.7 299.5 645.8 295.7 640.5 296.5 631.5 300.3Z"/>
<path fill="#1cc0c4" stroke-width="0.32" d="M514 337.3 522.6 336.6 518 335.7 509.4 336.4ZM527.1 337.5 535.8 333.9 531.2 334.6 522.6 336.6Z"/>
<path fill="#2aa0ee" stroke-width="0.45" d="M613.4 307.8 622.4 304 617.3 304.8 608.3 308.6ZM576.5 320.6 585.4 316.8 580.4 317.6 571.6 321.3ZM540.5 333.2 549.2 329.5 544.5 330.2 535.8 333.9ZM590.3 316.1 599.3 312.3 594.3 313.1 585.4 316.8ZM627.6 303.3 636.7 299.5 631.5 300.3 622.4 304ZM554 328.7 562.8 325 558 325.7 549.2 329.5Z"/>
<path fill="#1cc0c4" stroke-width="0.32" d="M492.4 337.9 500.9 337.2 496.5 336.3 488 337.1ZM505.3 338.1 514 337.3 509.4 336.4 500.9 337.2Z"/>
<path fill="#2aa0ee" stroke-width="0.45" d="M604.3 311.6 613.4 307.8 608.3 308.6 599.3 312.3ZM567.6 324.3 576.5 320.6 571.6 321.3 562.8 325Z"/>
<path fill="#1cc0c4" stroke-width="0.32" d="M518.5 338.2 527.1 337.5 522.6 336.6 514 337.3Z"/>
<path fill="#2aa0ee" stroke-width="0.45" d="M531.7 336.9 540.5 333.2 535.8 333.9 527.1 337.5ZM581.4 319.8 590.3 316.1 585.4 316.8 576.5 320.6ZM618.5 307 627.6 303.3 622.4 304 613.4 307.8ZM545.1 332.5 554 328.7 549.2 329.5 540.5 333.2Z"/>
<path fill="#1cc0c4" stroke-width="0.32" d="M496.7 338.8 505.3 338.1 500.9 337.2 492.4 337.9Z"/>
<path fill="#2aa0ee" stroke-width="0.45" d="M595.3 315.3 604.3 311.6 599.3 312.3 590.3 316.1ZM558.7 328 567.6 324.3 562.8 325 554 328.7Z"/>
<path fill="#1cc0c4" stroke-width="0.32" d="M509.8 339 518.5 338.2 514 337.3 505.3 338.1ZM523 339.1 531.7 336.9 527.1 337.5 518.5 338.2Z"/>
<path fill="#2aa0ee" stroke-width="0.45" d="M572.4 323.6 581.4 319.8 576.5 320.6 567.6 324.3ZM609.4 310.8 618.5 307 613.4 307.8 604.3 311.6ZM536.3 336.2 545.1 332.5 540.5 333.2 531.7 336.9ZM586.2 319.1 595.3 315.3 590.3 316.1 581.4 319.8ZM549.8 331.8 558.7 328 554 328.7 545.1 332.5Z"/>
<path fill="#1cc0c4" stroke-width="0.32" d="M501.1 339.7 509.8 339 505.3 338.1 496.7 338.8Z"/>
<path fill="#2aa0ee" stroke-width="0.45" d="M600.2 314.6 609.4 310.8 604.3 311.6 595.3 315.3ZM563.4 327.3 572.4 323.6 567.6 324.3 558.7 328Z"/>
<path fill="#1cc0c4" stroke-width="0.32" d="M514.2 339.8 523 339.1 518.5 338.2 509.8 339ZM527.5 339.9 536.3 336.2 531.7 336.9 523 339.1Z"/>
<path fill="#2aa0ee" stroke-width="0.45" d="M577.2 322.8 586.2 319.1 581.4 319.8 572.4 323.6ZM540.9 335.5 549.8 331.8 545.1 332.5 536.3 336.2ZM591.1 318.3 600.2 314.6 595.3 315.3 586.2 319.1ZM554.4 331.1 563.4 327.3 558.7 328 549.8 331.8Z"/>
<path fill="#1cc0c4" stroke-width="0.32" d="M505.5 340.5 514.2 339.8 509.8 339 501.1 339.7ZM518.7 340.7 527.5 339.9 523 339.1 514.2 339.8Z"/>
<path fill="#2aa0ee" stroke-width="0.45" d="M568.2 326.6 577.2 322.8 572.4 323.6 563.4 327.3ZM532 339.2 540.9 335.5 536.3 336.2 527.5 339.9ZM582 322.1 591.1 318.3 586.2 319.1 577.2 322.8ZM545.5 334.8 554.4 331.1 549.8 331.8 540.9 335.5Z"/>
<path fill="#1cc0c4" stroke-width="0.32" d="M509.8 341.4 518.7 340.7 514.2 339.8 505.5 340.5Z"/>
<path fill="#2aa0ee" stroke-width="0.45" d="M559.1 330.4 568.2 326.6 563.4 327.3 554.4 331.1Z"/>
<path fill="#1cc0c4" stroke-width="0.32" d="M523.1 341.6 532 339.2 527.5 339.9 518.7 340.7Z"/>
<path fill="#2aa0ee" stroke-width="0.45" d="M572.9 325.9 582 322.1 577.2 322.8 568.2 326.6ZM536.5 338.6 545.5 334.8 540.9 335.5 532 339.2ZM550.1 334.1 559.1 330.4 554.4 331.1 545.5 334.8Z"/>
<path fill="#1cc0c4" stroke-width="0.32" d="M514.2 342.3 523.1 341.6 518.7 340.7 509.8 341.4Z"/>
<path fill="#2aa0ee" stroke-width="0.45" d="M563.8 329.6 572.9 325.9 568.2 326.6 559.1 330.4Z"/>
<path fill="#1cc0c4" stroke-width="0.32" d="M527.5 342.3 536.5 338.6 532 339.2 523.1 341.6Z"/>
<path fill="#2aa0ee" stroke-width="0.45" d="M541 337.9 550.1 334.1 545.5 334.8 536.5 338.6ZM554.6 333.4 563.8 329.6 559.1 330.4 550.1 334.1Z"/>
<path fill="#1cc0c4" stroke-width="0.32" d="M518.6 343.2 527.5 342.3 523.1 341.6 514.2 342.3Z"/>
<path fill="#2aa0ee" stroke-width="0.45" d="M532 341.6 541 337.9 536.5 338.6 527.5 342.3ZM545.5 337.2 554.6 333.4 550.1 334.1 541 337.9Z"/>
<path fill="#1cc0c4" stroke-width="0.32" d="M522.9 344 532 341.6 527.5 342.3 518.6 343.2Z"/>
<path fill="#2aa0ee" stroke-width="0.45" d="M536.4 341 545.5 337.2 541 337.9 532 341.6Z"/>
<path fill="#1cc0c4" stroke-width="0.32" d="M527.3 344.7 536.4 341 532 341.6 522.9 344Z"/>
</g>
<line x1="421.5" y1="332.4" x2="421.5" y2="284.1" stroke="#262626" stroke-width="0.8"/>
<line x1="421.5" y1="332.4" x2="418" y2="332.4" stroke="#262626" stroke-width="0.8"/>
<line x1="421.5" y1="316.3" x2="418" y2="316.3" stroke="#262626" stroke-width="0.8"/>
<line x1="421.5" y1="300.2" x2="418" y2="300.2" stroke="#262626" stroke-width="0.8"/>
<line x1="421.5" y1="284.1" x2="418" y2="284.1" stroke="#262626" stroke-width="0.8"/>
<line x1="421.5" y1="332.4" x2="526.2" y2="353.2" stroke="#262626" stroke-width="0.8"/>
<line x1="526.2" y1="353.2" x2="662.5" y2="337.5" stroke="#262626" stroke-width="0.8"/>
<line x1="526.2" y1="353.2" x2="529.1" y2="353.8" stroke="#262626" stroke-width="0.8"/>
<line x1="594.4" y1="345.4" x2="597.3" y2="346" stroke="#262626" stroke-width="0.8"/>
<line x1="662.5" y1="337.5" x2="665.4" y2="338.1" stroke="#262626" stroke-width="0.8"/>
<line x1="526.2" y1="353.2" x2="523.2" y2="353.6" stroke="#262626" stroke-width="0.8"/>
<line x1="473.9" y1="342.8" x2="470.9" y2="343.2" stroke="#262626" stroke-width="0.8"/>
<line x1="421.5" y1="332.4" x2="418.5" y2="332.7" stroke="#262626" stroke-width="0.8"/>
<line x1="220.2" y1="483.7" x2="55.5" y2="469" stroke="#dcdcdc" stroke-width="0.7"/>
<line x1="55.5" y1="469" x2="55.5" y2="429.5" stroke="#dcdcdc" stroke-width="0.7"/>
<line x1="296.5" y1="451.2" x2="131.8" y2="436.5" stroke="#dcdcdc" stroke-width="0.7"/>
<line x1="131.8" y1="436.5" x2="131.8" y2="397" stroke="#dcdcdc" stroke-width="0.7"/>
<line x1="220.2" y1="483.7" x2="296.5" y2="451.2" stroke="#dcdcdc" stroke-width="0.7"/>
<line x1="296.5" y1="451.2" x2="296.5" y2="411.7" stroke="#dcdcdc" stroke-width="0.7"/>
<line x1="137.8" y1="476.3" x2="214.2" y2="443.8" stroke="#dcdcdc" stroke-width="0.7"/>
<line x1="214.2" y1="443.8" x2="214.2" y2="404.3" stroke="#dcdcdc" stroke-width="0.7"/>
<line x1="55.5" y1="469" x2="131.8" y2="436.5" stroke="#dcdcdc" stroke-width="0.7"/>
<line x1="131.8" y1="436.5" x2="131.8" y2="397" stroke="#dcdcdc" stroke-width="0.7"/>
<line x1="55.5" y1="469" x2="131.8" y2="436.5" stroke="#dcdcdc" stroke-width="0.7"/>
<line x1="131.8" y1="436.5" x2="296.5" y2="451.2" stroke="#dcdcdc" stroke-width="0.7"/>
<line x1="55.5" y1="449.2" x2="131.8" y2="416.8" stroke="#dcdcdc" stroke-width="0.7"/>
<line x1="131.8" y1="416.8" x2="296.5" y2="431.4" stroke="#dcdcdc" stroke-width="0.7"/>
<line x1="55.5" y1="429.5" x2="131.8" y2="397" stroke="#dcdcdc" stroke-width="0.7"/>
<line x1="131.8" y1="397" x2="296.5" y2="411.7" stroke="#dcdcdc" stroke-width="0.7"/>
<g stroke="#000" stroke-width="0.45" stroke-linejoin="round">
<path fill="#1bbfc4" d="M143.2 440.1 148.3 438 131.8 436.5 126.7 438.7ZM159.7 441.6 164.7 439.4 148.3 438 143.2 440.1ZM138.1 442.3 143.2 440.1 126.7 438.7 121.6 440.8ZM176.1 443.1 181.2 440.9 164.7 439.4 159.7 441.6ZM154.6 443.8 159.7 441.6 143.2 440.1 138.1 442.3ZM133 444.5 138.1 442.3 121.6 440.8 116.5 443ZM192.6 444.5 197.7 442.4 181.2 440.9 176.1 443.1ZM171 445.2 176.1 443.1 159.7 441.6 154.6 443.8ZM149.5 445.9 154.6 443.8 138.1 442.3 133 444.5ZM209.1 446 214.2 443.8 197.7 442.4 192.6 444.5ZM127.9 446.6 133 444.5 116.5 443 111.5 445.2ZM187.5 446.7 192.6 444.5 176.1 443.1 171 445.2ZM165.9 447.4 171 445.2 154.6 443.8 149.5 445.9ZM225.5 447.5 230.6 445.3 214.2 443.8 209.1 446ZM144.4 448.1 149.5 445.9 133 444.5 127.9 446.6ZM204 448.2 209.1 446 192.6 444.5 187.5 446.7ZM122.8 448.8 127.9 446.6 111.5 445.2 106.4 447.3ZM182.4 448.9 187.5 446.7 171 445.2 165.9 447.4ZM242 449 247.1 446.8 230.6 445.3 225.5 447.5ZM160.9 449.6 165.9 447.4 149.5 445.9 144.4 448.1ZM220.4 449.7 225.5 447.5 209.1 446 204 448.2ZM139.3 450.3 144.4 448.1 127.9 446.6 122.8 448.8ZM198.9 450.3 204 448.2 187.5 446.7 182.4 448.9Z"/>
<path fill="#2a9ae6" d="M258.5 450.4 263.6 448.3 247.1 446.8 242 449Z"/>
<path fill="#1bbfc4" d="M117.8 451 122.8 448.8 106.4 447.3 101.3 449.5ZM177.3 451 182.4 448.9 165.9 447.4 160.9 449.6ZM236.9 451.1 242 449 225.5 447.5 220.4 449.7ZM155.8 451.7 160.9 449.6 144.4 448.1 139.3 450.3ZM215.4 451.8 220.4 449.7 204 448.2 198.9 450.3Z"/>
<path fill="#2a9ae6" d="M274.9 444.1 280 440.6 263.6 448.3 258.5 450.4Z"/>
<path fill="#1bbfc4" d="M134.2 452.4 139.3 450.3 122.8 448.8 117.8 451ZM193.8 452.5 198.9 450.3 182.4 448.9 177.3 451Z"/>
<path fill="#2a9ae6" d="M253.4 452.6 258.5 450.4 242 449 236.9 451.1ZM282.4 413.8 287.4 410.9 280 440.6 274.9 444.1Z"/>
<path fill="#1bbfc4" d="M112.7 453.1 117.8 451 101.3 449.5 96.2 451.7ZM172.2 453.2 177.3 451 160.9 449.6 155.8 451.7ZM231.8 453.3 236.9 451.1 220.4 449.7 215.4 451.8ZM150.7 453.9 155.8 451.7 139.3 450.3 134.2 452.4ZM210.3 454 215.4 451.8 198.9 450.3 193.8 452.5Z"/>
<path fill="#2a9ae6" d="M269.9 447.7 274.9 444.1 258.5 450.4 253.4 452.6Z"/>
<path fill="#1bbfc4" d="M129.1 454.6 134.2 452.4 117.8 451 112.7 453.1ZM188.7 454.7 193.8 452.5 177.3 451 172.2 453.2Z"/>
<path fill="#2a9ae6" d="M248.3 454.8 253.4 452.6 236.9 451.1 231.8 453.3ZM277.3 418 282.4 413.8 274.9 444.1 269.9 447.7Z"/>
<path fill="#1bbfc4" d="M107.6 455.3 112.7 453.1 96.2 451.7 91.1 453.8ZM167.2 455.4 172.2 453.2 155.8 451.7 150.7 453.9ZM226.7 455.5 231.8 453.3 215.4 451.8 210.3 454ZM145.6 456.1 150.7 453.9 134.2 452.4 129.1 454.6ZM205.2 456.2 210.3 454 193.8 452.5 188.7 454.7Z"/>
<path fill="#2a9ae6" d="M264.8 451.5 269.9 447.7 253.4 452.6 248.3 454.8Z"/>
<path fill="#1bbfc4" d="M124 456.8 129.1 454.6 112.7 453.1 107.6 455.3ZM183.6 456.8 188.7 454.7 172.2 453.2 167.2 455.4Z"/>
<path fill="#2a9ae6" d="M243.2 456.9 248.3 454.8 231.8 453.3 226.7 455.5ZM272.2 423.3 277.3 418 269.9 447.7 264.8 451.5Z"/>
<path fill="#1bbfc4" d="M102.5 457.5 107.6 455.3 91.1 453.8 86 456ZM162.1 457.5 167.2 455.4 150.7 453.9 145.6 456.1ZM221.7 457.6 226.7 455.5 210.3 454 205.2 456.2ZM140.5 458.2 145.6 456.1 129.1 454.6 124 456.8ZM200.1 458.3 205.2 456.2 188.7 454.7 183.6 456.8Z"/>
<path fill="#2a9ae6" d="M259.7 455.5 264.8 451.5 248.3 454.8 243.2 456.9Z"/>
<path fill="#1bbfc4" d="M119 458.9 124 456.8 107.6 455.3 102.5 457.5ZM178.5 459 183.6 456.8 167.2 455.4 162.1 457.5Z"/>
<path fill="#2a9ae6" d="M238.1 459.1 243.2 456.9 226.7 455.5 221.7 457.6ZM267.1 433.4 272.2 423.3 264.8 451.5 259.7 455.5Z"/>
<path fill="#1bbfc4" d="M157 459.7 162.1 457.5 145.6 456.1 140.5 458.2ZM216.6 459.8 221.7 457.6 205.2 456.2 200.1 458.3ZM135.4 460.4 140.5 458.2 124 456.8 119 458.9ZM195 460.5 200.1 458.3 183.6 456.8 178.5 459Z"/>
<path fill="#2a9ae6" d="M254.6 459.2 259.7 455.5 243.2 456.9 238.1 459.1Z"/>
<path fill="#1bbfc4" d="M173.5 461.2 178.5 459 162.1 457.5 157 459.7ZM233 461.3 238.1 459.1 221.7 457.6 216.6 459.8Z"/>
<path fill="#2a9ae6" d="M262 444.1 267.1 433.4 259.7 455.5 254.6 459.2Z"/>
<path fill="#1bbfc4" d="M151.9 461.9 157 459.7 140.5 458.2 135.4 460.4ZM211.5 462 216.6 459.8 200.1 458.3 195 460.5ZM189.9 462.7 195 460.5 178.5 459 173.5 461.2Z"/>
<path fill="#2a9ae6" d="M249.5 462.7 254.6 459.2 238.1 459.1 233 461.3Z"/>
<path fill="#1bbfc4" d="M168.4 463.3 173.5 461.2 157 459.7 151.9 461.9ZM228 463.4 233 461.3 216.6 459.8 211.5 462Z"/>
<path fill="#2a9ae6" d="M256.9 455.5 262 444.1 254.6 459.2 249.5 462.7Z"/>
<path fill="#1bbfc4" d="M206.4 464.1 211.5 462 195 460.5 189.9 462.7ZM184.8 464.8 189.9 462.7 173.5 461.2 168.4 463.3Z"/>
<path fill="#2a9ae6" d="M244.4 464.9 249.5 462.7 233 461.3 228 463.4Z"/>
<path fill="#1bbfc4" d="M222.9 465.6 228 463.4 211.5 462 206.4 464.1Z"/>
<path fill="#2a9ae6" d="M251.8 462.9 256.9 455.5 249.5 462.7 244.4 464.9Z"/>
<path fill="#1bbfc4" d="M201.3 466.3 206.4 464.1 189.9 462.7 184.8 464.8ZM239.3 467.1 244.4 464.9 228 463.4 222.9 465.6ZM217.8 467.8 222.9 465.6 206.4 464.1 201.3 466.3ZM246.7 467.7 251.8 462.9 244.4 464.9 239.3 467.1ZM255.8 468.5 260.9 466.4 251.8 462.9 246.7 467.7ZM234.2 469.2 239.3 467.1 222.9 465.6 217.8 467.8ZM241.7 469.9 246.7 467.7 239.3 467.1 234.2 469.2ZM250.7 470.7 255.8 468.5 246.7 467.7 241.7 469.9Z"/>
</g>
<line x1="55.5" y1="469" x2="55.5" y2="429.5" stroke="#262626" stroke-width="0.8"/>
<line x1="55.5" y1="469" x2="52" y2="469" stroke="#262626" stroke-width="0.8"/>
<line x1="55.5" y1="449.2" x2="52" y2="449.2" stroke="#262626" stroke-width="0.8"/>
<line x1="55.5" y1="429.5" x2="52" y2="429.5" stroke="#262626" stroke-width="0.8"/>
<line x1="55.5" y1="469" x2="220.2" y2="483.7" stroke="#262626" stroke-width="0.8"/>
<line x1="220.2" y1="483.7" x2="296.5" y2="451.2" stroke="#262626" stroke-width="0.8"/>
<line x1="220.2" y1="483.7" x2="223.2" y2="484" stroke="#262626" stroke-width="0.8"/>
<line x1="296.5" y1="451.2" x2="299.5" y2="451.5" stroke="#262626" stroke-width="0.8"/>
<line x1="220.2" y1="483.7" x2="217.4" y2="484.9" stroke="#262626" stroke-width="0.8"/>
<line x1="137.8" y1="476.3" x2="135.1" y2="477.5" stroke="#262626" stroke-width="0.8"/>
<line x1="55.5" y1="469" x2="52.7" y2="470.2" stroke="#262626" stroke-width="0.8"/>
<line x1="585.7" y1="483.7" x2="421" y2="469" stroke="#dcdcdc" stroke-width="0.7"/>
<line x1="421" y1="469" x2="421" y2="429.5" stroke="#dcdcdc" stroke-width="0.7"/>
<line x1="662" y1="451.2" x2="497.3" y2="436.5" stroke="#dcdcdc" stroke-width="0.7"/>
<line x1="497.3" y1="436.5" x2="497.3" y2="397" stroke="#dcdcdc" stroke-width="0.7"/>
<line x1="585.7" y1="483.7" x2="662" y2="451.2" stroke="#dcdcdc" stroke-width="0.7"/>
<line x1="662" y1="451.2" x2="662" y2="411.7" stroke="#dcdcdc" stroke-width="0.7"/>
<line x1="503.4" y1="476.3" x2="579.6" y2="443.8" stroke="#dcdcdc" stroke-width="0.7"/>
<line x1="579.6" y1="443.8" x2="579.6" y2="404.3" stroke="#dcdcdc" stroke-width="0.7"/>
<line x1="421" y1="469" x2="497.3" y2="436.5" stroke="#dcdcdc" stroke-width="0.7"/>
<line x1="497.3" y1="436.5" x2="497.3" y2="397" stroke="#dcdcdc" stroke-width="0.7"/>
<line x1="421" y1="469" x2="497.3" y2="436.5" stroke="#dcdcdc" stroke-width="0.7"/>
<line x1="497.3" y1="436.5" x2="662" y2="451.2" stroke="#dcdcdc" stroke-width="0.7"/>
<line x1="421" y1="449.2" x2="497.3" y2="416.8" stroke="#dcdcdc" stroke-width="0.7"/>
<line x1="497.3" y1="416.8" x2="662" y2="431.4" stroke="#dcdcdc" stroke-width="0.7"/>
<line x1="421" y1="429.5" x2="497.3" y2="397" stroke="#dcdcdc" stroke-width="0.7"/>
<line x1="497.3" y1="397" x2="662" y2="411.7" stroke="#dcdcdc" stroke-width="0.7"/>
<g stroke="#000" stroke-width="0.45" stroke-linejoin="round">
<path fill="#1bbfc4" d="M508.7 440.1 513.8 438 497.3 436.5 492.2 438.7ZM525.2 441.6 530.2 439.4 513.8 438 508.7 440.1ZM503.6 442.3 508.7 440.1 492.2 438.7 487.1 440.8ZM541.6 443.1 546.7 438.8 530.2 439.4 525.2 441.6ZM520.1 443.8 525.2 441.6 508.7 440.1 503.6 442.3ZM498.5 444.5 503.6 442.3 487.1 440.8 482 443Z"/>
<path fill="#2a96e6" d="M558.1 441.2 563.2 436 546.7 438.8 541.6 443.1Z"/>
<path fill="#1bbfc4" d="M536.5 445.2 541.6 443.1 525.2 441.6 520.1 443.8ZM515 445.9 520.1 443.8 503.6 442.3 498.5 444.5Z"/>
<path fill="#2a96e6" d="M574.6 438.4 579.6 433.1 563.2 436 558.1 441.2Z"/>
<path fill="#1bbfc4" d="M493.4 446.6 498.5 444.5 482 443 477 445.2ZM553 446.5 558.1 441.2 541.6 443.1 536.5 445.2ZM531.5 447.4 536.5 445.2 520.1 443.8 515 445.9Z"/>
<path fill="#2a96e6" d="M591 435.6 596.1 430.3 579.6 433.1 574.6 438.4Z"/>
<path fill="#1bbfc4" d="M509.9 448.1 515 445.9 498.5 444.5 493.4 446.6Z"/>
<path fill="#2a96e6" d="M569.5 443.7 574.6 438.4 558.1 441.2 553 446.5Z"/>
<path fill="#1bbfc4" d="M488.3 448.8 493.4 446.6 477 445.2 471.9 447.3ZM547.9 448.9 553 446.5 536.5 445.2 531.5 447.4Z"/>
<path fill="#2a96e6" d="M607.5 432.7 612.6 427.5 596.1 430.3 591 435.6Z"/>
<path fill="#1bbfc4" d="M526.4 449.6 531.5 447.4 515 445.9 509.9 448.1Z"/>
<path fill="#2a96e6" d="M585.9 440.9 591 435.6 574.6 438.4 569.5 443.7Z"/>
<path fill="#1bbfc4" d="M504.8 450.3 509.9 448.1 493.4 446.6 488.3 448.8ZM564.4 449 569.5 443.7 553 446.5 547.9 448.9Z"/>
<path fill="#2a96e6" d="M624 429.9 629.1 424.6 612.6 427.5 607.5 432.7Z"/>
<path fill="#1bbfc4" d="M483.2 451 488.3 448.8 471.9 447.3 466.8 449.5ZM542.8 451 547.9 448.9 531.5 447.4 526.4 449.6Z"/>
<path fill="#2a96e6" d="M602.4 438 607.5 432.7 591 435.6 585.9 440.9Z"/>
<path fill="#1bbfc4" d="M521.3 451.7 526.4 449.6 509.9 448.1 504.8 450.3Z"/>
<path fill="#f4dc28" d="M637.1 429.1 642.2 424.2 629.1 424.6 624 429.9Z"/>
<path fill="#2a96e6" d="M580.9 446.1 585.9 440.9 569.5 443.7 564.4 449Z"/>
<path fill="#1bbfc4" d="M499.7 452.4 504.8 450.3 488.3 448.8 483.2 451ZM559.3 452.5 564.4 449 547.9 448.9 542.8 451Z"/>
<path fill="#2a96e6" d="M618.9 435.2 624 429.9 607.5 432.7 602.4 438Z"/>
<path fill="#1bbfc4" d="M478.2 453.1 483.2 451 466.8 449.5 461.7 451.7ZM537.7 453.2 542.8 451 526.4 449.6 521.3 451.7Z"/>
<path fill="#bcc42a" d="M656.9 453.4 662 451.2 642.2 424.2 637.1 429.1Z"/>
<path fill="#2a96e6" d="M597.3 443.3 602.4 438 585.9 440.9 580.9 446.1Z"/>
<path fill="#1bbfc4" d="M516.2 453.9 521.3 451.7 504.8 450.3 499.7 452.4Z"/>
<path fill="#f0cc2c" d="M632.1 434.1 637.1 429.1 624 429.9 618.9 435.2Z"/>
<path fill="#2a96e6" d="M575.8 451.4 580.9 446.1 564.4 449 559.3 452.5Z"/>
<path fill="#1bbfc4" d="M494.6 454.6 499.7 452.4 483.2 451 478.2 453.1ZM554.2 454.7 559.3 452.5 542.8 451 537.7 453.2Z"/>
<path fill="#2a96e6" d="M613.8 440.5 618.9 435.2 602.4 438 597.3 443.3Z"/>
<path fill="#1bbfc4" d="M473.1 455.3 478.2 453.1 461.7 451.7 456.6 453.8ZM532.7 455.4 537.7 453.2 521.3 451.7 516.2 453.9Z"/>
<path fill="#c0c42c" d="M651.8 455.5 656.9 453.4 637.1 429.1 632.1 434.1Z"/>
<path fill="#2a96e6" d="M592.2 448.6 597.3 443.3 580.9 446.1 575.8 451.4Z"/>
<path fill="#1bbfc4" d="M511.1 456.1 516.2 453.9 499.7 452.4 494.6 454.6Z"/>
<path fill="#e8b83a" d="M627 439.1 632.1 434.1 618.9 435.2 613.8 440.5Z"/>
<path fill="#1bbfc4" d="M570.7 456.2 575.8 451.4 559.3 452.5 554.2 454.7ZM489.5 456.8 494.6 454.6 478.2 453.1 473.1 455.3ZM549.1 456.8 554.2 454.7 537.7 453.2 532.7 455.4Z"/>
<path fill="#2a96e6" d="M608.7 445.8 613.8 440.5 597.3 443.3 592.2 448.6Z"/>
<path fill="#1bbfc4" d="M468 457.5 473.1 455.3 456.6 453.8 451.5 456ZM527.6 457.5 532.7 455.4 516.2 453.9 511.1 456.1Z"/>
<path fill="#c4c62c" d="M646.7 457.7 651.8 455.5 632.1 434.1 627 439.1Z"/>
<path fill="#2a96e6" d="M587.2 453.9 592.2 448.6 575.8 451.4 570.7 456.2Z"/>
<path fill="#1bbfc4" d="M506 458.2 511.1 456.1 494.6 454.6 489.5 456.8Z"/>
<path fill="#a8c448" d="M621.9 444.1 627 439.1 613.8 440.5 608.7 445.8Z"/>
<path fill="#1bbfc4" d="M565.6 458.3 570.7 456.2 554.2 454.7 549.1 456.8ZM484.5 458.9 489.5 456.8 473.1 455.3 468 457.5ZM544 459 549.1 456.8 532.7 455.4 527.6 457.5Z"/>
<path fill="#2a96e6" d="M603.6 451 608.7 445.8 592.2 448.6 587.2 453.9Z"/>
<path fill="#1bbfc4" d="M522.5 459.7 527.6 457.5 511.1 456.1 506 458.2Z"/>
<path fill="#ccc62c" d="M641.7 459.9 646.7 457.7 627 439.1 621.9 444.1Z"/>
<path fill="#1bbfc4" d="M582.1 459.1 587.2 453.9 570.7 456.2 565.6 458.3ZM500.9 460.4 506 458.2 489.5 456.8 484.5 458.9Z"/>
<path fill="#5cc880" d="M616.8 449 621.9 444.1 608.7 445.8 603.6 451Z"/>
<path fill="#1bbfc4" d="M560.5 460.5 565.6 458.3 549.1 456.8 544 459ZM539 461.2 544 459 527.6 457.5 522.5 459.7Z"/>
<path fill="#2a96e6" d="M598.5 456.3 603.6 451 587.2 453.9 582.1 459.1Z"/>
<path fill="#1bbfc4" d="M517.4 461.9 522.5 459.7 506 458.2 500.9 460.4Z"/>
<path fill="#d6c42c" d="M636.6 462 641.7 459.9 621.9 444.1 616.8 449Z"/>
<path fill="#1bbfc4" d="M577 462 582.1 459.1 565.6 458.3 560.5 460.5Z"/>
<path fill="#3cc49c" d="M611.7 454 616.8 449 603.6 451 598.5 456.3Z"/>
<path fill="#1bbfc4" d="M555.4 462.7 560.5 460.5 544 459 539 461.2ZM533.9 463.3 539 461.2 522.5 459.7 517.4 461.9Z"/>
<path fill="#2a96e6" d="M593.5 461.6 598.5 456.3 582.1 459.1 577 462Z"/>
<path fill="#e0c030" d="M631.5 464.2 636.6 462 616.8 449 611.7 454Z"/>
<path fill="#1bbfc4" d="M571.9 464.1 577 462 560.5 460.5 555.4 462.7Z"/>
<path fill="#20c0b4" d="M606.6 459 611.7 454 598.5 456.3 593.5 461.6Z"/>
<path fill="#1bbfc4" d="M550.3 464.8 555.4 462.7 539 461.2 533.9 463.3ZM588.4 465.6 593.5 461.6 577 462 571.9 464.1Z"/>
<path fill="#e6b834" d="M626.4 466.4 631.5 464.2 611.7 454 606.6 459Z"/>
<path fill="#1bbfc4" d="M566.8 466.3 571.9 464.1 555.4 462.7 550.3 464.8Z"/>
<path fill="#1cbcc0" d="M601.5 464 606.6 459 593.5 461.6 588.4 465.6Z"/>
<path fill="#1bbfc4" d="M583.3 467.8 588.4 465.6 571.9 464.1 566.8 466.3Z"/>
<path fill="#e0b83a" d="M621.3 468.5 626.4 466.4 606.6 459 601.5 464Z"/>
<path fill="#1cb8c0" d="M596.5 468.9 601.5 464 588.4 465.6 583.3 467.8Z"/>
<path fill="#c8c832" d="M616.2 470.7 621.3 468.5 601.5 464 596.5 468.9Z"/>
</g>
<line x1="421" y1="469" x2="421" y2="429.5" stroke="#262626" stroke-width="0.8"/>
<line x1="421" y1="469" x2="417.5" y2="469" stroke="#262626" stroke-width="0.8"/>
<line x1="421" y1="449.2" x2="417.5" y2="449.2" stroke="#262626" stroke-width="0.8"/>
<line x1="421" y1="429.5" x2="417.5" y2="429.5" stroke="#262626" stroke-width="0.8"/>
<line x1="421" y1="469" x2="585.7" y2="483.7" stroke="#262626" stroke-width="0.8"/>
<line x1="585.7" y1="483.7" x2="662" y2="451.2" stroke="#262626" stroke-width="0.8"/>
<line x1="585.7" y1="483.7" x2="588.7" y2="484" stroke="#262626" stroke-width="0.8"/>
<line x1="662" y1="451.2" x2="665" y2="451.5" stroke="#262626" stroke-width="0.8"/>
<line x1="585.7" y1="483.7" x2="582.9" y2="484.9" stroke="#262626" stroke-width="0.8"/>
<line x1="503.4" y1="476.3" x2="500.6" y2="477.5" stroke="#262626" stroke-width="0.8"/>
<line x1="421" y1="469" x2="418.2" y2="470.2" stroke="#262626" stroke-width="0.8"/>
<text x="0" y="12.5" font-size="17.6" text-anchor="start" font-weight="bold">a</text>
<text x="365.5" y="12.5" font-size="17.6" text-anchor="start" font-weight="bold">b</text>
<text x="0" y="146.7" font-size="17.6" text-anchor="start" font-weight="bold">c</text>
<text x="365.5" y="146.7" font-size="17.6" text-anchor="start" font-weight="bold">d</text>
<text x="0" y="270.6" font-size="17.6" text-anchor="start" font-weight="bold">e</text>
<text x="365.5" y="270.6" font-size="17.6" text-anchor="start" font-weight="bold">f</text>
<text x="0" y="413" font-size="17.6" text-anchor="start" font-weight="bold">g</text>
<text x="365.5" y="413" font-size="17.6" text-anchor="start" font-weight="bold">h</text>
<text x="24.6" y="54.5" font-size="14" text-anchor="middle" font-weight="normal" transform="rotate(-90 24.6 54.5)">Growth rate</text>
<text x="48.3" y="78.1" font-size="12.4" text-anchor="end" font-weight="normal">0</text>
<text x="48.3" y="53.9" font-size="12.4" text-anchor="end" font-weight="normal">0.5</text>
<text x="48.3" y="29.6" font-size="12.4" text-anchor="end" font-weight="normal">1</text>
<text x="42.2" y="88.8" font-size="12.4" text-anchor="middle" font-weight="normal">10</text>
<text x="96.4" y="100" font-size="12.4" text-anchor="middle" font-weight="normal">5</text>
<text x="148.7" y="110.2" font-size="12.4" text-anchor="middle" font-weight="normal">0</text>
<text x="171.9" y="110.2" font-size="12.4" text-anchor="middle" font-weight="normal">0</text>
<text x="240" y="102.2" font-size="12.4" text-anchor="middle" font-weight="normal">5</text>
<text x="311.2" y="93.8" font-size="12.4" text-anchor="middle" font-weight="normal">10</text>
<text x="4.4" y="124.8" font-size="14.05" text-anchor="start" font-weight="normal">Oxygen uptake</text>
<text x="226" y="126.3" font-size="14.05" text-anchor="start" font-weight="normal">Xylose uptake</text>
<text x="390.1" y="54.5" font-size="14" text-anchor="middle" font-weight="normal" transform="rotate(-90 390.1 54.5)">Growth rate</text>
<text x="413.8" y="78.1" font-size="12.4" text-anchor="end" font-weight="normal">0</text>
<text x="413.8" y="53.9" font-size="12.4" text-anchor="end" font-weight="normal">0.5</text>
<text x="413.8" y="29.6" font-size="12.4" text-anchor="end" font-weight="normal">1</text>
<text x="407.7" y="88.8" font-size="12.4" text-anchor="middle" font-weight="normal">10</text>
<text x="461.9" y="100" font-size="12.4" text-anchor="middle" font-weight="normal">5</text>
<text x="514.2" y="110.2" font-size="12.4" text-anchor="middle" font-weight="normal">0</text>
<text x="537.4" y="110.2" font-size="12.4" text-anchor="middle" font-weight="normal">0</text>
<text x="605.5" y="102.2" font-size="12.4" text-anchor="middle" font-weight="normal">5</text>
<text x="676.7" y="93.8" font-size="12.4" text-anchor="middle" font-weight="normal">10</text>
<text x="369.9" y="124.8" font-size="14.05" text-anchor="start" font-weight="normal">Oxygen uptake</text>
<text x="591.5" y="126.3" font-size="14.05" text-anchor="start" font-weight="normal">Xylose uptake</text>
<text x="22.3" y="183.6" font-size="14" text-anchor="middle" font-weight="normal" transform="rotate(-90 22.3 183.6)">CO<tspan font-size="10.6" dy="5.6">2</tspan><tspan dy="-5.6"> Flux</tspan></text>
<text x="48.3" y="208.8" font-size="12.4" text-anchor="end" font-weight="normal">0</text>
<text x="48.3" y="184.8" font-size="12.4" text-anchor="end" font-weight="normal">10</text>
<text x="48.3" y="160.7" font-size="12.4" text-anchor="end" font-weight="normal">20</text>
<text x="42.2" y="217.6" font-size="12.4" text-anchor="middle" font-weight="normal">10</text>
<text x="96.4" y="228.8" font-size="12.4" text-anchor="middle" font-weight="normal">5</text>
<text x="148.7" y="238.9" font-size="12.4" text-anchor="middle" font-weight="normal">0</text>
<text x="171.9" y="238.9" font-size="12.4" text-anchor="middle" font-weight="normal">0</text>
<text x="240" y="230.9" font-size="12.4" text-anchor="middle" font-weight="normal">5</text>
<text x="311.2" y="222.6" font-size="12.4" text-anchor="middle" font-weight="normal">10</text>
<text x="4.4" y="253.6" font-size="14.05" text-anchor="start" font-weight="normal">Oxygen uptake</text>
<text x="226" y="255.1" font-size="14.05" text-anchor="start" font-weight="normal">Xylose uptake</text>
<text x="387.8" y="183.6" font-size="14" text-anchor="middle" font-weight="normal" transform="rotate(-90 387.8 183.6)">CO<tspan font-size="10.6" dy="5.6">2</tspan><tspan dy="-5.6"> Flux</tspan></text>
<text x="413.8" y="208.8" font-size="12.4" text-anchor="end" font-weight="normal">0</text>
<text x="413.8" y="184.8" font-size="12.4" text-anchor="end" font-weight="normal">10</text>
<text x="413.8" y="160.7" font-size="12.4" text-anchor="end" font-weight="normal">20</text>
<text x="407.7" y="217.6" font-size="12.4" text-anchor="middle" font-weight="normal">10</text>
<text x="461.9" y="228.8" font-size="12.4" text-anchor="middle" font-weight="normal">5</text>
<text x="514.2" y="238.9" font-size="12.4" text-anchor="middle" font-weight="normal">0</text>
<text x="537.4" y="238.9" font-size="12.4" text-anchor="middle" font-weight="normal">0</text>
<text x="605.5" y="230.9" font-size="12.4" text-anchor="middle" font-weight="normal">5</text>
<text x="676.7" y="222.6" font-size="12.4" text-anchor="middle" font-weight="normal">10</text>
<text x="369.9" y="253.6" font-size="14.05" text-anchor="start" font-weight="normal">Oxygen uptake</text>
<text x="591.5" y="255.1" font-size="14.05" text-anchor="start" font-weight="normal">Xylose uptake</text>
<text x="28" y="312.2" font-size="14" text-anchor="middle" font-weight="normal" transform="rotate(-90 28 312.2)">Ethanol Flux</text>
<text x="48.3" y="337" font-size="12.4" text-anchor="end" font-weight="normal">0</text>
<text x="48.3" y="320.9" font-size="12.4" text-anchor="end" font-weight="normal">5</text>
<text x="48.3" y="304.8" font-size="12.4" text-anchor="end" font-weight="normal">10</text>
<text x="48.3" y="288.7" font-size="12.4" text-anchor="end" font-weight="normal">15</text>
<text x="42.2" y="347.5" font-size="12.4" text-anchor="middle" font-weight="normal">10</text>
<text x="96.4" y="358.7" font-size="12.4" text-anchor="middle" font-weight="normal">5</text>
<text x="148.7" y="368.9" font-size="12.4" text-anchor="middle" font-weight="normal">0</text>
<text x="171.9" y="368.9" font-size="12.4" text-anchor="middle" font-weight="normal">0</text>
<text x="240" y="360.9" font-size="12.4" text-anchor="middle" font-weight="normal">5</text>
<text x="311.2" y="352.5" font-size="12.4" text-anchor="middle" font-weight="normal">10</text>
<text x="4.4" y="382.7" font-size="14.05" text-anchor="start" font-weight="normal">Oxygen uptake</text>
<text x="226" y="384.2" font-size="14.05" text-anchor="start" font-weight="normal">Xylose uptake</text>
<text x="393.5" y="312.2" font-size="14" text-anchor="middle" font-weight="normal" transform="rotate(-90 393.5 312.2)">Ethanol Flux</text>
<text x="413.8" y="337" font-size="12.4" text-anchor="end" font-weight="normal">0</text>
<text x="413.8" y="320.9" font-size="12.4" text-anchor="end" font-weight="normal">5</text>
<text x="413.8" y="304.8" font-size="12.4" text-anchor="end" font-weight="normal">10</text>
<text x="413.8" y="288.7" font-size="12.4" text-anchor="end" font-weight="normal">15</text>
<text x="407.7" y="347.5" font-size="12.4" text-anchor="middle" font-weight="normal">10</text>
<text x="461.9" y="358.7" font-size="12.4" text-anchor="middle" font-weight="normal">5</text>
<text x="514.2" y="368.9" font-size="12.4" text-anchor="middle" font-weight="normal">0</text>
<text x="537.4" y="368.9" font-size="12.4" text-anchor="middle" font-weight="normal">0</text>
<text x="605.5" y="360.9" font-size="12.4" text-anchor="middle" font-weight="normal">5</text>
<text x="676.7" y="352.5" font-size="12.4" text-anchor="middle" font-weight="normal">10</text>
<text x="369.9" y="382.7" font-size="14.05" text-anchor="start" font-weight="normal">Oxygen uptake</text>
<text x="591.5" y="384.2" font-size="14.05" text-anchor="start" font-weight="normal">Xylose uptake</text>
<text x="23" y="452.8" font-size="14" text-anchor="middle" font-weight="normal" transform="rotate(-90 23 452.8)">Xylitol Flux</text>
<text x="47.3" y="434.8" font-size="12.4" text-anchor="end" font-weight="normal">1</text>
<text x="47.7" y="454" font-size="12.4" text-anchor="end" font-weight="normal">0.5</text>
<text x="47.7" y="473.9" font-size="12.4" text-anchor="end" font-weight="normal">0</text>
<text x="43.5" y="484" font-size="12.4" text-anchor="middle" font-weight="normal">1</text>
<text x="121.9" y="493" font-size="12.4" text-anchor="middle" font-weight="normal">0.5</text>
<text x="209.3" y="500.8" font-size="12.4" text-anchor="middle" font-weight="normal">0</text>
<text x="233.2" y="497.9" font-size="12.4" text-anchor="middle" font-weight="normal">0</text>
<text x="308.4" y="465" font-size="12.4" text-anchor="middle" font-weight="normal">5</text>
<text x="46.1" y="514.5" font-size="14.05" text-anchor="start" font-weight="normal">Oxygen uptake</text>
<text x="388.5" y="452.8" font-size="14" text-anchor="middle" font-weight="normal" transform="rotate(-90 388.5 452.8)">Xylitol Flux</text>
<text x="412.8" y="434.8" font-size="12.4" text-anchor="end" font-weight="normal">1</text>
<text x="413.2" y="454" font-size="12.4" text-anchor="end" font-weight="normal">0.5</text>
<text x="413.2" y="473.9" font-size="12.4" text-anchor="end" font-weight="normal">0</text>
<text x="409" y="484" font-size="12.4" text-anchor="middle" font-weight="normal">1</text>
<text x="487.4" y="493" font-size="12.4" text-anchor="middle" font-weight="normal">0.5</text>
<text x="574.8" y="500.8" font-size="12.4" text-anchor="middle" font-weight="normal">0</text>
<text x="598.7" y="497.9" font-size="12.4" text-anchor="middle" font-weight="normal">0</text>
<text x="673.9" y="465" font-size="12.4" text-anchor="middle" font-weight="normal">5</text>
<text x="411.6" y="514.5" font-size="14.05" text-anchor="start" font-weight="normal">Oxygen uptake</text>
<text x="265.9" y="510.5" font-size="14.05" text-anchor="start" font-weight="normal">Xylose uptake</text>
<text x="596.5" y="516.3" font-size="14.05" text-anchor="start" font-weight="normal">Xylose uptake</text></svg></body></html>
